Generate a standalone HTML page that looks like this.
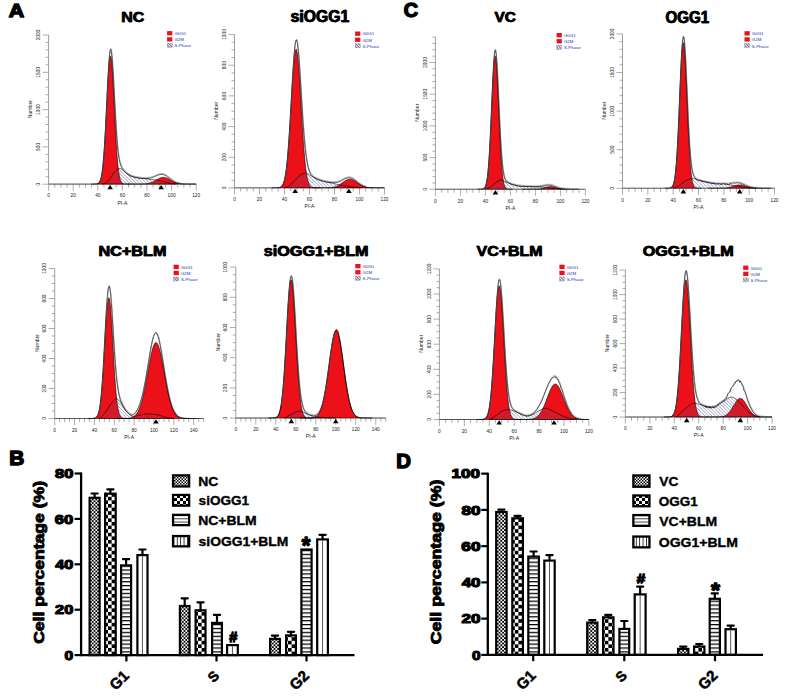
<!DOCTYPE html>
<html><head><meta charset="utf-8"><title>Figure</title><style>
html,body{margin:0;padding:0;background:#fff;}
svg{display:block;}
text{font-family:"Liberation Sans",sans-serif;}
.tl{font-size:4.8px;fill:#222;}
.nl{font-size:5.1px;fill:#222;}
.lg{font-size:4.4px;fill:#2233bb;}
.blk{fill:#000;color:#000;}
</style></head><body>
<svg width="797" height="700" viewBox="0 0 797 700">
<defs>
<pattern id="hatch" patternUnits="userSpaceOnUse" width="2.4" height="2.4" patternTransform="rotate(-45)"><line x1="0" y1="0" x2="0" y2="2.4" stroke="#4a4f8a" stroke-width="0.75"/></pattern>
<pattern id="hatch2" patternUnits="userSpaceOnUse" width="2" height="2" patternTransform="rotate(-45)"><rect width="2" height="2" fill="#fff"/><line x1="0.5" y1="0" x2="0.5" y2="2" stroke="#4a4f8a" stroke-width="0.9"/></pattern>
<pattern id="p1" patternUnits="userSpaceOnUse" width="3.6" height="3.6"><rect width="3.6" height="3.6" fill="#fff"/><rect width="1.8" height="1.8" fill="#000"/><rect x="1.8" y="1.8" width="1.8" height="1.8" fill="#000"/></pattern>
<pattern id="p2" patternUnits="userSpaceOnUse" width="7.2" height="7.2"><rect width="7.2" height="7.2" fill="#fff"/><rect width="3.6" height="3.6" fill="#000"/><rect x="3.6" y="3.6" width="3.6" height="3.6" fill="#000"/></pattern>
<pattern id="p3" patternUnits="userSpaceOnUse" width="4" height="3.9"><rect width="4" height="3.9" fill="#fff"/><rect y="0" width="4" height="1.25" fill="#000"/></pattern>
<pattern id="p4" patternUnits="userSpaceOnUse" width="100" height="4"><rect width="100" height="4" fill="#fff"/></pattern>
<pattern id="l1" patternUnits="userSpaceOnUse" width="3" height="3"><rect width="3" height="3" fill="#fff"/><rect width="1.5" height="1.5" fill="#000"/><rect x="1.5" y="1.5" width="1.5" height="1.5" fill="#000"/></pattern>
<pattern id="l2" patternUnits="userSpaceOnUse" width="6" height="6"><rect width="6" height="6" fill="#fff"/><rect width="3" height="3" fill="#000"/><rect x="3" y="3" width="3" height="3" fill="#000"/></pattern>
<pattern id="l3" patternUnits="userSpaceOnUse" width="4" height="3.2"><rect width="4" height="3.2" fill="#fff"/><rect y="0" width="4" height="0.9" fill="#222"/></pattern>
<pattern id="l4" patternUnits="userSpaceOnUse" width="3.4" height="4"><rect width="3.4" height="4" fill="#fff"/><rect x="0" width="0.9" height="4" fill="#222"/></pattern>
</defs>
<rect width="797" height="700" fill="#fff"/>
<clipPath id="c0"><rect x="48.6" y="23" width="147.6" height="161.5"/></clipPath>
<path d="M48.6,35V184.2H196.2" fill="none" stroke="#777" stroke-width="0.7"/>
<path d="M42.6,184.2H48.6M45.6,176.74H48.6M45.6,169.28H48.6M45.6,161.82H48.6M45.6,154.36H48.6M42.6,146.9H48.6M45.6,139.44H48.6M45.6,131.98H48.6M45.6,124.52H48.6M45.6,117.06H48.6M42.6,109.6H48.6M45.6,102.14H48.6M45.6,94.68H48.6M45.6,87.22H48.6M45.6,79.76H48.6M42.6,72.3H48.6M45.6,64.84H48.6M45.6,57.38H48.6M45.6,49.92H48.6M45.6,42.46H48.6M42.6,35H48.6M48.6,184.2V190.7M54.75,184.2V187.7M60.9,184.2V187.7M67.05,184.2V187.7M73.2,184.2V190.7M79.35,184.2V187.7M85.5,184.2V187.7M91.65,184.2V187.7M97.8,184.2V190.7M103.95,184.2V187.7M110.1,184.2V187.7M116.25,184.2V187.7M122.4,184.2V190.7M128.55,184.2V187.7M134.7,184.2V187.7M140.85,184.2V187.7M147,184.2V190.7M153.15,184.2V187.7M159.3,184.2V187.7M165.45,184.2V187.7M171.6,184.2V190.7M177.75,184.2V187.7M183.9,184.2V187.7M190.05,184.2V187.7M196.2,184.2V190.7" stroke="#777" stroke-width="0.6"/>
<g clip-path="url(#c0)">
<path d="M91.4,184.2 L91.71,184.2 L92.02,184.2 L92.33,184.2 L92.63,184.2 L92.94,184.2 L93.25,184.2 L93.56,184.19 L93.86,184.19 L94.17,184.19 L94.48,184.18 L94.79,184.17 L95.09,184.16 L95.4,184.15 L95.71,184.13 L96.02,184.1 L96.32,184.07 L96.63,184.02 L96.94,183.96 L97.25,183.89 L97.55,183.79 L97.86,183.66 L98.17,183.49 L98.48,183.29 L98.78,183.03 L99.09,182.7 L99.4,182.3 L99.71,181.81 L100.01,181.21 L100.32,180.48 L100.63,179.61 L100.94,178.56 L101.24,177.33 L101.55,175.87 L101.86,174.18 L102.17,172.21 L102.47,169.96 L102.78,167.39 L103.09,164.48 L103.4,161.23 L103.7,157.61 L104.01,153.62 L104.32,149.26 L104.63,144.53 L104.93,139.46 L105.24,134.07 L105.55,128.39 L105.86,122.47 L106.16,116.36 L106.47,110.14 L106.78,103.87 L107.09,97.63 L107.39,91.51 L107.7,85.6 L108.01,80 L108.32,74.79 L108.62,70.06 L108.93,65.91 L109.24,62.39 L109.55,59.59 L109.85,57.55 L110.16,56.3 L110.47,55.89 L110.78,56.3 L111.08,57.55 L111.39,59.59 L111.7,62.39 L112.01,65.91 L112.31,70.06 L112.62,74.79 L112.93,80 L113.24,85.6 L113.54,91.51 L113.85,97.63 L114.16,103.87 L114.47,110.14 L114.77,116.36 L115.08,122.47 L115.39,128.39 L115.7,134.07 L116,139.46 L116.31,144.53 L116.62,149.26 L116.93,153.62 L117.23,157.61 L117.54,161.23 L117.85,164.48 L118.16,167.39 L118.46,169.96 L118.77,172.21 L119.08,174.18 L119.39,175.87 L119.69,177.33 L120,178.56 L120.31,179.61 L120.62,180.48 L120.92,181.21 L121.23,181.81 L121.54,182.3 L121.85,182.7 L122.15,183.03 L122.46,183.29 L122.77,183.49 L123.08,183.66 L123.38,183.79 L123.69,183.89 L124,183.96 L124.31,184.02 L124.61,184.07 L124.92,184.1 L125.23,184.13 L125.54,184.15 L125.84,184.16 L126.15,184.17 L126.46,184.18 L126.77,184.19 L127.07,184.19 L127.38,184.19 L127.69,184.2 L128,184.2 L128.3,184.2 L128.61,184.2 L128.92,184.2 L129.23,184.2 L129.53,184.2 L129.53,184.2 L91.4,184.2 Z" fill="#ec1018" stroke="#000" stroke-width="0.6"/>
<path d="M127.69,184.2 L128,184.2 L128.3,184.2 L128.61,184.2 L128.92,184.2 L129.23,184.2 L129.53,184.2 L129.84,184.2 L130.15,184.2 L130.46,184.2 L130.76,184.2 L131.07,184.2 L131.38,184.2 L131.69,184.2 L131.99,184.2 L132.3,184.2 L132.61,184.2 L132.92,184.2 L133.22,184.2 L133.53,184.2 L133.84,184.2 L134.15,184.2 L134.45,184.2 L134.76,184.2 L135.07,184.2 L135.38,184.2 L135.68,184.2 L135.99,184.2 L136.3,184.19 L136.61,184.19 L136.91,184.19 L137.22,184.19 L137.53,184.19 L137.84,184.19 L138.14,184.19 L138.45,184.18 L138.76,184.18 L139.07,184.18 L139.37,184.18 L139.68,184.17 L139.99,184.17 L140.3,184.16 L140.6,184.16 L140.91,184.15 L141.22,184.14 L141.53,184.14 L141.83,184.13 L142.14,184.12 L142.45,184.11 L142.76,184.09 L143.06,184.08 L143.37,184.06 L143.68,184.05 L143.99,184.03 L144.29,184.01 L144.6,183.98 L144.91,183.96 L145.22,183.93 L145.52,183.9 L145.83,183.86 L146.14,183.83 L146.45,183.79 L146.75,183.74 L147.06,183.7 L147.37,183.64 L147.68,183.59 L147.98,183.53 L148.29,183.46 L148.6,183.39 L148.91,183.32 L149.21,183.24 L149.52,183.15 L149.83,183.06 L150.14,182.97 L150.44,182.87 L150.75,182.76 L151.06,182.65 L151.37,182.53 L151.67,182.41 L151.98,182.28 L152.29,182.14 L152.6,182 L152.9,181.85 L153.21,181.7 L153.52,181.55 L153.83,181.39 L154.13,181.23 L154.44,181.06 L154.75,180.89 L155.06,180.71 L155.36,180.54 L155.67,180.36 L155.98,180.18 L156.29,180 L156.59,179.82 L156.9,179.64 L157.21,179.47 L157.52,179.29 L157.82,179.12 L158.13,178.95 L158.44,178.79 L158.75,178.63 L159.05,178.48 L159.36,178.33 L159.67,178.2 L159.98,178.07 L160.28,177.95 L160.59,177.83 L160.9,177.73 L161.21,177.64 L161.51,177.56 L161.82,177.49 L162.13,177.44 L162.44,177.39 L162.74,177.36 L163.05,177.34 L163.36,177.34 L163.67,177.34 L163.97,177.36 L164.28,177.39 L164.59,177.44 L164.9,177.49 L165.2,177.56 L165.51,177.64 L165.82,177.73 L166.13,177.83 L166.43,177.95 L166.74,178.07 L167.05,178.2 L167.36,178.33 L167.66,178.48 L167.97,178.63 L168.28,178.79 L168.59,178.95 L168.89,179.12 L169.2,179.29 L169.51,179.47 L169.82,179.64 L170.12,179.82 L170.43,180 L170.74,180.18 L171.05,180.36 L171.35,180.54 L171.66,180.71 L171.97,180.89 L172.28,181.06 L172.58,181.23 L172.89,181.39 L173.2,181.55 L173.51,181.7 L173.81,181.85 L174.12,182 L174.43,182.14 L174.74,182.28 L175.04,182.41 L175.35,182.53 L175.66,182.65 L175.97,182.76 L176.27,182.87 L176.58,182.97 L176.89,183.06 L177.2,183.15 L177.5,183.24 L177.81,183.32 L178.12,183.39 L178.43,183.46 L178.73,183.53 L179.04,183.59 L179.35,183.64 L179.66,183.7 L179.96,183.74 L180.27,183.79 L180.58,183.83 L180.89,183.86 L181.19,183.9 L181.5,183.93 L181.81,183.96 L182.12,183.98 L182.42,184.01 L182.73,184.03 L183.04,184.05 L183.35,184.06 L183.65,184.08 L183.96,184.09 L184.27,184.11 L184.58,184.12 L184.88,184.13 L185.19,184.14 L185.5,184.14 L185.81,184.15 L186.11,184.16 L186.42,184.16 L186.73,184.17 L187.04,184.17 L187.34,184.18 L187.65,184.18 L187.96,184.18 L188.27,184.18 L188.57,184.19 L188.88,184.19 L189.19,184.19 L189.5,184.19 L189.8,184.19 L190.11,184.19 L190.42,184.19 L190.73,184.2 L191.03,184.2 L191.34,184.2 L191.65,184.2 L191.96,184.2 L192.26,184.2 L192.57,184.2 L192.88,184.2 L193.19,184.2 L193.49,184.2 L193.8,184.2 L194.11,184.2 L194.42,184.2 L194.72,184.2 L195.03,184.2 L195.34,184.2 L195.65,184.2 L195.95,184.2 L196.26,184.2 L196.57,184.2 L196.88,184.2 L197.18,184.2 L197.49,184.2 L197.8,184.2 L198.11,184.2 L198.41,184.2 L198.72,184.2 L199.03,184.2 L199.03,184.2 L127.69,184.2 Z" fill="#ec1018" stroke="#000" stroke-width="0.6"/>
<path d="M101.49,184.2 L102.11,184.08 L102.72,183.94 L103.34,183.77 L103.95,183.58 L104.56,183.34 L105.18,183.06 L105.8,182.73 L106.41,182.33 L107.03,181.84 L107.64,181.24 L108.25,180.55 L108.87,179.8 L109.48,179.02 L110.1,178.23 L110.72,177.41 L111.33,176.52 L111.94,175.6 L112.56,174.68 L113.18,173.81 L113.79,173.01 L114.41,172.28 L115.02,171.58 L115.63,170.92 L116.25,170.31 L116.87,169.76 L117.48,169.28 L118.09,168.9 L118.71,168.66 L119.32,168.54 L119.94,168.53 L120.56,168.65 L121.17,168.89 L121.78,169.24 L122.4,169.65 L123.01,170.15 L123.63,170.72 L124.25,171.33 L124.86,171.94 L125.47,172.51 L126.09,173.01 L126.71,173.46 L127.32,173.89 L127.94,174.3 L128.55,174.69 L129.16,175.06 L129.78,175.4 L130.4,175.72 L131.01,175.99 L131.62,176.24 L132.24,176.47 L132.85,176.67 L133.47,176.86 L134.09,177.03 L134.7,177.18 L135.31,177.32 L135.93,177.46 L136.54,177.59 L137.16,177.71 L137.78,177.83 L138.39,177.93 L139,178.03 L139.62,178.11 L140.24,178.19 L140.85,178.27 L141.47,178.34 L142.08,178.4 L142.69,178.47 L143.31,178.54 L143.93,178.61 L144.54,178.68 L145.16,178.75 L145.77,178.82 L146.38,178.89 L147,178.96 L147.62,179.02 L148.23,179.09 L148.84,179.16 L149.46,179.22 L150.07,179.29 L150.69,179.36 L151.31,179.43 L151.92,179.5 L152.53,179.57 L153.15,179.65 L153.76,179.72 L154.38,179.8 L155,179.87 L155.61,179.95 L156.22,180.04 L156.84,180.13 L157.46,180.22 L158.07,180.32 L158.69,180.43 L159.3,180.54 L159.91,180.66 L160.53,180.79 L161.15,180.93 L161.76,181.07 L162.38,181.21 L162.99,181.37 L163.6,181.53 L164.22,181.7 L164.84,181.88 L165.45,182.07 L166.06,182.25 L166.68,182.44 L167.29,182.62 L167.91,182.79 L168.53,182.94 L169.14,183.08 L169.75,183.21 L170.37,183.33 L170.99,183.45 L171.6,183.56 L172.22,183.66 L172.83,183.76 L173.44,183.86 L174.06,183.94 L174.68,184.02 L175.29,184.09 L175.91,184.15 L176.52,184.2 L176.52,184.2 L101.49,184.2 Z" fill="url(#hatch)" stroke="#000" stroke-width="0.6"/>
<path d="M48.6,184.2 L49.22,184.2 L49.83,184.2 L50.45,184.2 L51.06,184.2 L51.68,184.2 L52.29,184.2 L52.91,184.2 L53.52,184.2 L54.14,184.2 L54.75,184.2 L55.37,184.2 L55.98,184.2 L56.59,184.2 L57.21,184.2 L57.83,184.2 L58.44,184.2 L59.05,184.2 L59.67,184.2 L60.29,184.2 L60.9,184.2 L61.52,184.2 L62.13,184.2 L62.75,184.2 L63.36,184.2 L63.98,184.2 L64.59,184.2 L65.2,184.2 L65.82,184.2 L66.44,184.2 L67.05,184.2 L67.67,184.2 L68.28,184.2 L68.89,184.2 L69.51,184.2 L70.12,184.2 L70.74,184.2 L71.36,184.2 L71.97,184.2 L72.59,184.2 L73.2,184.2 L73.81,184.2 L74.43,184.2 L75.05,184.2 L75.66,184.2 L76.28,184.2 L76.89,184.2 L77.5,184.2 L78.12,184.2 L78.73,184.2 L79.35,184.2 L79.97,184.2 L80.58,184.2 L81.19,184.2 L81.81,184.2 L82.43,184.2 L83.04,184.2 L83.66,184.2 L84.27,184.2 L84.88,184.2 L85.5,184.2 L86.12,184.2 L86.73,184.2 L87.34,184.2 L87.96,184.2 L88.58,184.2 L89.19,184.2 L89.81,184.2 L90.42,184.2 L91.03,184.2 L91.65,184.2 L92.27,184.2 L92.88,184.2 L93.5,184.19 L94.11,184.19 L94.72,184.17 L95.34,184.15 L95.95,184.11 L96.57,184.03 L97.19,183.9 L97.8,183.69 L98.41,183.33 L99.03,182.77 L99.65,181.92 L100.26,180.64 L100.88,178.79 L101.49,176.18 L102.11,172.5 L102.72,167.67 L103.34,161.48 L103.95,153.82 L104.56,144.65 L105.18,134.03 L105.8,122.2 L106.41,109.52 L107.03,96.51 L107.64,83.8 L108.25,72.14 L108.87,62.29 L109.48,54.91 L110.1,50.52 L110.72,49.36 L111.33,51.44 L111.94,56.55 L112.56,64.28 L113.18,74.06 L113.79,85.2 L114.41,96.96 L115.02,108.64 L115.63,119.67 L116.25,129.66 L116.87,138.34 L117.48,145.61 L118.09,151.54 L118.71,156.25 L119.32,159.89 L119.94,162.67 L120.56,164.77 L121.17,166.39 L121.78,167.67 L122.4,168.69 L123.01,169.58 L123.63,170.39 L124.25,171.14 L124.86,171.83 L125.47,172.45 L126.09,172.98 L126.71,173.44 L127.32,173.88 L127.94,174.3 L128.55,174.69 L129.16,175.06 L129.78,175.4 L130.4,175.72 L131.01,175.99 L131.62,176.24 L132.24,176.47 L132.85,176.67 L133.47,176.86 L134.09,177.02 L134.7,177.18 L135.31,177.32 L135.93,177.45 L136.54,177.58 L137.16,177.7 L137.78,177.81 L138.39,177.92 L139,178.01 L139.62,178.08 L140.24,178.16 L140.85,178.22 L141.47,178.27 L142.08,178.32 L142.69,178.37 L143.31,178.41 L143.93,178.44 L144.54,178.47 L145.16,178.49 L145.77,178.49 L146.38,178.49 L147,178.46 L147.62,178.42 L148.23,178.37 L148.84,178.29 L149.46,178.19 L150.07,178.08 L150.69,177.94 L151.31,177.78 L151.92,177.6 L152.53,177.4 L153.15,177.18 L153.76,176.94 L154.38,176.69 L155,176.42 L155.61,176.15 L156.22,175.88 L156.84,175.61 L157.46,175.35 L158.07,175.11 L158.69,174.89 L159.3,174.71 L159.91,174.56 L160.53,174.45 L161.15,174.39 L161.76,174.38 L162.38,174.42 L162.99,174.51 L163.6,174.67 L164.22,174.89 L164.84,175.16 L165.45,175.49 L166.06,175.87 L166.68,176.28 L167.29,176.72 L167.91,177.19 L168.53,177.66 L169.14,178.14 L169.75,178.62 L170.37,179.1 L170.99,179.57 L171.6,180.04 L172.22,180.49 L172.83,180.92 L173.44,181.33 L174.06,181.71 L174.68,182.07 L175.29,182.39 L175.91,182.69 L176.52,182.95 L177.13,183.14 L177.75,183.3 L178.36,183.45 L178.98,183.58 L179.59,183.69 L180.21,183.78 L180.82,183.86 L181.44,183.92 L182.05,183.98 L182.67,184.02 L183.28,184.06 L183.9,184.09 L184.51,184.12 L185.13,184.13 L185.75,184.15 L186.36,184.16 L186.97,184.17 L187.59,184.18 L188.2,184.18 L188.82,184.19 L189.44,184.19 L190.05,184.19 L190.66,184.2 L191.28,184.2 L191.89,184.2 L192.51,184.2 L193.12,184.2 L193.74,184.2 L194.35,184.2 L194.97,184.2 L195.58,184.2 L196.2,184.2" fill="none" stroke="#000" stroke-width="0.7"/>
<path d="M97.8,183.69 L98.41,183.33 L99.03,182.77 L99.65,181.92 L100.26,180.64 L100.88,178.79 L101.49,176.18 L102.11,172.5 L102.72,167.67 L103.34,161.48 L103.95,153.82 L104.56,144.65 L105.18,134.03 L105.8,122.2 L106.41,109.52 L107.03,96.51 L107.64,83.8 L108.25,72.14 L108.87,62.29 L109.48,54.91 L110.1,50.52 L110.72,49.36 L111.33,51.44 L111.94,56.55 L112.56,64.28 L113.18,74.06 L113.79,85.2 L114.41,96.96 L115.02,108.64 L115.63,119.67 L116.25,129.66 L116.87,138.34 L117.48,145.61 L118.09,151.54 L118.71,156.25 L119.32,159.89 L119.94,162.67 L120.56,164.77 L121.17,166.39 L121.78,167.67 L122.4,168.69 L123.01,169.58 L123.63,170.39 L124.25,171.14 L124.86,171.83 L125.47,172.45 L126.09,172.98 L126.71,173.44 L127.32,173.88 L127.94,174.3 L128.55,174.69 L129.16,175.06 L129.78,175.4 L130.4,175.72 L131.01,175.99 L131.62,176.24 L132.24,176.47 L132.85,176.67 L133.47,176.86 L134.09,177.02 L134.7,177.18 L135.31,177.32 L135.93,177.45 L136.54,177.58 L137.16,177.7 L137.78,177.81 L138.39,177.92 L139,178.01 L139.62,178.08 L140.24,178.16 L140.85,178.22 L141.47,178.27 L142.08,178.32 L142.69,178.37 L143.31,178.41 L143.93,178.44 L144.54,178.47 L145.16,178.49 L145.77,178.49 L146.38,178.49 L147,178.46 L147.62,178.42 L148.23,178.37 L148.84,178.29 L149.46,178.19 L150.07,178.08 L150.69,177.94 L151.31,177.78 L151.92,177.6 L152.53,177.4 L153.15,177.18 L153.76,176.94 L154.38,176.69 L155,176.42 L155.61,176.15 L156.22,175.88 L156.84,175.61 L157.46,175.35 L158.07,175.11 L158.69,174.89 L159.3,174.71 L159.91,174.56 L160.53,174.45 L161.15,174.39 L161.76,174.38 L162.38,174.42 L162.99,174.51 L163.6,174.67 L164.22,174.89 L164.84,175.16 L165.45,175.49 L166.06,175.87 L166.68,176.28 L167.29,176.72 L167.91,177.19 L168.53,177.66 L169.14,178.14 L169.75,178.62 L170.37,179.1 L170.99,179.57 L171.6,180.04 L172.22,180.49 L172.83,180.92 L173.44,181.33 L174.06,181.71 L174.68,182.07 L175.29,182.39 L175.91,182.69 L176.52,182.95 L177.13,183.14 L177.75,183.3 L178.36,183.45 L178.98,183.58 L179.59,183.69 L180.21,183.78" fill="none" stroke="#666" stroke-width="0.55" transform="translate(0.3,-0.9)"/>
</g>
<text x="48.6" y="197.4" class="tl" text-anchor="middle">0</text>
<text x="73.2" y="197.4" class="tl" text-anchor="middle">20</text>
<text x="97.8" y="197.4" class="tl" text-anchor="middle">40</text>
<text x="122.4" y="197.4" class="tl" text-anchor="middle">60</text>
<text x="147" y="197.4" class="tl" text-anchor="middle">80</text>
<text x="171.6" y="197.4" class="tl" text-anchor="middle">100</text>
<text x="196.2" y="197.4" class="tl" text-anchor="middle">120</text>
<text class="tl" text-anchor="middle" transform="translate(40.1,184.2) rotate(-90)">0</text>
<text class="tl" text-anchor="middle" transform="translate(40.1,146.9) rotate(-90)">500</text>
<text class="tl" text-anchor="middle" transform="translate(40.1,109.6) rotate(-90)">1000</text>
<text class="tl" text-anchor="middle" transform="translate(40.1,72.3) rotate(-90)">1500</text>
<text class="tl" text-anchor="middle" transform="translate(40.1,35) rotate(-90)">2000</text>
<text class="nl" text-anchor="middle" transform="translate(32.4,109.1) rotate(-90)">Number</text>
<text class="nl" x="122.4" y="204.5" text-anchor="middle">PI-A</text>
<path d="M110.1,184.9 l2.8,4.4 h-5.6z" fill="#000"/>
<path d="M161.15,184.9 l2.8,4.4 h-5.6z" fill="#000"/>
<rect x="167.1" y="31.1" width="5.2" height="4.3" fill="#ec1018"/>
<rect x="167.1" y="37.2" width="5.2" height="4.3" fill="#ec1018"/>
<rect x="167.2" y="43.4" width="5" height="4" fill="url(#hatch2)" stroke="#888" stroke-width="0.4"/>
<text class="lg" x="174.4" y="35">G0G1</text>
<text class="lg" x="174.4" y="41.2">G2M</text>
<text class="lg" x="174.4" y="47.4">S-Phase</text>
<text class="blk" x="120.98" y="22.45" textLength="23.01" lengthAdjust="spacingAndGlyphs" style="font-size:15.21px;font-weight:bold" stroke="currentColor" stroke-width="0.4" stroke-linejoin="round">NC</text><g transform="translate(0.55,0)"><text class="blk" x="120.98" y="22.45" textLength="23.01" lengthAdjust="spacingAndGlyphs" style="font-size:15.21px;font-weight:bold" stroke="currentColor" stroke-width="0.4" stroke-linejoin="round">NC</text></g>
<clipPath id="c1"><rect x="234.5" y="22.5" width="150" height="165.8"/></clipPath>
<path d="M234.5,34.5V188H384.5" fill="none" stroke="#777" stroke-width="0.7"/>
<path d="M228.5,188H234.5M231.5,180.32H234.5M231.5,172.65H234.5M231.5,164.97H234.5M228.5,157.3H234.5M231.5,149.62H234.5M231.5,141.95H234.5M231.5,134.28H234.5M228.5,126.6H234.5M231.5,118.92H234.5M231.5,111.25H234.5M231.5,103.58H234.5M228.5,95.9H234.5M231.5,88.23H234.5M231.5,80.55H234.5M231.5,72.88H234.5M228.5,65.2H234.5M231.5,57.53H234.5M231.5,49.85H234.5M231.5,42.18H234.5M228.5,34.5H234.5M234.5,188V194.5M240.75,188V191.5M247,188V191.5M253.25,188V191.5M259.5,188V194.5M265.75,188V191.5M272,188V191.5M278.25,188V191.5M284.5,188V194.5M290.75,188V191.5M297,188V191.5M303.25,188V191.5M309.5,188V194.5M315.75,188V191.5M322,188V191.5M328.25,188V191.5M334.5,188V194.5M340.75,188V191.5M347,188V191.5M353.25,188V191.5M359.5,188V194.5M365.75,188V191.5M372,188V191.5M378.25,188V191.5M384.5,188V194.5" stroke="#777" stroke-width="0.6"/>
<g clip-path="url(#c1)">
<path d="M271.75,188 L272.06,188 L272.38,188 L272.69,188 L273,188 L273.31,188 L273.62,188 L273.94,188 L274.25,187.99 L274.56,187.99 L274.88,187.99 L275.19,187.99 L275.5,187.98 L275.81,187.98 L276.12,187.97 L276.44,187.96 L276.75,187.95 L277.06,187.93 L277.38,187.91 L277.69,187.89 L278,187.86 L278.31,187.82 L278.62,187.78 L278.94,187.72 L279.25,187.65 L279.56,187.57 L279.88,187.46 L280.19,187.34 L280.5,187.18 L280.81,187 L281.12,186.78 L281.44,186.52 L281.75,186.2 L282.06,185.83 L282.38,185.4 L282.69,184.89 L283,184.3 L283.31,183.61 L283.62,182.81 L283.94,181.9 L284.25,180.85 L284.56,179.66 L284.88,178.31 L285.19,176.79 L285.5,175.08 L285.81,173.17 L286.12,171.05 L286.44,168.71 L286.75,166.14 L287.06,163.32 L287.38,160.25 L287.69,156.93 L288,153.36 L288.31,149.53 L288.62,145.46 L288.94,141.15 L289.25,136.61 L289.56,131.86 L289.88,126.93 L290.19,121.83 L290.5,116.61 L290.81,111.28 L291.12,105.9 L291.44,100.5 L291.75,95.13 L292.06,89.83 L292.38,84.66 L292.69,79.66 L293,74.88 L293.31,70.38 L293.62,66.2 L293.94,62.39 L294.25,58.99 L294.56,56.04 L294.88,53.57 L295.19,51.63 L295.5,50.22 L295.81,49.37 L296.12,49.08 L296.44,49.37 L296.75,50.22 L297.06,51.63 L297.38,53.57 L297.69,56.04 L298,58.99 L298.31,62.39 L298.62,66.2 L298.94,70.38 L299.25,74.88 L299.56,79.66 L299.88,84.66 L300.19,89.83 L300.5,95.13 L300.81,100.5 L301.12,105.9 L301.44,111.28 L301.75,116.61 L302.06,121.83 L302.38,126.93 L302.69,131.86 L303,136.61 L303.31,141.15 L303.62,145.46 L303.94,149.53 L304.25,153.36 L304.56,156.93 L304.88,160.25 L305.19,163.32 L305.5,166.14 L305.81,168.71 L306.12,171.05 L306.44,173.17 L306.75,175.08 L307.06,176.79 L307.38,178.31 L307.69,179.66 L308,180.85 L308.31,181.9 L308.62,182.81 L308.94,183.61 L309.25,184.3 L309.56,184.89 L309.88,185.4 L310.19,185.83 L310.5,186.2 L310.81,186.52 L311.12,186.78 L311.44,187 L311.75,187.18 L312.06,187.34 L312.38,187.46 L312.69,187.57 L313,187.65 L313.31,187.72 L313.62,187.78 L313.94,187.82 L314.25,187.86 L314.56,187.89 L314.88,187.91 L315.19,187.93 L315.5,187.95 L315.81,187.96 L316.12,187.97 L316.44,187.98 L316.75,187.98 L317.06,187.99 L317.38,187.99 L317.69,187.99 L318,187.99 L318.31,188 L318.62,188 L318.94,188 L319.25,188 L319.56,188 L319.88,188 L320.19,188 L320.5,188 L320.5,188 L271.75,188 Z" fill="#ec1018" stroke="#000" stroke-width="0.6"/>
<path d="M312.38,188 L312.69,188 L313,188 L313.31,188 L313.62,188 L313.94,188 L314.25,188 L314.56,188 L314.88,188 L315.19,188 L315.5,188 L315.81,188 L316.12,188 L316.44,188 L316.75,188 L317.06,188 L317.38,188 L317.69,188 L318,188 L318.31,188 L318.62,188 L318.94,188 L319.25,188 L319.56,188 L319.88,188 L320.19,188 L320.5,188 L320.81,188 L321.12,187.99 L321.44,187.99 L321.75,187.99 L322.06,187.99 L322.38,187.99 L322.69,187.99 L323,187.99 L323.31,187.98 L323.62,187.98 L323.94,187.98 L324.25,187.97 L324.56,187.97 L324.88,187.97 L325.19,187.96 L325.5,187.96 L325.81,187.95 L326.12,187.94 L326.44,187.93 L326.75,187.92 L327.06,187.91 L327.38,187.9 L327.69,187.89 L328,187.88 L328.31,187.86 L328.62,187.84 L328.94,187.82 L329.25,187.8 L329.56,187.78 L329.88,187.75 L330.19,187.72 L330.5,187.69 L330.81,187.65 L331.12,187.62 L331.44,187.57 L331.75,187.53 L332.06,187.48 L332.38,187.42 L332.69,187.37 L333,187.3 L333.31,187.24 L333.62,187.16 L333.94,187.08 L334.25,187 L334.56,186.91 L334.88,186.82 L335.19,186.71 L335.5,186.61 L335.81,186.49 L336.12,186.37 L336.44,186.24 L336.75,186.11 L337.06,185.97 L337.38,185.82 L337.69,185.66 L338,185.5 L338.31,185.33 L338.62,185.16 L338.94,184.98 L339.25,184.79 L339.56,184.6 L339.88,184.4 L340.19,184.2 L340.5,183.99 L340.81,183.78 L341.12,183.57 L341.44,183.35 L341.75,183.13 L342.06,182.91 L342.38,182.69 L342.69,182.47 L343,182.25 L343.31,182.03 L343.62,181.82 L343.94,181.6 L344.25,181.4 L344.56,181.19 L344.88,180.99 L345.19,180.8 L345.5,180.62 L345.81,180.44 L346.12,180.28 L346.44,180.12 L346.75,179.98 L347.06,179.84 L347.38,179.72 L347.69,179.61 L348,179.52 L348.31,179.44 L348.62,179.37 L348.94,179.32 L349.25,179.28 L349.56,179.26 L349.88,179.25 L350.19,179.26 L350.5,179.28 L350.81,179.32 L351.12,179.37 L351.44,179.44 L351.75,179.52 L352.06,179.61 L352.38,179.72 L352.69,179.84 L353,179.98 L353.31,180.12 L353.62,180.28 L353.94,180.44 L354.25,180.62 L354.56,180.8 L354.88,180.99 L355.19,181.19 L355.5,181.4 L355.81,181.6 L356.12,181.82 L356.44,182.03 L356.75,182.25 L357.06,182.47 L357.38,182.69 L357.69,182.91 L358,183.13 L358.31,183.35 L358.62,183.57 L358.94,183.78 L359.25,183.99 L359.56,184.2 L359.88,184.4 L360.19,184.6 L360.5,184.79 L360.81,184.98 L361.12,185.16 L361.44,185.33 L361.75,185.5 L362.06,185.66 L362.38,185.82 L362.69,185.97 L363,186.11 L363.31,186.24 L363.62,186.37 L363.94,186.49 L364.25,186.61 L364.56,186.71 L364.88,186.82 L365.19,186.91 L365.5,187 L365.81,187.08 L366.12,187.16 L366.44,187.24 L366.75,187.3 L367.06,187.37 L367.38,187.42 L367.69,187.48 L368,187.53 L368.31,187.57 L368.62,187.62 L368.94,187.65 L369.25,187.69 L369.56,187.72 L369.88,187.75 L370.19,187.78 L370.5,187.8 L370.81,187.82 L371.12,187.84 L371.44,187.86 L371.75,187.88 L372.06,187.89 L372.38,187.9 L372.69,187.91 L373,187.92 L373.31,187.93 L373.62,187.94 L373.94,187.95 L374.25,187.96 L374.56,187.96 L374.88,187.97 L375.19,187.97 L375.5,187.97 L375.81,187.98 L376.12,187.98 L376.44,187.98 L376.75,187.99 L377.06,187.99 L377.38,187.99 L377.69,187.99 L378,187.99 L378.31,187.99 L378.62,187.99 L378.94,188 L379.25,188 L379.56,188 L379.88,188 L380.19,188 L380.5,188 L380.81,188 L381.12,188 L381.44,188 L381.75,188 L382.06,188 L382.38,188 L382.69,188 L383,188 L383.31,188 L383.62,188 L383.94,188 L384.25,188 L384.56,188 L384.88,188 L385.19,188 L385.5,188 L385.81,188 L386.12,188 L386.44,188 L386.75,188 L387.06,188 L387.38,188 L387.38,188 L312.38,188 Z" fill="#ec1018" stroke="#000" stroke-width="0.6"/>
<path d="M284.5,188 L285.12,187.79 L285.75,187.53 L286.38,187.24 L287,186.92 L287.62,186.56 L288.25,186.18 L288.88,185.76 L289.5,185.33 L290.12,184.87 L290.75,184.39 L291.38,183.9 L292,183.4 L292.62,182.85 L293.25,182.25 L293.88,181.6 L294.5,180.91 L295.12,180.21 L295.75,179.49 L296.38,178.78 L297,178.09 L297.62,177.42 L298.25,176.8 L298.88,176.22 L299.5,175.72 L300.12,175.26 L300.75,174.84 L301.38,174.44 L302,174.09 L302.62,173.78 L303.25,173.53 L303.88,173.32 L304.5,173.18 L305.12,173.11 L305.75,173.11 L306.38,173.21 L307,173.41 L307.62,173.69 L308.25,174.05 L308.88,174.44 L309.5,174.87 L310.12,175.31 L310.75,175.74 L311.38,176.14 L312,176.49 L312.62,176.81 L313.25,177.14 L313.88,177.46 L314.5,177.79 L315.12,178.11 L315.75,178.42 L316.38,178.73 L317,179.02 L317.62,179.3 L318.25,179.56 L318.88,179.8 L319.5,180.04 L320.12,180.26 L320.75,180.47 L321.38,180.67 L322,180.86 L322.62,181.05 L323.25,181.22 L323.88,181.39 L324.5,181.55 L325.12,181.71 L325.75,181.85 L326.38,181.98 L327,182.11 L327.62,182.23 L328.25,182.35 L328.88,182.47 L329.5,182.58 L330.12,182.7 L330.75,182.82 L331.38,182.95 L332,183.09 L332.62,183.23 L333.25,183.38 L333.88,183.54 L334.5,183.7 L335.12,183.86 L335.75,184.03 L336.38,184.19 L337,184.35 L337.62,184.51 L338.25,184.65 L338.88,184.8 L339.5,184.93 L340.12,185.05 L340.75,185.17 L341.38,185.28 L342,185.39 L342.62,185.49 L343.25,185.59 L343.88,185.69 L344.5,185.78 L345.12,185.88 L345.75,185.97 L346.38,186.06 L347,186.16 L347.62,186.25 L348.25,186.35 L348.88,186.44 L349.5,186.54 L350.12,186.63 L350.75,186.72 L351.38,186.81 L352,186.9 L352.62,186.99 L353.25,187.07 L353.88,187.15 L354.5,187.23 L355.12,187.31 L355.75,187.39 L356.38,187.46 L357,187.54 L357.62,187.61 L358.25,187.68 L358.88,187.75 L359.5,187.81 L360.12,187.87 L360.75,187.92 L361.38,187.96 L362,188 L362,188 L284.5,188 Z" fill="url(#hatch)" stroke="#000" stroke-width="0.6"/>
<path d="M234.5,188 L235.12,188 L235.75,188 L236.38,188 L237,188 L237.62,188 L238.25,188 L238.88,188 L239.5,188 L240.12,188 L240.75,188 L241.38,188 L242,188 L242.62,188 L243.25,188 L243.88,188 L244.5,188 L245.12,188 L245.75,188 L246.38,188 L247,188 L247.62,188 L248.25,188 L248.88,188 L249.5,188 L250.12,188 L250.75,188 L251.38,188 L252,188 L252.62,188 L253.25,188 L253.88,188 L254.5,188 L255.12,188 L255.75,188 L256.38,188 L257,188 L257.62,188 L258.25,188 L258.88,188 L259.5,188 L260.12,188 L260.75,188 L261.38,188 L262,188 L262.62,188 L263.25,188 L263.88,188 L264.5,188 L265.12,188 L265.75,188 L266.38,188 L267,188 L267.62,188 L268.25,188 L268.88,188 L269.5,188 L270.12,188 L270.75,188 L271.38,188 L272,188 L272.62,188 L273.25,188 L273.88,188 L274.5,187.99 L275.12,187.99 L275.75,187.98 L276.38,187.96 L277,187.94 L277.62,187.9 L278.25,187.83 L278.88,187.73 L279.5,187.59 L280.12,187.36 L280.75,187.04 L281.38,186.57 L282,185.91 L282.62,185 L283.25,183.75 L283.88,182.09 L284.5,179.91 L285.12,176.89 L285.75,173.11 L286.38,168.44 L287,162.82 L287.62,156.18 L288.25,148.5 L288.88,139.79 L289.5,130.15 L290.12,119.73 L290.75,108.75 L291.38,97.48 L292,86.28 L292.62,75.49 L293.25,65.5 L293.88,56.71 L294.5,49.5 L295.12,44.18 L295.75,40.98 L296.38,40.05 L297,41.39 L297.62,44.93 L298.25,50.47 L298.88,57.74 L299.5,66.4 L300.12,76.05 L300.75,86.26 L301.38,96.66 L302,106.89 L302.62,116.67 L303.25,125.78 L303.88,134.06 L304.5,141.42 L305.12,147.84 L305.75,153.33 L306.38,157.97 L307,161.87 L307.62,165.1 L308.25,167.74 L308.88,169.9 L309.5,171.65 L310.12,173.06 L310.75,174.19 L311.38,175.09 L312,175.8 L312.62,176.36 L313.25,176.85 L313.88,177.28 L314.5,177.67 L315.12,178.04 L315.75,178.38 L316.38,178.7 L317,179 L317.62,179.29 L318.25,179.55 L318.88,179.8 L319.5,180.03 L320.12,180.26 L320.75,180.47 L321.38,180.66 L322,180.85 L322.62,181.03 L323.25,181.21 L323.88,181.37 L324.5,181.52 L325.12,181.67 L325.75,181.8 L326.38,181.92 L327,182.03 L327.62,182.13 L328.25,182.21 L328.88,182.29 L329.5,182.36 L330.12,182.43 L330.75,182.48 L331.38,182.53 L332,182.58 L332.62,182.61 L333.25,182.63 L333.88,182.64 L334.5,182.63 L335.12,182.6 L335.75,182.54 L336.38,182.46 L337,182.35 L337.62,182.2 L338.25,182.02 L338.88,181.81 L339.5,181.57 L340.12,181.3 L340.75,181 L341.38,180.68 L342,180.35 L342.62,180.01 L343.25,179.67 L343.88,179.33 L344.5,179.01 L345.12,178.72 L345.75,178.45 L346.38,178.22 L347,178.03 L347.62,177.89 L348.25,177.8 L348.88,177.77 L349.5,177.8 L350.12,177.89 L350.75,178.03 L351.38,178.24 L352,178.5 L352.62,178.81 L353.25,179.17 L353.88,179.56 L354.5,180 L355.12,180.46 L355.75,180.95 L356.38,181.45 L357,181.97 L357.62,182.48 L358.25,182.99 L358.88,183.49 L359.5,183.97 L360.12,184.43 L360.75,184.86 L361.38,185.26 L362,185.63 L362.62,185.94 L363.25,186.22 L363.88,186.47 L364.5,186.69 L365.12,186.89 L365.75,187.07 L366.38,187.22 L367,187.35 L367.62,187.47 L368.25,187.56 L368.88,187.65 L369.5,187.71 L370.12,187.77 L370.75,187.82 L371.38,187.86 L372,187.89 L372.62,187.91 L373.25,187.93 L373.88,187.95 L374.5,187.96 L375.12,187.97 L375.75,187.98 L376.38,187.98 L377,187.99 L377.62,187.99 L378.25,187.99 L378.88,188 L379.5,188 L380.12,188 L380.75,188 L381.38,188 L382,188 L382.62,188 L383.25,188 L383.88,188 L384.5,188" fill="none" stroke="#000" stroke-width="0.7"/>
<path d="M280.75,187.04 L281.38,186.57 L282,185.91 L282.62,185 L283.25,183.75 L283.88,182.09 L284.5,179.91 L285.12,176.89 L285.75,173.11 L286.38,168.44 L287,162.82 L287.62,156.18 L288.25,148.5 L288.88,139.79 L289.5,130.15 L290.12,119.73 L290.75,108.75 L291.38,97.48 L292,86.28 L292.62,75.49 L293.25,65.5 L293.88,56.71 L294.5,49.5 L295.12,44.18 L295.75,40.98 L296.38,40.05 L297,41.39 L297.62,44.93 L298.25,50.47 L298.88,57.74 L299.5,66.4 L300.12,76.05 L300.75,86.26 L301.38,96.66 L302,106.89 L302.62,116.67 L303.25,125.78 L303.88,134.06 L304.5,141.42 L305.12,147.84 L305.75,153.33 L306.38,157.97 L307,161.87 L307.62,165.1 L308.25,167.74 L308.88,169.9 L309.5,171.65 L310.12,173.06 L310.75,174.19 L311.38,175.09 L312,175.8 L312.62,176.36 L313.25,176.85 L313.88,177.28 L314.5,177.67 L315.12,178.04 L315.75,178.38 L316.38,178.7 L317,179 L317.62,179.29 L318.25,179.55 L318.88,179.8 L319.5,180.03 L320.12,180.26 L320.75,180.47 L321.38,180.66 L322,180.85 L322.62,181.03 L323.25,181.21 L323.88,181.37 L324.5,181.52 L325.12,181.67 L325.75,181.8 L326.38,181.92 L327,182.03 L327.62,182.13 L328.25,182.21 L328.88,182.29 L329.5,182.36 L330.12,182.43 L330.75,182.48 L331.38,182.53 L332,182.58 L332.62,182.61 L333.25,182.63 L333.88,182.64 L334.5,182.63 L335.12,182.6 L335.75,182.54 L336.38,182.46 L337,182.35 L337.62,182.2 L338.25,182.02 L338.88,181.81 L339.5,181.57 L340.12,181.3 L340.75,181 L341.38,180.68 L342,180.35 L342.62,180.01 L343.25,179.67 L343.88,179.33 L344.5,179.01 L345.12,178.72 L345.75,178.45 L346.38,178.22 L347,178.03 L347.62,177.89 L348.25,177.8 L348.88,177.77 L349.5,177.8 L350.12,177.89 L350.75,178.03 L351.38,178.24 L352,178.5 L352.62,178.81 L353.25,179.17 L353.88,179.56 L354.5,180 L355.12,180.46 L355.75,180.95 L356.38,181.45 L357,181.97 L357.62,182.48 L358.25,182.99 L358.88,183.49 L359.5,183.97 L360.12,184.43 L360.75,184.86 L361.38,185.26 L362,185.63 L362.62,185.94 L363.25,186.22 L363.88,186.47 L364.5,186.69 L365.12,186.89 L365.75,187.07" fill="none" stroke="#666" stroke-width="0.55" transform="translate(0.3,-0.9)"/>
</g>
<text x="234.5" y="201.2" class="tl" text-anchor="middle">0</text>
<text x="259.5" y="201.2" class="tl" text-anchor="middle">20</text>
<text x="284.5" y="201.2" class="tl" text-anchor="middle">40</text>
<text x="309.5" y="201.2" class="tl" text-anchor="middle">60</text>
<text x="334.5" y="201.2" class="tl" text-anchor="middle">80</text>
<text x="359.5" y="201.2" class="tl" text-anchor="middle">100</text>
<text x="384.5" y="201.2" class="tl" text-anchor="middle">120</text>
<text class="tl" text-anchor="middle" transform="translate(226,188) rotate(-90)">0</text>
<text class="tl" text-anchor="middle" transform="translate(226,157.3) rotate(-90)">200</text>
<text class="tl" text-anchor="middle" transform="translate(226,126.6) rotate(-90)">400</text>
<text class="tl" text-anchor="middle" transform="translate(226,95.9) rotate(-90)">600</text>
<text class="tl" text-anchor="middle" transform="translate(226,65.2) rotate(-90)">800</text>
<text class="tl" text-anchor="middle" transform="translate(226,34.5) rotate(-90)">1000</text>
<text class="nl" text-anchor="middle" transform="translate(218.3,110.75) rotate(-90)">Number</text>
<text class="nl" x="309.5" y="208.3" text-anchor="middle">PI-A</text>
<path d="M295.12,188.7 l2.8,4.4 h-5.6z" fill="#000"/>
<path d="M348.88,188.7 l2.8,4.4 h-5.6z" fill="#000"/>
<rect x="355.1" y="31.5" width="5.2" height="4.3" fill="#ec1018"/>
<rect x="355.1" y="37.6" width="5.2" height="4.3" fill="#ec1018"/>
<rect x="355.2" y="43.8" width="5" height="4" fill="url(#hatch2)" stroke="#888" stroke-width="0.4"/>
<text class="lg" x="362.4" y="35.4">G0G1</text>
<text class="lg" x="362.4" y="41.6">G2M</text>
<text class="lg" x="362.4" y="47.8">S-Phase</text>
<text class="blk" x="290.37" y="22.44" textLength="58.55" lengthAdjust="spacingAndGlyphs" style="font-size:15.75px;font-weight:bold" stroke="currentColor" stroke-width="0.4" stroke-linejoin="round">siOGG1</text><g transform="translate(0.55,0)"><text class="blk" x="290.37" y="22.44" textLength="58.55" lengthAdjust="spacingAndGlyphs" style="font-size:15.75px;font-weight:bold" stroke="currentColor" stroke-width="0.4" stroke-linejoin="round">siOGG1</text></g>
<clipPath id="c2"><rect x="435.4" y="25.14" width="150" height="164.46"/></clipPath>
<path d="M435.4,37.14V189.3H585.4" fill="none" stroke="#777" stroke-width="0.7"/>
<path d="M429.4,189.3H435.4M432.4,182.96H435.4M432.4,176.62H435.4M432.4,170.28H435.4M432.4,163.94H435.4M429.4,157.6H435.4M432.4,151.26H435.4M432.4,144.92H435.4M432.4,138.58H435.4M432.4,132.24H435.4M429.4,125.9H435.4M432.4,119.56H435.4M432.4,113.22H435.4M432.4,106.88H435.4M432.4,100.54H435.4M429.4,94.2H435.4M432.4,87.86H435.4M432.4,81.52H435.4M432.4,75.18H435.4M432.4,68.84H435.4M429.4,62.5H435.4M432.4,56.16H435.4M432.4,49.82H435.4M432.4,43.48H435.4M432.4,37.14H435.4M435.4,189.3V195.8M441.65,189.3V192.8M447.9,189.3V192.8M454.15,189.3V192.8M460.4,189.3V195.8M466.65,189.3V192.8M472.9,189.3V192.8M479.15,189.3V192.8M485.4,189.3V195.8M491.65,189.3V192.8M497.9,189.3V192.8M504.15,189.3V192.8M510.4,189.3V195.8M516.65,189.3V192.8M522.9,189.3V192.8M529.15,189.3V192.8M535.4,189.3V195.8M541.65,189.3V192.8M547.9,189.3V192.8M554.15,189.3V192.8M560.4,189.3V195.8M566.65,189.3V192.8M572.9,189.3V192.8M579.15,189.3V192.8M585.4,189.3V195.8" stroke="#777" stroke-width="0.6"/>
<g clip-path="url(#c2)">
<path d="M477.65,189.3 L477.96,189.3 L478.27,189.3 L478.59,189.3 L478.9,189.3 L479.21,189.3 L479.52,189.29 L479.84,189.29 L480.15,189.29 L480.46,189.28 L480.77,189.27 L481.09,189.26 L481.4,189.24 L481.71,189.22 L482.02,189.18 L482.34,189.14 L482.65,189.07 L482.96,188.99 L483.27,188.88 L483.59,188.73 L483.9,188.54 L484.21,188.29 L484.52,187.97 L484.84,187.56 L485.15,187.05 L485.46,186.41 L485.77,185.61 L486.09,184.64 L486.4,183.45 L486.71,182.01 L487.02,180.3 L487.34,178.27 L487.65,175.89 L487.96,173.13 L488.27,169.95 L488.59,166.33 L488.9,162.26 L489.21,157.71 L489.52,152.69 L489.84,147.2 L490.15,141.29 L490.46,134.97 L490.77,128.32 L491.09,121.39 L491.4,114.27 L491.71,107.07 L492.02,99.89 L492.34,92.85 L492.65,86.09 L492.96,79.73 L493.27,73.9 L493.59,68.73 L493.9,64.33 L494.21,60.79 L494.52,58.2 L494.84,56.63 L495.15,56.1 L495.46,56.63 L495.77,58.2 L496.09,60.79 L496.4,64.33 L496.71,68.73 L497.02,73.9 L497.34,79.73 L497.65,86.09 L497.96,92.85 L498.27,99.89 L498.59,107.07 L498.9,114.27 L499.21,121.39 L499.52,128.32 L499.84,134.97 L500.15,141.29 L500.46,147.2 L500.77,152.69 L501.09,157.71 L501.4,162.26 L501.71,166.33 L502.02,169.95 L502.34,173.13 L502.65,175.89 L502.96,178.27 L503.27,180.3 L503.59,182.01 L503.9,183.45 L504.21,184.64 L504.52,185.61 L504.84,186.41 L505.15,187.05 L505.46,187.56 L505.77,187.97 L506.09,188.29 L506.4,188.54 L506.71,188.73 L507.02,188.88 L507.34,188.99 L507.65,189.07 L507.96,189.14 L508.27,189.18 L508.59,189.22 L508.9,189.24 L509.21,189.26 L509.52,189.27 L509.84,189.28 L510.15,189.29 L510.46,189.29 L510.77,189.29 L511.09,189.3 L511.4,189.3 L511.71,189.3 L512.02,189.3 L512.34,189.3 L512.65,189.3 L512.65,189.3 L477.65,189.3 Z" fill="#ec1018" stroke="#000" stroke-width="0.6"/>
<path d="M522.27,189.3 L522.59,189.3 L522.9,189.3 L523.21,189.3 L523.52,189.3 L523.84,189.3 L524.15,189.3 L524.46,189.3 L524.77,189.3 L525.09,189.3 L525.4,189.3 L525.71,189.3 L526.02,189.3 L526.34,189.3 L526.65,189.3 L526.96,189.3 L527.27,189.3 L527.59,189.3 L527.9,189.3 L528.21,189.3 L528.52,189.3 L528.84,189.3 L529.15,189.3 L529.46,189.3 L529.77,189.3 L530.09,189.3 L530.4,189.3 L530.71,189.29 L531.02,189.29 L531.34,189.29 L531.65,189.29 L531.96,189.29 L532.27,189.28 L532.59,189.28 L532.9,189.28 L533.21,189.27 L533.52,189.27 L533.84,189.26 L534.15,189.26 L534.46,189.25 L534.77,189.24 L535.09,189.23 L535.4,189.22 L535.71,189.21 L536.02,189.2 L536.34,189.18 L536.65,189.16 L536.96,189.14 L537.27,189.12 L537.59,189.1 L537.9,189.07 L538.21,189.04 L538.52,189.01 L538.84,188.97 L539.15,188.93 L539.46,188.89 L539.77,188.84 L540.09,188.79 L540.4,188.74 L540.71,188.68 L541.02,188.62 L541.34,188.56 L541.65,188.49 L541.96,188.41 L542.27,188.34 L542.59,188.26 L542.9,188.18 L543.21,188.09 L543.52,188.01 L543.84,187.92 L544.15,187.83 L544.46,187.74 L544.77,187.65 L545.09,187.55 L545.4,187.46 L545.71,187.37 L546.02,187.29 L546.34,187.2 L546.65,187.12 L546.96,187.04 L547.27,186.96 L547.59,186.89 L547.9,186.83 L548.21,186.77 L548.52,186.72 L548.84,186.68 L549.15,186.64 L549.46,186.61 L549.77,186.59 L550.09,186.58 L550.4,186.57 L550.71,186.58 L551.02,186.59 L551.34,186.61 L551.65,186.64 L551.96,186.68 L552.27,186.72 L552.59,186.77 L552.9,186.83 L553.21,186.89 L553.52,186.96 L553.84,187.04 L554.15,187.12 L554.46,187.2 L554.77,187.29 L555.09,187.37 L555.4,187.46 L555.71,187.55 L556.02,187.65 L556.34,187.74 L556.65,187.83 L556.96,187.92 L557.27,188.01 L557.59,188.09 L557.9,188.18 L558.21,188.26 L558.52,188.34 L558.84,188.41 L559.15,188.49 L559.46,188.56 L559.77,188.62 L560.09,188.68 L560.4,188.74 L560.71,188.79 L561.02,188.84 L561.34,188.89 L561.65,188.93 L561.96,188.97 L562.27,189.01 L562.59,189.04 L562.9,189.07 L563.21,189.1 L563.52,189.12 L563.84,189.14 L564.15,189.16 L564.46,189.18 L564.77,189.2 L565.09,189.21 L565.4,189.22 L565.71,189.23 L566.02,189.24 L566.34,189.25 L566.65,189.26 L566.96,189.26 L567.27,189.27 L567.59,189.27 L567.9,189.28 L568.21,189.28 L568.52,189.28 L568.84,189.29 L569.15,189.29 L569.46,189.29 L569.77,189.29 L570.09,189.29 L570.4,189.3 L570.71,189.3 L571.02,189.3 L571.34,189.3 L571.65,189.3 L571.96,189.3 L572.27,189.3 L572.59,189.3 L572.9,189.3 L573.21,189.3 L573.52,189.3 L573.84,189.3 L574.15,189.3 L574.46,189.3 L574.77,189.3 L575.09,189.3 L575.4,189.3 L575.71,189.3 L576.02,189.3 L576.34,189.3 L576.65,189.3 L576.96,189.3 L577.27,189.3 L577.59,189.3 L577.9,189.3 L578.21,189.3 L578.52,189.3 L578.52,189.3 L522.27,189.3 Z" fill="#ec1018" stroke="#000" stroke-width="0.6"/>
<path d="M485.4,189.3 L486.02,189.12 L486.65,188.9 L487.27,188.64 L487.9,188.34 L488.52,188.02 L489.15,187.68 L489.77,187.31 L490.4,186.93 L491.02,186.53 L491.65,186.13 L492.27,185.69 L492.9,185.19 L493.52,184.66 L494.15,184.1 L494.77,183.54 L495.4,182.99 L496.02,182.47 L496.65,182.01 L497.27,181.56 L497.9,181.12 L498.52,180.72 L499.15,180.38 L499.77,180.14 L500.4,180.04 L501.02,180.07 L501.65,180.19 L502.27,180.38 L502.9,180.61 L503.52,180.88 L504.15,181.16 L504.77,181.44 L505.4,181.69 L506.02,181.93 L506.65,182.19 L507.27,182.45 L507.9,182.72 L508.52,182.99 L509.15,183.26 L509.77,183.52 L510.4,183.77 L511.02,184.01 L511.65,184.23 L512.27,184.43 L512.9,184.62 L513.52,184.8 L514.15,184.97 L514.77,185.13 L515.4,185.28 L516.02,185.42 L516.65,185.56 L517.27,185.69 L517.9,185.81 L518.52,185.93 L519.15,186.02 L519.77,186.11 L520.4,186.18 L521.02,186.24 L521.65,186.3 L522.27,186.34 L522.9,186.38 L523.52,186.42 L524.15,186.45 L524.77,186.48 L525.4,186.5 L526.02,186.52 L526.65,186.54 L527.27,186.56 L527.9,186.57 L528.52,186.59 L529.15,186.6 L529.77,186.62 L530.4,186.63 L531.02,186.65 L531.65,186.66 L532.27,186.68 L532.9,186.7 L533.52,186.72 L534.15,186.74 L534.77,186.76 L535.4,186.77 L536.02,186.79 L536.65,186.81 L537.27,186.83 L537.9,186.85 L538.52,186.87 L539.15,186.89 L539.77,186.92 L540.4,186.95 L541.02,186.98 L541.65,187.02 L542.27,187.06 L542.9,187.11 L543.52,187.16 L544.15,187.22 L544.77,187.29 L545.4,187.36 L546.02,187.43 L546.65,187.5 L547.27,187.58 L547.9,187.65 L548.52,187.73 L549.15,187.82 L549.77,187.91 L550.4,188.01 L551.02,188.1 L551.65,188.2 L552.27,188.29 L552.9,188.38 L553.52,188.46 L554.15,188.54 L554.77,188.61 L555.4,188.67 L556.02,188.72 L556.65,188.78 L557.27,188.83 L557.9,188.87 L558.52,188.92 L559.15,188.96 L559.77,189 L560.4,189.05 L561.02,189.09 L561.65,189.13 L562.27,189.17 L562.9,189.2 L563.52,189.23 L564.15,189.26 L564.77,189.28 L565.4,189.3 L565.4,189.3 L485.4,189.3 Z" fill="url(#hatch)" stroke="#000" stroke-width="0.6"/>
<path d="M435.4,189.3 L436.02,189.3 L436.65,189.3 L437.27,189.3 L437.9,189.3 L438.52,189.3 L439.15,189.3 L439.77,189.3 L440.4,189.3 L441.02,189.3 L441.65,189.3 L442.27,189.3 L442.9,189.3 L443.52,189.3 L444.15,189.3 L444.77,189.3 L445.4,189.3 L446.02,189.3 L446.65,189.3 L447.27,189.3 L447.9,189.3 L448.52,189.3 L449.15,189.3 L449.77,189.3 L450.4,189.3 L451.02,189.3 L451.65,189.3 L452.27,189.3 L452.9,189.3 L453.52,189.3 L454.15,189.3 L454.77,189.3 L455.4,189.3 L456.02,189.3 L456.65,189.3 L457.27,189.3 L457.9,189.3 L458.52,189.3 L459.15,189.3 L459.77,189.3 L460.4,189.3 L461.02,189.3 L461.65,189.3 L462.27,189.3 L462.9,189.3 L463.52,189.3 L464.15,189.3 L464.77,189.3 L465.4,189.3 L466.02,189.3 L466.65,189.3 L467.27,189.3 L467.9,189.3 L468.52,189.3 L469.15,189.3 L469.77,189.3 L470.4,189.3 L471.02,189.3 L471.65,189.3 L472.27,189.3 L472.9,189.3 L473.52,189.3 L474.15,189.3 L474.77,189.3 L475.4,189.3 L476.02,189.3 L476.65,189.3 L477.27,189.3 L477.9,189.3 L478.52,189.3 L479.15,189.3 L479.77,189.29 L480.4,189.28 L481.02,189.26 L481.65,189.22 L482.27,189.15 L482.9,189.01 L483.52,188.76 L484.15,188.35 L484.77,187.65 L485.4,186.55 L486.02,184.67 L486.65,181.92 L487.27,178.04 L487.9,172.76 L488.52,165.82 L489.15,157.03 L489.77,146.35 L490.4,133.89 L491.02,120.02 L491.65,105.34 L492.27,90.63 L492.9,76.86 L493.52,65.06 L494.15,56.22 L494.77,51.1 L495.4,50.13 L496.02,53.37 L496.65,60.49 L497.27,70.78 L497.9,83.3 L498.52,97.04 L499.15,111.05 L499.77,124.51 L500.4,136.8 L501.02,147.51 L501.65,156.44 L502.27,163.6 L502.9,169.14 L503.52,173.28 L504.15,176.28 L504.77,178.4 L505.4,179.86 L506.02,180.87 L506.65,181.58 L507.27,182.12 L507.9,182.55 L508.52,182.9 L509.15,183.22 L509.77,183.5 L510.4,183.76 L511.02,184.01 L511.65,184.23 L512.27,184.43 L512.9,184.62 L513.52,184.8 L514.15,184.97 L514.77,185.13 L515.4,185.28 L516.02,185.42 L516.65,185.56 L517.27,185.69 L517.9,185.81 L518.52,185.93 L519.15,186.02 L519.77,186.11 L520.4,186.18 L521.02,186.24 L521.65,186.3 L522.27,186.34 L522.9,186.38 L523.52,186.42 L524.15,186.45 L524.77,186.48 L525.4,186.5 L526.02,186.52 L526.65,186.54 L527.27,186.56 L527.9,186.57 L528.52,186.59 L529.15,186.6 L529.77,186.61 L530.4,186.63 L531.02,186.64 L531.65,186.65 L532.27,186.67 L532.9,186.68 L533.52,186.69 L534.15,186.7 L534.77,186.7 L535.4,186.7 L536.02,186.69 L536.65,186.67 L537.27,186.65 L537.9,186.62 L538.52,186.57 L539.15,186.52 L539.77,186.46 L540.4,186.39 L541.02,186.3 L541.65,186.2 L542.27,186.1 L542.9,185.99 L543.52,185.87 L544.15,185.75 L544.77,185.64 L545.4,185.52 L546.02,185.41 L546.65,185.32 L547.27,185.24 L547.9,185.18 L548.52,185.15 L549.15,185.16 L549.77,185.2 L550.4,185.28 L551.02,185.39 L551.65,185.54 L552.27,185.71 L552.9,185.91 L553.52,186.13 L554.15,186.36 L554.77,186.59 L555.4,186.83 L556.02,187.07 L556.65,187.31 L557.27,187.54 L557.9,187.75 L558.52,187.96 L559.15,188.15 L559.77,188.32 L560.4,188.49 L561.02,188.63 L561.65,188.76 L562.27,188.87 L562.9,188.97 L563.52,189.05 L564.15,189.12 L564.77,189.18 L565.4,189.22 L566.02,189.24 L566.65,189.26 L567.27,189.27 L567.9,189.28 L568.52,189.28 L569.15,189.29 L569.77,189.29 L570.4,189.3 L571.02,189.3 L571.65,189.3 L572.27,189.3 L572.9,189.3 L573.52,189.3 L574.15,189.3 L574.77,189.3 L575.4,189.3 L576.02,189.3 L576.65,189.3 L577.27,189.3 L577.9,189.3 L578.52,189.3 L579.15,189.3 L579.77,189.3 L580.4,189.3 L581.02,189.3 L581.65,189.3 L582.27,189.3 L582.9,189.3 L583.52,189.3 L584.15,189.3 L584.77,189.3 L585.4,189.3" fill="none" stroke="#000" stroke-width="0.7"/>
<path d="M481.65,189.22 L482.27,189.15 L482.9,189.01 L483.52,188.76 L484.15,188.35 L484.77,187.65 L485.4,186.55 L486.02,184.67 L486.65,181.92 L487.27,178.04 L487.9,172.76 L488.52,165.82 L489.15,157.03 L489.77,146.35 L490.4,133.89 L491.02,120.02 L491.65,105.34 L492.27,90.63 L492.9,76.86 L493.52,65.06 L494.15,56.22 L494.77,51.1 L495.4,50.13 L496.02,53.37 L496.65,60.49 L497.27,70.78 L497.9,83.3 L498.52,97.04 L499.15,111.05 L499.77,124.51 L500.4,136.8 L501.02,147.51 L501.65,156.44 L502.27,163.6 L502.9,169.14 L503.52,173.28 L504.15,176.28 L504.77,178.4 L505.4,179.86 L506.02,180.87 L506.65,181.58 L507.27,182.12 L507.9,182.55 L508.52,182.9 L509.15,183.22 L509.77,183.5 L510.4,183.76 L511.02,184.01 L511.65,184.23 L512.27,184.43 L512.9,184.62 L513.52,184.8 L514.15,184.97 L514.77,185.13 L515.4,185.28 L516.02,185.42 L516.65,185.56 L517.27,185.69 L517.9,185.81 L518.52,185.93 L519.15,186.02 L519.77,186.11 L520.4,186.18 L521.02,186.24 L521.65,186.3 L522.27,186.34 L522.9,186.38 L523.52,186.42 L524.15,186.45 L524.77,186.48 L525.4,186.5 L526.02,186.52 L526.65,186.54 L527.27,186.56 L527.9,186.57 L528.52,186.59 L529.15,186.6 L529.77,186.61 L530.4,186.63 L531.02,186.64 L531.65,186.65 L532.27,186.67 L532.9,186.68 L533.52,186.69 L534.15,186.7 L534.77,186.7 L535.4,186.7 L536.02,186.69 L536.65,186.67 L537.27,186.65 L537.9,186.62 L538.52,186.57 L539.15,186.52 L539.77,186.46 L540.4,186.39 L541.02,186.3 L541.65,186.2 L542.27,186.1 L542.9,185.99 L543.52,185.87 L544.15,185.75 L544.77,185.64 L545.4,185.52 L546.02,185.41 L546.65,185.32 L547.27,185.24 L547.9,185.18 L548.52,185.15 L549.15,185.16 L549.77,185.2 L550.4,185.28 L551.02,185.39 L551.65,185.54 L552.27,185.71 L552.9,185.91 L553.52,186.13 L554.15,186.36 L554.77,186.59 L555.4,186.83 L556.02,187.07 L556.65,187.31 L557.27,187.54 L557.9,187.75 L558.52,187.96 L559.15,188.15 L559.77,188.32 L560.4,188.49 L561.02,188.63 L561.65,188.76 L562.27,188.87 L562.9,188.97 L563.52,189.05 L564.15,189.12 L564.77,189.18 L565.4,189.22 L566.02,189.24 L566.65,189.26 L567.27,189.27 L567.9,189.28 L568.52,189.28 L569.15,189.29" fill="none" stroke="#666" stroke-width="0.55" transform="translate(0.3,-0.9)"/>
</g>
<text x="435.4" y="202.5" class="tl" text-anchor="middle">0</text>
<text x="460.4" y="202.5" class="tl" text-anchor="middle">20</text>
<text x="485.4" y="202.5" class="tl" text-anchor="middle">40</text>
<text x="510.4" y="202.5" class="tl" text-anchor="middle">60</text>
<text x="535.4" y="202.5" class="tl" text-anchor="middle">80</text>
<text x="560.4" y="202.5" class="tl" text-anchor="middle">100</text>
<text x="585.4" y="202.5" class="tl" text-anchor="middle">120</text>
<text class="tl" text-anchor="middle" transform="translate(426.9,189.3) rotate(-90)">0</text>
<text class="tl" text-anchor="middle" transform="translate(426.9,157.6) rotate(-90)">500</text>
<text class="tl" text-anchor="middle" transform="translate(426.9,125.9) rotate(-90)">1000</text>
<text class="tl" text-anchor="middle" transform="translate(426.9,94.2) rotate(-90)">1500</text>
<text class="tl" text-anchor="middle" transform="translate(426.9,62.5) rotate(-90)">2000</text>
<text class="nl" text-anchor="middle" transform="translate(419.2,112.72) rotate(-90)">Number</text>
<text class="nl" x="510.4" y="209.6" text-anchor="middle">PI-A</text>
<path d="M495.4,190 l2.8,4.4 h-5.6z" fill="#000"/>
<rect x="556.6" y="33" width="5.2" height="4.3" fill="#ec1018"/>
<rect x="556.6" y="39.1" width="5.2" height="4.3" fill="#ec1018"/>
<rect x="556.7" y="45.3" width="5" height="4" fill="url(#hatch2)" stroke="#888" stroke-width="0.4"/>
<text class="lg" x="563.9" y="36.9">G0G1</text>
<text class="lg" x="563.9" y="43.1">G2M</text>
<text class="lg" x="563.9" y="49.3">S-Phase</text>
<text class="blk" x="494.15" y="22.45" textLength="21.35" lengthAdjust="spacingAndGlyphs" style="font-size:15.21px;font-weight:bold" stroke="currentColor" stroke-width="0.4" stroke-linejoin="round">VC</text><g transform="translate(0.55,0)"><text class="blk" x="494.15" y="22.45" textLength="21.35" lengthAdjust="spacingAndGlyphs" style="font-size:15.21px;font-weight:bold" stroke="currentColor" stroke-width="0.4" stroke-linejoin="round">VC</text></g>
<clipPath id="c3"><rect x="622.5" y="21.9" width="152.04" height="166.7"/></clipPath>
<path d="M622.5,33.9V188.3H774.54" fill="none" stroke="#777" stroke-width="0.7"/>
<path d="M616.5,188.3H622.5M619.5,180.58H622.5M619.5,172.86H622.5M619.5,165.14H622.5M619.5,157.42H622.5M616.5,149.7H622.5M619.5,141.98H622.5M619.5,134.26H622.5M619.5,126.54H622.5M619.5,118.82H622.5M616.5,111.1H622.5M619.5,103.38H622.5M619.5,95.66H622.5M619.5,87.94H622.5M619.5,80.22H622.5M616.5,72.5H622.5M619.5,64.78H622.5M619.5,57.06H622.5M619.5,49.34H622.5M619.5,41.62H622.5M616.5,33.9H622.5M622.5,188.3V194.8M628.84,188.3V191.8M635.17,188.3V191.8M641.5,188.3V191.8M647.84,188.3V194.8M654.17,188.3V191.8M660.51,188.3V191.8M666.85,188.3V191.8M673.18,188.3V194.8M679.51,188.3V191.8M685.85,188.3V191.8M692.18,188.3V191.8M698.52,188.3V194.8M704.86,188.3V191.8M711.19,188.3V191.8M717.52,188.3V191.8M723.86,188.3V194.8M730.19,188.3V191.8M736.53,188.3V191.8M742.87,188.3V191.8M749.2,188.3V194.8M755.53,188.3V191.8M761.87,188.3V191.8M768.2,188.3V191.8M774.54,188.3V194.8" stroke="#777" stroke-width="0.6"/>
<g clip-path="url(#c3)">
<path d="M664.94,188.3 L665.26,188.3 L665.58,188.3 L665.89,188.3 L666.21,188.3 L666.53,188.3 L666.85,188.29 L667.16,188.29 L667.48,188.29 L667.8,188.28 L668.11,188.27 L668.43,188.26 L668.75,188.24 L669.06,188.22 L669.38,188.19 L669.7,188.15 L670.01,188.09 L670.33,188.02 L670.65,187.92 L670.96,187.79 L671.28,187.62 L671.6,187.4 L671.91,187.12 L672.23,186.76 L672.55,186.32 L672.86,185.75 L673.18,185.06 L673.5,184.2 L673.81,183.16 L674.13,181.9 L674.45,180.39 L674.76,178.6 L675.08,176.49 L675.4,174.03 L675.71,171.17 L676.03,167.91 L676.35,164.2 L676.66,160.02 L676.98,155.37 L677.3,150.23 L677.61,144.62 L677.93,138.55 L678.25,132.06 L678.56,125.2 L678.88,118.02 L679.2,110.6 L679.51,103.03 L679.83,95.43 L680.15,87.89 L680.47,80.54 L680.78,73.52 L681.1,66.94 L681.42,60.93 L681.73,55.62 L682.05,51.1 L682.37,47.49 L682.68,44.85 L683,43.24 L683.32,42.7 L683.63,43.24 L683.95,44.85 L684.27,47.49 L684.58,51.1 L684.9,55.62 L685.22,60.93 L685.53,66.94 L685.85,73.52 L686.17,80.54 L686.48,87.89 L686.8,95.43 L687.12,103.03 L687.43,110.6 L687.75,118.02 L688.07,125.2 L688.38,132.06 L688.7,138.55 L689.02,144.62 L689.33,150.23 L689.65,155.37 L689.97,160.02 L690.28,164.2 L690.6,167.91 L690.92,171.17 L691.23,174.03 L691.55,176.49 L691.87,178.6 L692.18,180.39 L692.5,181.9 L692.82,183.16 L693.14,184.2 L693.45,185.06 L693.77,185.75 L694.09,186.32 L694.4,186.76 L694.72,187.12 L695.04,187.4 L695.35,187.62 L695.67,187.79 L695.99,187.92 L696.3,188.02 L696.62,188.09 L696.94,188.15 L697.25,188.19 L697.57,188.22 L697.89,188.24 L698.2,188.26 L698.52,188.27 L698.84,188.28 L699.15,188.29 L699.47,188.29 L699.79,188.29 L700.1,188.3 L700.42,188.3 L700.74,188.3 L701.05,188.3 L701.37,188.3 L701.69,188.3 L701.69,188.3 L664.94,188.3 Z" fill="#ec1018" stroke="#000" stroke-width="0.6"/>
<path d="M707.77,188.3 L708.09,188.3 L708.4,188.3 L708.72,188.3 L709.04,188.3 L709.35,188.3 L709.67,188.3 L709.99,188.3 L710.3,188.3 L710.62,188.3 L710.94,188.3 L711.25,188.3 L711.57,188.3 L711.89,188.3 L712.2,188.3 L712.52,188.3 L712.84,188.3 L713.15,188.3 L713.47,188.3 L713.79,188.3 L714.1,188.3 L714.42,188.3 L714.74,188.3 L715.05,188.3 L715.37,188.3 L715.69,188.3 L716,188.3 L716.32,188.3 L716.64,188.29 L716.95,188.29 L717.27,188.29 L717.59,188.29 L717.91,188.29 L718.22,188.29 L718.54,188.29 L718.86,188.28 L719.17,188.28 L719.49,188.28 L719.81,188.27 L720.12,188.27 L720.44,188.26 L720.76,188.26 L721.07,188.25 L721.39,188.24 L721.71,188.23 L722.02,188.22 L722.34,188.21 L722.66,188.2 L722.97,188.18 L723.29,188.17 L723.61,188.15 L723.92,188.13 L724.24,188.11 L724.56,188.09 L724.87,188.06 L725.19,188.03 L725.51,188 L725.82,187.96 L726.14,187.93 L726.46,187.88 L726.77,187.84 L727.09,187.79 L727.41,187.74 L727.72,187.69 L728.04,187.63 L728.36,187.57 L728.67,187.5 L728.99,187.43 L729.31,187.36 L729.62,187.28 L729.94,187.2 L730.26,187.11 L730.58,187.03 L730.89,186.93 L731.21,186.84 L731.53,186.74 L731.84,186.65 L732.16,186.55 L732.48,186.45 L732.79,186.34 L733.11,186.24 L733.43,186.14 L733.74,186.03 L734.06,185.93 L734.38,185.83 L734.69,185.74 L735.01,185.64 L735.33,185.55 L735.64,185.46 L735.96,185.38 L736.28,185.3 L736.59,185.23 L736.91,185.16 L737.23,185.11 L737.54,185.05 L737.86,185.01 L738.18,184.97 L738.49,184.94 L738.81,184.92 L739.13,184.91 L739.44,184.9 L739.76,184.91 L740.08,184.92 L740.39,184.94 L740.71,184.97 L741.03,185.01 L741.34,185.05 L741.66,185.11 L741.98,185.16 L742.29,185.23 L742.61,185.3 L742.93,185.38 L743.25,185.46 L743.56,185.55 L743.88,185.64 L744.2,185.74 L744.51,185.83 L744.83,185.93 L745.15,186.03 L745.46,186.14 L745.78,186.24 L746.1,186.34 L746.41,186.45 L746.73,186.55 L747.05,186.65 L747.36,186.74 L747.68,186.84 L748,186.93 L748.31,187.03 L748.63,187.11 L748.95,187.2 L749.26,187.28 L749.58,187.36 L749.9,187.43 L750.21,187.5 L750.53,187.57 L750.85,187.63 L751.16,187.69 L751.48,187.74 L751.8,187.79 L752.11,187.84 L752.43,187.88 L752.75,187.93 L753.06,187.96 L753.38,188 L753.7,188.03 L754.01,188.06 L754.33,188.09 L754.65,188.11 L754.96,188.13 L755.28,188.15 L755.6,188.17 L755.92,188.18 L756.23,188.2 L756.55,188.21 L756.87,188.22 L757.18,188.23 L757.5,188.24 L757.82,188.25 L758.13,188.26 L758.45,188.26 L758.77,188.27 L759.08,188.27 L759.4,188.28 L759.72,188.28 L760.03,188.28 L760.35,188.29 L760.67,188.29 L760.98,188.29 L761.3,188.29 L761.62,188.29 L761.93,188.29 L762.25,188.29 L762.57,188.3 L762.88,188.3 L763.2,188.3 L763.52,188.3 L763.83,188.3 L764.15,188.3 L764.47,188.3 L764.78,188.3 L765.1,188.3 L765.42,188.3 L765.73,188.3 L766.05,188.3 L766.37,188.3 L766.68,188.3 L767,188.3 L767.32,188.3 L767.63,188.3 L767.95,188.3 L768.27,188.3 L768.59,188.3 L768.9,188.3 L769.22,188.3 L769.54,188.3 L769.85,188.3 L770.17,188.3 L770.49,188.3 L770.8,188.3 L771.12,188.3 L771.12,188.3 L707.77,188.3 Z" fill="#ec1018" stroke="#000" stroke-width="0.6"/>
<path d="M673.18,188.3 L673.81,188.12 L674.45,187.9 L675.08,187.65 L675.71,187.36 L676.35,187.05 L676.98,186.71 L677.61,186.35 L678.25,185.98 L678.88,185.6 L679.51,185.21 L680.15,184.8 L680.78,184.34 L681.42,183.86 L682.05,183.35 L682.68,182.84 L683.32,182.33 L683.95,181.84 L684.58,181.37 L685.22,180.95 L685.85,180.58 L686.48,180.25 L687.12,179.93 L687.75,179.63 L688.38,179.35 L689.02,179.1 L689.65,178.88 L690.28,178.7 L690.92,178.56 L691.55,178.46 L692.18,178.42 L692.82,178.44 L693.45,178.52 L694.09,178.67 L694.72,178.85 L695.35,179.07 L695.99,179.31 L696.62,179.55 L697.25,179.79 L697.89,180.01 L698.52,180.19 L699.15,180.36 L699.79,180.53 L700.42,180.7 L701.05,180.88 L701.69,181.04 L702.32,181.21 L702.95,181.38 L703.59,181.54 L704.22,181.69 L704.86,181.84 L705.49,181.99 L706.12,182.12 L706.76,182.26 L707.39,182.39 L708.02,182.52 L708.66,182.64 L709.29,182.77 L709.92,182.89 L710.56,183 L711.19,183.12 L711.82,183.22 L712.46,183.32 L713.09,183.42 L713.72,183.51 L714.36,183.59 L714.99,183.67 L715.62,183.73 L716.26,183.79 L716.89,183.83 L717.52,183.86 L718.16,183.89 L718.79,183.91 L719.43,183.93 L720.06,183.95 L720.69,183.97 L721.33,183.99 L721.96,184.01 L722.59,184.04 L723.23,184.08 L723.86,184.13 L724.49,184.19 L725.13,184.25 L725.76,184.31 L726.39,184.38 L727.03,184.46 L727.66,184.54 L728.29,184.62 L728.93,184.7 L729.56,184.79 L730.19,184.88 L730.83,184.97 L731.46,185.06 L732.1,185.16 L732.73,185.26 L733.36,185.38 L734,185.5 L734.63,185.62 L735.26,185.74 L735.9,185.87 L736.53,185.98 L737.16,186.1 L737.8,186.22 L738.43,186.34 L739.06,186.47 L739.7,186.59 L740.33,186.71 L740.96,186.82 L741.6,186.94 L742.23,187.04 L742.87,187.14 L743.5,187.24 L744.13,187.33 L744.77,187.42 L745.4,187.5 L746.03,187.58 L746.67,187.66 L747.3,187.73 L747.93,187.8 L748.57,187.86 L749.2,187.91 L749.83,187.96 L750.47,188.01 L751.1,188.05 L751.73,188.09 L752.37,188.13 L753,188.16 L753.63,188.19 L754.27,188.22 L754.9,188.24 L755.53,188.26 L756.17,188.28 L756.8,188.3 L756.8,188.3 L673.18,188.3 Z" fill="url(#hatch)" stroke="#000" stroke-width="0.6"/>
<path d="M622.5,188.3 L623.13,188.3 L623.77,188.3 L624.4,188.3 L625.03,188.3 L625.67,188.3 L626.3,188.3 L626.93,188.3 L627.57,188.3 L628.2,188.3 L628.84,188.3 L629.47,188.3 L630.1,188.3 L630.74,188.3 L631.37,188.3 L632,188.3 L632.64,188.3 L633.27,188.3 L633.9,188.3 L634.54,188.3 L635.17,188.3 L635.8,188.3 L636.44,188.3 L637.07,188.3 L637.7,188.3 L638.34,188.3 L638.97,188.3 L639.6,188.3 L640.24,188.3 L640.87,188.3 L641.5,188.3 L642.14,188.3 L642.77,188.3 L643.41,188.3 L644.04,188.3 L644.67,188.3 L645.31,188.3 L645.94,188.3 L646.57,188.3 L647.21,188.3 L647.84,188.3 L648.47,188.3 L649.11,188.3 L649.74,188.3 L650.37,188.3 L651.01,188.3 L651.64,188.3 L652.27,188.3 L652.91,188.3 L653.54,188.3 L654.17,188.3 L654.81,188.3 L655.44,188.3 L656.08,188.3 L656.71,188.3 L657.34,188.3 L657.98,188.3 L658.61,188.3 L659.24,188.3 L659.88,188.3 L660.51,188.3 L661.14,188.3 L661.78,188.3 L662.41,188.3 L663.04,188.3 L663.68,188.3 L664.31,188.3 L664.94,188.3 L665.58,188.3 L666.21,188.3 L666.85,188.29 L667.48,188.29 L668.11,188.27 L668.75,188.24 L669.38,188.19 L670.01,188.09 L670.65,187.92 L671.28,187.62 L671.91,187.12 L672.55,186.32 L673.18,185.06 L673.81,182.99 L674.45,180 L675.08,175.84 L675.71,170.24 L676.35,162.94 L676.98,153.77 L677.61,142.67 L678.25,129.74 L678.88,115.31 L679.51,99.95 L680.15,84.39 L680.78,69.56 L681.42,56.49 L682.05,46.16 L682.68,39.39 L683.32,36.73 L683.95,38.39 L684.58,44.18 L685.22,53.58 L685.85,65.8 L686.48,79.83 L687.12,94.66 L687.75,109.34 L688.38,123.11 L689.02,135.42 L689.65,145.95 L690.28,154.6 L690.92,161.43 L691.55,166.65 L692.18,170.51 L692.82,173.3 L693.45,175.28 L694.09,176.68 L694.72,177.67 L695.35,178.39 L695.99,178.93 L696.62,179.34 L697.25,179.68 L697.89,179.95 L698.52,180.17 L699.15,180.09 L699.79,180.11 L700.42,181.09 L701.05,180.26 L701.69,181.42 L702.32,181 L702.95,181.88 L703.59,181.22 L704.22,182.12 L704.86,181.59 L705.49,181.71 L706.12,181.8 L706.76,182.33 L707.39,181.94 L708.02,181.91 L708.66,183.12 L709.29,182.75 L709.92,182.32 L710.56,182.71 L711.19,183.18 L711.82,183.46 L712.46,182.76 L713.09,183.93 L713.72,183.19 L714.36,183.17 L714.99,184.09 L715.62,183.94 L716.26,184.02 L716.89,183.77 L717.52,184.02 L718.16,183.39 L718.79,183.37 L719.43,184.14 L720.06,183.43 L720.69,184.46 L721.33,184.43 L721.96,183.73 L722.59,183.58 L723.23,183.56 L723.86,183.36 L724.49,183.53 L725.13,184.27 L725.76,183.68 L726.39,183.45 L727.03,184.46 L727.66,183.94 L728.29,184.32 L728.93,184.28 L729.56,183.81 L730.19,183.49 L730.83,183.03 L731.46,183.98 L732.1,183.42 L732.73,182.71 L733.36,182.91 L734,183.11 L734.63,183.39 L735.26,182.85 L735.9,183.26 L736.53,182.75 L737.16,182.73 L737.8,183.07 L738.43,182.63 L739.06,183.19 L739.7,183.23 L740.33,182.93 L740.96,183.83 L741.6,184.12 L742.23,183.87 L742.87,184.29 L743.5,184.01 L744.13,185.06 L744.77,185.19 L745.4,185.86 L746.03,185.67 L746.67,186.12 L747.3,186.22 L747.93,186.09 L748.57,187.23 L749.2,186.88 L749.83,187.08 L750.47,187.26 L751.1,187.43 L751.73,187.58 L752.37,187.71 L753,187.82 L753.63,187.92 L754.27,188 L754.9,188.07 L755.53,188.13 L756.17,188.18 L756.8,188.22 L757.44,188.24 L758.07,188.25 L758.7,188.27 L759.34,188.28 L759.97,188.28 L760.6,188.29 L761.24,188.29 L761.87,188.29 L762.5,188.3 L763.14,188.3 L763.77,188.3 L764.4,188.3 L765.04,188.3 L765.67,188.3 L766.3,188.3 L766.94,188.3 L767.57,188.3 L768.2,188.3 L768.84,188.3 L769.47,188.3 L770.11,188.3 L770.74,188.3 L771.37,188.3 L772.01,188.3 L772.64,188.3 L773.27,188.3 L773.91,188.3 L774.54,188.3" fill="none" stroke="#000" stroke-width="0.7"/>
<path d="M669.38,188.19 L670.01,188.09 L670.65,187.92 L671.28,187.62 L671.91,187.12 L672.55,186.32 L673.18,185.06 L673.81,182.99 L674.45,180 L675.08,175.84 L675.71,170.24 L676.35,162.94 L676.98,153.77 L677.61,142.67 L678.25,129.74 L678.88,115.31 L679.51,99.95 L680.15,84.39 L680.78,69.56 L681.42,56.49 L682.05,46.16 L682.68,39.39 L683.32,36.73 L683.95,38.39 L684.58,44.18 L685.22,53.58 L685.85,65.8 L686.48,79.83 L687.12,94.66 L687.75,109.34 L688.38,123.11 L689.02,135.42 L689.65,145.95 L690.28,154.6 L690.92,161.43 L691.55,166.65 L692.18,170.51 L692.82,173.3 L693.45,175.28 L694.09,176.68 L694.72,177.67 L695.35,178.39 L695.99,178.93 L696.62,179.34 L697.25,179.68 L697.89,179.95 L698.52,180.17 L699.15,180.35 L699.79,180.53 L700.42,180.7 L701.05,180.87 L701.69,181.04 L702.32,181.21 L702.95,181.38 L703.59,181.54 L704.22,181.69 L704.86,181.84 L705.49,181.99 L706.12,182.12 L706.76,182.26 L707.39,182.39 L708.02,182.52 L708.66,182.64 L709.29,182.77 L709.92,182.89 L710.56,183 L711.19,183.12 L711.82,183.22 L712.46,183.32 L713.09,183.42 L713.72,183.51 L714.36,183.59 L714.99,183.67 L715.62,183.73 L716.26,183.78 L716.89,183.82 L717.52,183.85 L718.16,183.88 L718.79,183.9 L719.43,183.91 L720.06,183.92 L720.69,183.93 L721.33,183.93 L721.96,183.94 L722.59,183.95 L723.23,183.95 L723.86,183.97 L724.49,183.98 L725.13,183.98 L725.76,183.98 L726.39,183.98 L727.03,183.96 L727.66,183.93 L728.29,183.89 L728.93,183.84 L729.56,183.78 L730.19,183.71 L730.83,183.62 L731.46,183.52 L732.1,183.42 L732.73,183.33 L733.36,183.24 L734,183.15 L734.63,183.08 L735.26,183.01 L735.9,182.96 L736.53,182.93 L737.16,182.92 L737.8,182.94 L738.43,182.99 L739.06,183.08 L739.7,183.19 L740.33,183.34 L740.96,183.52 L741.6,183.73 L742.23,183.96 L742.87,184.21 L743.5,184.47 L744.13,184.75 L744.77,185.03 L745.4,185.32 L746.03,185.6 L746.67,185.89 L747.3,186.16 L747.93,186.41 L748.57,186.65 L749.2,186.88 L749.83,187.08 L750.47,187.26 L751.1,187.43 L751.73,187.58 L752.37,187.71 L753,187.82 L753.63,187.92 L754.27,188 L754.9,188.07 L755.53,188.13 L756.17,188.18 L756.8,188.22 L757.44,188.24 L758.07,188.25 L758.7,188.27 L759.34,188.28 L759.97,188.28 L760.6,188.29" fill="none" stroke="#666" stroke-width="0.55" transform="translate(0.3,-0.9)"/>
</g>
<text x="622.5" y="201.5" class="tl" text-anchor="middle">0</text>
<text x="647.84" y="201.5" class="tl" text-anchor="middle">20</text>
<text x="673.18" y="201.5" class="tl" text-anchor="middle">40</text>
<text x="698.52" y="201.5" class="tl" text-anchor="middle">60</text>
<text x="723.86" y="201.5" class="tl" text-anchor="middle">80</text>
<text x="749.2" y="201.5" class="tl" text-anchor="middle">100</text>
<text x="774.54" y="201.5" class="tl" text-anchor="middle">120</text>
<text class="tl" text-anchor="middle" transform="translate(614,188.3) rotate(-90)">0</text>
<text class="tl" text-anchor="middle" transform="translate(614,149.7) rotate(-90)">500</text>
<text class="tl" text-anchor="middle" transform="translate(614,111.1) rotate(-90)">1000</text>
<text class="tl" text-anchor="middle" transform="translate(614,72.5) rotate(-90)">1500</text>
<text class="tl" text-anchor="middle" transform="translate(614,33.9) rotate(-90)">2000</text>
<text class="nl" text-anchor="middle" transform="translate(606.3,110.6) rotate(-90)">Number</text>
<text class="nl" x="698.52" y="208.6" text-anchor="middle">PI-A</text>
<path d="M683.32,189 l2.8,4.4 h-5.6z" fill="#000"/>
<path d="M739.7,189 l2.8,4.4 h-5.6z" fill="#000"/>
<rect x="744.5" y="31.2" width="5.2" height="4.3" fill="#ec1018"/>
<rect x="744.5" y="37.3" width="5.2" height="4.3" fill="#ec1018"/>
<rect x="744.6" y="43.5" width="5" height="4" fill="url(#hatch2)" stroke="#888" stroke-width="0.4"/>
<text class="lg" x="751.8" y="35.1">G0G1</text>
<text class="lg" x="751.8" y="41.3">G2M</text>
<text class="lg" x="751.8" y="47.5">S-Phase</text>
<text class="blk" x="665.2" y="22.74" textLength="43.7" lengthAdjust="spacingAndGlyphs" style="font-size:16.2px;font-weight:bold" stroke="currentColor" stroke-width="0.4" stroke-linejoin="round">OGG1</text><g transform="translate(0.55,0)"><text class="blk" x="665.2" y="22.74" textLength="43.7" lengthAdjust="spacingAndGlyphs" style="font-size:16.2px;font-weight:bold" stroke="currentColor" stroke-width="0.4" stroke-linejoin="round">OGG1</text></g>
<clipPath id="c4"><rect x="54.7" y="256.5" width="148.95" height="162.3"/></clipPath>
<path d="M54.7,268.5V418.5H203.65" fill="none" stroke="#777" stroke-width="0.7"/>
<path d="M48.7,418.5H54.7M51.7,411H54.7M51.7,403.5H54.7M51.7,396H54.7M48.7,388.5H54.7M51.7,381H54.7M51.7,373.5H54.7M51.7,366H54.7M48.7,358.5H54.7M51.7,351H54.7M51.7,343.5H54.7M51.7,336H54.7M48.7,328.5H54.7M51.7,321H54.7M51.7,313.5H54.7M51.7,306H54.7M48.7,298.5H54.7M51.7,291H54.7M51.7,283.5H54.7M51.7,276H54.7M48.7,268.5H54.7M54.7,418.5V425M59.67,418.5V422M64.63,418.5V422M69.59,418.5V422M74.56,418.5V425M79.53,418.5V422M84.49,418.5V422M89.46,418.5V422M94.42,418.5V425M99.39,418.5V422M104.35,418.5V422M109.31,418.5V422M114.28,418.5V425M119.25,418.5V422M124.21,418.5V422M129.18,418.5V422M134.14,418.5V425M139.11,418.5V422M144.07,418.5V422M149.03,418.5V422M154,418.5V425M158.97,418.5V422M163.93,418.5V422M168.89,418.5V422M173.86,418.5V425M178.82,418.5V422M183.79,418.5V422M188.75,418.5V422M193.72,418.5V425M198.69,418.5V422M203.65,418.5V422" stroke="#777" stroke-width="0.6"/>
<g clip-path="url(#c4)">
<path d="M88.21,418.5 L88.46,418.5 L88.71,418.5 L88.96,418.5 L89.21,418.5 L89.46,418.5 L89.7,418.5 L89.95,418.5 L90.2,418.5 L90.45,418.49 L90.7,418.49 L90.94,418.49 L91.19,418.49 L91.44,418.48 L91.69,418.48 L91.94,418.47 L92.19,418.46 L92.43,418.46 L92.68,418.44 L92.93,418.43 L93.18,418.41 L93.43,418.39 L93.68,418.36 L93.92,418.32 L94.17,418.28 L94.42,418.23 L94.67,418.17 L94.92,418.09 L95.16,418 L95.41,417.89 L95.66,417.76 L95.91,417.61 L96.16,417.42 L96.41,417.21 L96.65,416.95 L96.9,416.65 L97.15,416.31 L97.4,415.9 L97.65,415.44 L97.9,414.9 L98.14,414.28 L98.39,413.58 L98.64,412.78 L98.89,411.88 L99.14,410.86 L99.39,409.71 L99.63,408.43 L99.88,407 L100.13,405.42 L100.38,403.68 L100.63,401.76 L100.87,399.67 L101.12,397.38 L101.37,394.91 L101.62,392.25 L101.87,389.39 L102.12,386.33 L102.36,383.09 L102.61,379.65 L102.86,376.04 L103.11,372.26 L103.36,368.33 L103.61,364.25 L103.85,360.06 L104.1,355.78 L104.35,351.42 L104.6,347.03 L104.85,342.62 L105.09,338.22 L105.34,333.89 L105.59,329.64 L105.84,325.52 L106.09,321.55 L106.34,317.79 L106.58,314.25 L106.83,310.99 L107.08,308.02 L107.33,305.39 L107.58,303.11 L107.83,301.21 L108.07,299.71 L108.32,298.62 L108.57,297.97 L108.82,297.75 L109.07,297.97 L109.31,298.62 L109.56,299.71 L109.81,301.21 L110.06,303.11 L110.31,305.39 L110.56,308.02 L110.8,310.99 L111.05,314.25 L111.3,317.79 L111.55,321.55 L111.8,325.52 L112.05,329.64 L112.29,333.89 L112.54,338.22 L112.79,342.62 L113.04,347.03 L113.29,351.42 L113.54,355.78 L113.78,360.06 L114.03,364.25 L114.28,368.33 L114.53,372.26 L114.78,376.04 L115.02,379.65 L115.27,383.09 L115.52,386.33 L115.77,389.39 L116.02,392.25 L116.27,394.91 L116.51,397.38 L116.76,399.67 L117.01,401.76 L117.26,403.68 L117.51,405.42 L117.76,407 L118,408.43 L118.25,409.71 L118.5,410.86 L118.75,411.88 L119,412.78 L119.25,413.58 L119.49,414.28 L119.74,414.9 L119.99,415.44 L120.24,415.9 L120.49,416.31 L120.73,416.65 L120.98,416.95 L121.23,417.21 L121.48,417.42 L121.73,417.61 L121.98,417.76 L122.22,417.89 L122.47,418 L122.72,418.09 L122.97,418.17 L123.22,418.23 L123.47,418.28 L123.71,418.32 L123.96,418.36 L124.21,418.39 L124.46,418.41 L124.71,418.43 L124.95,418.44 L125.2,418.46 L125.45,418.46 L125.7,418.47 L125.95,418.48 L126.2,418.48 L126.44,418.49 L126.69,418.49 L126.94,418.49 L127.19,418.49 L127.44,418.5 L127.69,418.5 L127.93,418.5 L128.18,418.5 L128.43,418.5 L128.68,418.5 L128.93,418.5 L129.18,418.5 L129.42,418.5 L129.42,418.5 L88.21,418.5 Z" fill="#ec1018" stroke="#000" stroke-width="0.6"/>
<path d="M114.78,418.5 L115.02,418.5 L115.27,418.5 L115.52,418.5 L115.77,418.5 L116.02,418.5 L116.27,418.5 L116.51,418.5 L116.76,418.5 L117.01,418.5 L117.26,418.5 L117.51,418.5 L117.76,418.5 L118,418.5 L118.25,418.5 L118.5,418.5 L118.75,418.5 L119,418.5 L119.25,418.5 L119.49,418.5 L119.74,418.5 L119.99,418.49 L120.24,418.49 L120.49,418.49 L120.73,418.49 L120.98,418.49 L121.23,418.49 L121.48,418.49 L121.73,418.49 L121.98,418.48 L122.22,418.48 L122.47,418.48 L122.72,418.48 L122.97,418.48 L123.22,418.47 L123.47,418.47 L123.71,418.46 L123.96,418.46 L124.21,418.46 L124.46,418.45 L124.71,418.44 L124.95,418.44 L125.2,418.43 L125.45,418.42 L125.7,418.41 L125.95,418.4 L126.2,418.39 L126.44,418.38 L126.69,418.36 L126.94,418.35 L127.19,418.33 L127.44,418.31 L127.69,418.29 L127.93,418.27 L128.18,418.24 L128.43,418.22 L128.68,418.19 L128.93,418.15 L129.18,418.12 L129.42,418.08 L129.67,418.04 L129.92,417.99 L130.17,417.94 L130.42,417.88 L130.66,417.82 L130.91,417.76 L131.16,417.69 L131.41,417.61 L131.66,417.53 L131.91,417.44 L132.15,417.34 L132.4,417.23 L132.65,417.12 L132.9,417 L133.15,416.87 L133.4,416.73 L133.64,416.57 L133.89,416.41 L134.14,416.24 L134.39,416.05 L134.64,415.85 L134.88,415.64 L135.13,415.41 L135.38,415.17 L135.63,414.91 L135.88,414.63 L136.13,414.34 L136.37,414.03 L136.62,413.7 L136.87,413.35 L137.12,412.97 L137.37,412.58 L137.62,412.17 L137.86,411.73 L138.11,411.27 L138.36,410.79 L138.61,410.28 L138.86,409.74 L139.11,409.18 L139.35,408.59 L139.6,407.98 L139.85,407.33 L140.1,406.66 L140.35,405.96 L140.59,405.23 L140.84,404.47 L141.09,403.67 L141.34,402.85 L141.59,402 L141.84,401.12 L142.08,400.2 L142.33,399.26 L142.58,398.28 L142.83,397.27 L143.08,396.24 L143.33,395.17 L143.57,394.08 L143.82,392.96 L144.07,391.81 L144.32,390.64 L144.57,389.43 L144.81,388.21 L145.06,386.96 L145.31,385.69 L145.56,384.4 L145.81,383.09 L146.06,381.77 L146.3,380.43 L146.55,379.08 L146.8,377.71 L147.05,376.34 L147.3,374.96 L147.55,373.57 L147.79,372.19 L148.04,370.8 L148.29,369.42 L148.54,368.04 L148.79,366.67 L149.03,365.31 L149.28,363.97 L149.53,362.64 L149.78,361.34 L150.03,360.05 L150.28,358.79 L150.52,357.56 L150.77,356.36 L151.02,355.19 L151.27,354.06 L151.52,352.97 L151.77,351.93 L152.01,350.92 L152.26,349.96 L152.51,349.06 L152.76,348.2 L153.01,347.4 L153.26,346.65 L153.5,345.97 L153.75,345.34 L154,344.77 L154.25,344.27 L154.5,343.83 L154.74,343.46 L154.99,343.15 L155.24,342.91 L155.49,342.74 L155.74,342.63 L155.99,342.6 L156.23,342.63 L156.48,342.74 L156.73,342.91 L156.98,343.15 L157.23,343.46 L157.48,343.83 L157.72,344.27 L157.97,344.77 L158.22,345.34 L158.47,345.97 L158.72,346.65 L158.97,347.4 L159.21,348.2 L159.46,349.06 L159.71,349.96 L159.96,350.92 L160.21,351.93 L160.45,352.97 L160.7,354.06 L160.95,355.19 L161.2,356.36 L161.45,357.56 L161.7,358.79 L161.94,360.05 L162.19,361.34 L162.44,362.64 L162.69,363.97 L162.94,365.31 L163.19,366.67 L163.43,368.04 L163.68,369.42 L163.93,370.8 L164.18,372.19 L164.43,373.57 L164.67,374.96 L164.92,376.34 L165.17,377.71 L165.42,379.08 L165.67,380.43 L165.92,381.77 L166.16,383.09 L166.41,384.4 L166.66,385.69 L166.91,386.96 L167.16,388.21 L167.41,389.43 L167.65,390.64 L167.9,391.81 L168.15,392.96 L168.4,394.08 L168.65,395.17 L168.89,396.24 L169.14,397.27 L169.39,398.28 L169.64,399.26 L169.89,400.2 L170.14,401.12 L170.38,402 L170.63,402.85 L170.88,403.67 L171.13,404.47 L171.38,405.23 L171.63,405.96 L171.87,406.66 L172.12,407.33 L172.37,407.98 L172.62,408.59 L172.87,409.18 L173.12,409.74 L173.36,410.28 L173.61,410.79 L173.86,411.27 L174.11,411.73 L174.36,412.17 L174.6,412.58 L174.85,412.97 L175.1,413.35 L175.35,413.7 L175.6,414.03 L175.85,414.34 L176.09,414.63 L176.34,414.91 L176.59,415.17 L176.84,415.41 L177.09,415.64 L177.34,415.85 L177.58,416.05 L177.83,416.24 L178.08,416.41 L178.33,416.57 L178.58,416.73 L178.82,416.87 L179.07,417 L179.32,417.12 L179.57,417.23 L179.82,417.34 L180.07,417.44 L180.31,417.53 L180.56,417.61 L180.81,417.69 L181.06,417.76 L181.31,417.82 L181.56,417.88 L181.8,417.94 L182.05,417.99 L182.3,418.04 L182.55,418.08 L182.8,418.12 L183.05,418.15 L183.29,418.19 L183.54,418.22 L183.79,418.24 L184.04,418.27 L184.29,418.29 L184.53,418.31 L184.78,418.33 L185.03,418.35 L185.28,418.36 L185.53,418.38 L185.78,418.39 L186.02,418.4 L186.27,418.41 L186.52,418.42 L186.77,418.43 L187.02,418.44 L187.27,418.44 L187.51,418.45 L187.76,418.46 L188.01,418.46 L188.26,418.46 L188.51,418.47 L188.75,418.47 L189,418.48 L189.25,418.48 L189.5,418.48 L189.75,418.48 L190,418.48 L190.24,418.49 L190.49,418.49 L190.74,418.49 L190.99,418.49 L191.24,418.49 L191.49,418.49 L191.73,418.49 L191.98,418.49 L192.23,418.5 L192.48,418.5 L192.73,418.5 L192.98,418.5 L193.22,418.5 L193.47,418.5 L193.72,418.5 L193.97,418.5 L194.22,418.5 L194.46,418.5 L194.71,418.5 L194.96,418.5 L195.21,418.5 L195.46,418.5 L195.71,418.5 L195.95,418.5 L196.2,418.5 L196.45,418.5 L196.7,418.5 L196.95,418.5 L197.2,418.5 L197.2,418.5 L114.78,418.5 Z" fill="#ec1018" stroke="#000" stroke-width="0.6"/>
<path d="M99.39,418.5 L99.88,418.2 L100.38,417.85 L100.87,417.44 L101.37,416.98 L101.87,416.49 L102.36,415.96 L102.86,415.39 L103.36,414.8 L103.85,414.19 L104.35,413.56 L104.85,412.93 L105.34,412.28 L105.84,411.64 L106.34,411 L106.83,410.34 L107.33,409.62 L107.83,408.86 L108.32,408.08 L108.82,407.27 L109.31,406.46 L109.81,405.65 L110.31,404.85 L110.8,404.07 L111.3,403.33 L111.8,402.64 L112.29,402 L112.79,401.4 L113.29,400.82 L113.78,400.29 L114.28,399.82 L114.78,399.42 L115.27,399.11 L115.77,398.92 L116.27,398.85 L116.76,398.92 L117.26,399.11 L117.76,399.42 L118.25,399.82 L118.75,400.29 L119.25,400.82 L119.74,401.4 L120.24,402 L120.73,402.64 L121.23,403.35 L121.73,404.1 L122.22,404.89 L122.72,405.7 L123.22,406.52 L123.71,407.34 L124.21,408.15 L124.71,408.93 L125.2,409.68 L125.7,410.37 L126.2,411 L126.69,411.59 L127.19,412.16 L127.69,412.72 L128.18,413.25 L128.68,413.76 L129.18,414.23 L129.67,414.68 L130.17,415.08 L130.66,415.45 L131.16,415.77 L131.66,416.03 L132.15,416.25 L132.65,416.4 L133.15,416.48 L133.64,416.49 L134.14,416.46 L134.64,416.38 L135.13,416.27 L135.63,416.14 L136.13,415.99 L136.62,415.85 L137.12,415.71 L137.62,415.59 L138.11,415.5 L138.61,415.42 L139.11,415.33 L139.6,415.24 L140.1,415.14 L140.59,415.04 L141.09,414.94 L141.59,414.83 L142.08,414.73 L142.58,414.63 L143.08,414.53 L143.57,414.43 L144.07,414.34 L144.57,414.26 L145.06,414.19 L145.56,414.12 L146.06,414.07 L146.55,414.03 L147.05,414 L147.55,413.98 L148.04,413.97 L148.54,413.97 L149.03,413.97 L149.53,413.98 L150.03,413.99 L150.52,414.01 L151.02,414.04 L151.52,414.07 L152.01,414.11 L152.51,414.15 L153.01,414.2 L153.5,414.25 L154,414.31 L154.5,414.37 L154.99,414.44 L155.49,414.51 L155.99,414.58 L156.48,414.67 L156.98,414.75 L157.48,414.84 L157.97,414.95 L158.47,415.07 L158.97,415.21 L159.46,415.35 L159.96,415.5 L160.45,415.65 L160.95,415.81 L161.45,415.97 L161.94,416.14 L162.44,416.3 L162.94,416.46 L163.43,416.62 L163.93,416.77 L164.43,416.92 L164.92,417.06 L165.42,417.18 L165.92,417.3 L166.41,417.41 L166.91,417.51 L167.41,417.61 L167.9,417.71 L168.4,417.8 L168.89,417.89 L169.39,417.97 L169.89,418.05 L170.38,418.12 L170.88,418.19 L171.38,418.25 L171.87,418.31 L172.37,418.37 L172.87,418.42 L173.36,418.46 L173.86,418.5 L173.86,418.5 L99.39,418.5 Z" fill="url(#hatch)" stroke="#000" stroke-width="0.6"/>
<path d="M54.7,418.5 L55.2,418.5 L55.69,418.5 L56.19,418.5 L56.69,418.5 L57.18,418.5 L57.68,418.5 L58.18,418.5 L58.67,418.5 L59.17,418.5 L59.67,418.5 L60.16,418.5 L60.66,418.5 L61.15,418.5 L61.65,418.5 L62.15,418.5 L62.64,418.5 L63.14,418.5 L63.64,418.5 L64.13,418.5 L64.63,418.5 L65.13,418.5 L65.62,418.5 L66.12,418.5 L66.62,418.5 L67.11,418.5 L67.61,418.5 L68.11,418.5 L68.6,418.5 L69.1,418.5 L69.59,418.5 L70.09,418.5 L70.59,418.5 L71.08,418.5 L71.58,418.5 L72.08,418.5 L72.57,418.5 L73.07,418.5 L73.57,418.5 L74.06,418.5 L74.56,418.5 L75.06,418.5 L75.55,418.5 L76.05,418.5 L76.55,418.5 L77.04,418.5 L77.54,418.5 L78.04,418.5 L78.53,418.5 L79.03,418.5 L79.53,418.5 L80.02,418.5 L80.52,418.5 L81.01,418.5 L81.51,418.5 L82.01,418.5 L82.5,418.5 L83,418.5 L83.5,418.5 L83.99,418.5 L84.49,418.5 L84.99,418.5 L85.48,418.5 L85.98,418.5 L86.48,418.5 L86.97,418.5 L87.47,418.5 L87.97,418.5 L88.46,418.5 L88.96,418.5 L89.46,418.5 L89.95,418.5 L90.45,418.49 L90.94,418.49 L91.44,418.48 L91.94,418.47 L92.43,418.46 L92.93,418.43 L93.43,418.39 L93.92,418.32 L94.42,418.23 L94.92,418.09 L95.41,417.89 L95.91,417.61 L96.41,417.21 L96.9,416.65 L97.4,415.9 L97.9,414.9 L98.39,413.58 L98.89,411.88 L99.39,409.71 L99.88,406.7 L100.38,403.02 L100.87,398.6 L101.37,393.4 L101.87,387.38 L102.36,380.54 L102.86,372.93 L103.36,364.63 L103.85,355.75 L104.35,346.49 L104.85,337.04 L105.34,327.67 L105.84,318.65 L106.34,310.29 L106.83,302.82 L107.33,296.51 L107.83,291.57 L108.32,288.2 L108.82,286.52 L109.31,286.58 L109.81,288.35 L110.31,291.73 L110.8,296.56 L111.3,302.62 L111.8,309.65 L112.29,317.39 L112.79,325.51 L113.29,333.75 L113.78,341.86 L114.28,349.64 L114.78,356.96 L115.27,363.7 L115.77,369.81 L116.27,375.26 L116.76,380.08 L117.26,384.29 L117.76,387.92 L118.25,391.03 L118.75,393.67 L119.25,395.9 L119.74,397.79 L120.24,399.4 L120.73,400.79 L121.23,402.04 L121.73,403.19 L122.22,404.26 L122.72,405.27 L123.22,406.22 L123.71,407.13 L124.21,407.99 L124.71,408.81 L125.2,409.56 L125.7,410.25 L126.2,410.87 L126.69,411.44 L127.19,411.99 L127.69,412.5 L128.18,412.99 L128.68,413.44 L129.18,413.85 L129.67,414.21 L130.17,414.52 L130.66,414.77 L131.16,414.95 L131.66,415.06 L132.15,415.09 L132.65,415.02 L133.15,414.84 L133.64,414.57 L134.14,414.19 L134.64,413.73 L135.13,413.18 L135.63,412.54 L136.13,411.83 L136.62,411.04 L137.12,410.19 L137.62,409.26 L138.11,408.27 L138.61,407.2 L139.11,406.01 L139.6,404.71 L140.1,403.29 L140.59,401.75 L141.09,400.08 L141.59,398.29 L142.08,396.37 L142.58,394.32 L143.08,392.15 L143.57,389.85 L144.07,387.43 L144.57,384.91 L145.06,382.27 L145.56,379.54 L146.06,376.72 L146.55,373.83 L147.05,370.88 L147.55,367.88 L148.04,364.85 L148.54,361.81 L149.03,358.78 L149.53,355.78 L150.03,352.85 L150.52,350 L151.02,347.28 L151.52,344.71 L152.01,342.32 L152.51,340.14 L153.01,338.21 L153.5,336.55 L154,335.19 L154.5,334.14 L154.99,333.42 L155.49,333.05 L155.99,333.02 L156.48,333.34 L156.98,334.01 L157.48,335.01 L157.97,336.34 L158.47,337.98 L158.97,339.89 L159.46,342.06 L159.96,344.46 L160.45,347.05 L160.95,349.8 L161.45,352.69 L161.94,355.68 L162.44,358.74 L162.94,361.85 L163.43,364.99 L163.93,368.12 L164.43,371.22 L164.92,374.28 L165.42,377.28 L165.92,380.19 L166.41,383.02 L166.91,385.76 L167.41,388.38 L167.9,390.9 L168.4,393.29 L168.89,395.56 L169.39,397.7 L169.89,399.71 L170.38,401.6 L170.88,403.35 L171.38,404.97 L171.87,406.47 L172.37,407.84 L172.87,409.09 L173.36,410.24 L173.86,411.27 L174.36,412.17 L174.85,412.97 L175.35,413.7 L175.85,414.34 L176.34,414.91 L176.84,415.41 L177.34,415.85 L177.83,416.24 L178.33,416.57 L178.82,416.87 L179.32,417.12 L179.82,417.34 L180.31,417.53 L180.81,417.69 L181.31,417.82 L181.8,417.94 L182.3,418.04 L182.8,418.12 L183.29,418.19 L183.79,418.24 L184.29,418.29 L184.78,418.33 L185.28,418.36 L185.78,418.39 L186.27,418.41 L186.77,418.43 L187.27,418.44 L187.76,418.46 L188.26,418.46 L188.75,418.47 L189.25,418.48 L189.75,418.48 L190.24,418.49 L190.74,418.49 L191.24,418.49 L191.73,418.49 L192.23,418.5 L192.73,418.5 L193.22,418.5 L193.72,418.5 L194.22,418.5 L194.71,418.5 L195.21,418.5 L195.71,418.5 L196.2,418.5 L196.7,418.5 L197.2,418.5 L197.69,418.5 L198.19,418.5 L198.69,418.5 L199.18,418.5 L199.68,418.5 L200.17,418.5 L200.67,418.5 L201.17,418.5 L201.66,418.5 L202.16,418.5 L202.66,418.5 L203.15,418.5 L203.65,418.5" fill="none" stroke="#000" stroke-width="0.7"/>
<path d="M96.41,417.21 L96.9,416.65 L97.4,415.9 L97.9,414.9 L98.39,413.58 L98.89,411.88 L99.39,409.71 L99.88,406.7 L100.38,403.02 L100.87,398.6 L101.37,393.4 L101.87,387.38 L102.36,380.54 L102.86,372.93 L103.36,364.63 L103.85,355.75 L104.35,346.49 L104.85,337.04 L105.34,327.67 L105.84,318.65 L106.34,310.29 L106.83,302.82 L107.33,296.51 L107.83,291.57 L108.32,288.2 L108.82,286.52 L109.31,286.58 L109.81,288.35 L110.31,291.73 L110.8,296.56 L111.3,302.62 L111.8,309.65 L112.29,317.39 L112.79,325.51 L113.29,333.75 L113.78,341.86 L114.28,349.64 L114.78,356.96 L115.27,363.7 L115.77,369.81 L116.27,375.26 L116.76,380.08 L117.26,384.29 L117.76,387.92 L118.25,391.03 L118.75,393.67 L119.25,395.9 L119.74,397.79 L120.24,399.4 L120.73,400.79 L121.23,402.04 L121.73,403.19 L122.22,404.26 L122.72,405.27 L123.22,406.22 L123.71,407.13 L124.21,407.99 L124.71,408.81 L125.2,409.56 L125.7,410.25 L126.2,410.87 L126.69,411.44 L127.19,411.99 L127.69,412.5 L128.18,412.99 L128.68,413.44 L129.18,413.85 L129.67,414.21 L130.17,414.52 L130.66,414.77 L131.16,414.95 L131.66,415.06 L132.15,415.09 L132.65,415.02 L133.15,414.84 L133.64,414.57 L134.14,414.19 L134.64,413.73 L135.13,413.18 L135.63,412.54 L136.13,411.83 L136.62,411.04 L137.12,410.19 L137.62,409.26 L138.11,408.27 L138.61,407.2 L139.11,406.01 L139.6,404.71 L140.1,403.29 L140.59,401.75 L141.09,400.08 L141.59,398.29 L142.08,396.37 L142.58,394.32 L143.08,392.15 L143.57,389.85 L144.07,387.43 L144.57,384.91 L145.06,382.27 L145.56,379.54 L146.06,376.72 L146.55,373.83 L147.05,370.88 L147.55,367.88 L148.04,364.85 L148.54,361.81 L149.03,358.78 L149.53,355.78 L150.03,352.85 L150.52,350 L151.02,347.28 L151.52,344.71 L152.01,342.32 L152.51,340.14 L153.01,338.21 L153.5,336.55 L154,335.19 L154.5,334.14 L154.99,333.42 L155.49,333.05 L155.99,333.02 L156.48,333.34 L156.98,334.01 L157.48,335.01 L157.97,336.34 L158.47,337.98 L158.97,339.89 L159.46,342.06 L159.96,344.46 L160.45,347.05 L160.95,349.8 L161.45,352.69 L161.94,355.68 L162.44,358.74 L162.94,361.85 L163.43,364.99 L163.93,368.12 L164.43,371.22 L164.92,374.28 L165.42,377.28 L165.92,380.19 L166.41,383.02 L166.91,385.76 L167.41,388.38 L167.9,390.9 L168.4,393.29 L168.89,395.56 L169.39,397.7 L169.89,399.71 L170.38,401.6 L170.88,403.35 L171.38,404.97 L171.87,406.47 L172.37,407.84 L172.87,409.09 L173.36,410.24 L173.86,411.27 L174.36,412.17 L174.85,412.97 L175.35,413.7 L175.85,414.34 L176.34,414.91 L176.84,415.41" fill="none" stroke="#666" stroke-width="0.55" transform="translate(0.3,-0.9)"/>
</g>
<text x="54.7" y="431.7" class="tl" text-anchor="middle">0</text>
<text x="74.56" y="431.7" class="tl" text-anchor="middle">20</text>
<text x="94.42" y="431.7" class="tl" text-anchor="middle">40</text>
<text x="114.28" y="431.7" class="tl" text-anchor="middle">60</text>
<text x="134.14" y="431.7" class="tl" text-anchor="middle">80</text>
<text x="154" y="431.7" class="tl" text-anchor="middle">100</text>
<text x="173.86" y="431.7" class="tl" text-anchor="middle">120</text>
<text x="193.72" y="431.7" class="tl" text-anchor="middle">140</text>
<text class="tl" text-anchor="middle" transform="translate(46.2,418.5) rotate(-90)">0</text>
<text class="tl" text-anchor="middle" transform="translate(46.2,388.5) rotate(-90)">200</text>
<text class="tl" text-anchor="middle" transform="translate(46.2,358.5) rotate(-90)">400</text>
<text class="tl" text-anchor="middle" transform="translate(46.2,328.5) rotate(-90)">600</text>
<text class="tl" text-anchor="middle" transform="translate(46.2,298.5) rotate(-90)">800</text>
<text class="tl" text-anchor="middle" transform="translate(46.2,268.5) rotate(-90)">1000</text>
<text class="nl" text-anchor="middle" transform="translate(38.5,343) rotate(-90)">Number</text>
<text class="nl" x="129.18" y="438.8" text-anchor="middle">PI-A</text>
<path d="M155.99,419.2 l2.8,4.4 h-5.6z" fill="#000"/>
<rect x="173.6" y="264.7" width="5.2" height="4.3" fill="#ec1018"/>
<rect x="173.6" y="270.8" width="5.2" height="4.3" fill="#ec1018"/>
<rect x="173.7" y="277" width="5" height="4" fill="url(#hatch2)" stroke="#888" stroke-width="0.4"/>
<text class="lg" x="180.9" y="268.6">G0G1</text>
<text class="lg" x="180.9" y="274.8">G2M</text>
<text class="lg" x="180.9" y="281">S-Phase</text>
<text class="blk" x="98.16" y="255.75" textLength="68.03" lengthAdjust="spacingAndGlyphs" style="font-size:14.51px;font-weight:bold" stroke="currentColor" stroke-width="0.4" stroke-linejoin="round">NC+BLM</text><g transform="translate(0.55,0)"><text class="blk" x="98.16" y="255.75" textLength="68.03" lengthAdjust="spacingAndGlyphs" style="font-size:14.51px;font-weight:bold" stroke="currentColor" stroke-width="0.4" stroke-linejoin="round">NC+BLM</text></g>
<clipPath id="c5"><rect x="235.8" y="255.1" width="150" height="163.3"/></clipPath>
<path d="M235.8,267.1V418.1H385.8" fill="none" stroke="#777" stroke-width="0.7"/>
<path d="M229.8,418.1H235.8M232.8,410.55H235.8M232.8,403H235.8M232.8,395.45H235.8M229.8,387.9H235.8M232.8,380.35H235.8M232.8,372.8H235.8M232.8,365.25H235.8M229.8,357.7H235.8M232.8,350.15H235.8M232.8,342.6H235.8M232.8,335.05H235.8M229.8,327.5H235.8M232.8,319.95H235.8M232.8,312.4H235.8M232.8,304.85H235.8M229.8,297.3H235.8M232.8,289.75H235.8M232.8,282.2H235.8M232.8,274.65H235.8M229.8,267.1H235.8M235.8,418.1V424.6M240.8,418.1V421.6M245.8,418.1V421.6M250.8,418.1V421.6M255.8,418.1V424.6M260.8,418.1V421.6M265.8,418.1V421.6M270.8,418.1V421.6M275.8,418.1V424.6M280.8,418.1V421.6M285.8,418.1V421.6M290.8,418.1V421.6M295.8,418.1V424.6M300.8,418.1V421.6M305.8,418.1V421.6M310.8,418.1V421.6M315.8,418.1V424.6M320.8,418.1V421.6M325.8,418.1V421.6M330.8,418.1V421.6M335.8,418.1V424.6M340.8,418.1V421.6M345.8,418.1V421.6M350.8,418.1V421.6M355.8,418.1V424.6M360.8,418.1V421.6M365.8,418.1V421.6M370.8,418.1V421.6M375.8,418.1V424.6M380.8,418.1V421.6M385.8,418.1V421.6" stroke="#777" stroke-width="0.6"/>
<g clip-path="url(#c5)">
<path d="M268.1,418.1 L268.35,418.1 L268.6,418.1 L268.85,418.1 L269.1,418.1 L269.35,418.1 L269.6,418.1 L269.85,418.1 L270.1,418.1 L270.35,418.09 L270.6,418.09 L270.85,418.09 L271.1,418.09 L271.35,418.09 L271.6,418.08 L271.85,418.08 L272.1,418.07 L272.35,418.07 L272.6,418.06 L272.85,418.05 L273.1,418.03 L273.35,418.02 L273.6,418 L273.85,417.98 L274.1,417.95 L274.35,417.92 L274.6,417.88 L274.85,417.83 L275.1,417.77 L275.35,417.71 L275.6,417.63 L275.85,417.53 L276.1,417.42 L276.35,417.29 L276.6,417.14 L276.85,416.96 L277.1,416.75 L277.35,416.51 L277.6,416.24 L277.85,415.92 L278.1,415.55 L278.35,415.13 L278.6,414.65 L278.85,414.11 L279.1,413.5 L279.35,412.8 L279.6,412.02 L279.85,411.15 L280.1,410.17 L280.35,409.09 L280.6,407.88 L280.85,406.55 L281.1,405.08 L281.35,403.47 L281.6,401.7 L281.85,399.78 L282.1,397.7 L282.35,395.44 L282.6,393.01 L282.85,390.4 L283.1,387.61 L283.35,384.64 L283.6,381.49 L283.85,378.15 L284.1,374.65 L284.35,370.97 L284.6,367.13 L284.85,363.15 L285.1,359.02 L285.35,354.77 L285.6,350.42 L285.85,345.99 L286.1,341.48 L286.35,336.94 L286.6,332.38 L286.85,327.84 L287.1,323.33 L287.35,318.89 L287.6,314.55 L287.85,310.33 L288.1,306.28 L288.35,302.42 L288.6,298.77 L288.85,295.38 L289.1,292.26 L289.35,289.44 L289.6,286.95 L289.85,284.8 L290.1,283.01 L290.35,281.61 L290.6,280.6 L290.85,279.99 L291.1,279.78 L291.35,279.99 L291.6,280.6 L291.85,281.61 L292.1,283.01 L292.35,284.8 L292.6,286.95 L292.85,289.44 L293.1,292.26 L293.35,295.38 L293.6,298.77 L293.85,302.42 L294.1,306.28 L294.35,310.33 L294.6,314.55 L294.85,318.89 L295.1,323.33 L295.35,327.84 L295.6,332.38 L295.85,336.94 L296.1,341.48 L296.35,345.99 L296.6,350.42 L296.85,354.77 L297.1,359.02 L297.35,363.15 L297.6,367.13 L297.85,370.97 L298.1,374.65 L298.35,378.15 L298.6,381.49 L298.85,384.64 L299.1,387.61 L299.35,390.4 L299.6,393.01 L299.85,395.44 L300.1,397.7 L300.35,399.78 L300.6,401.7 L300.85,403.47 L301.1,405.08 L301.35,406.55 L301.6,407.88 L301.85,409.09 L302.1,410.17 L302.35,411.15 L302.6,412.02 L302.85,412.8 L303.1,413.5 L303.35,414.11 L303.6,414.65 L303.85,415.13 L304.1,415.55 L304.35,415.92 L304.6,416.24 L304.85,416.51 L305.1,416.75 L305.35,416.96 L305.6,417.14 L305.85,417.29 L306.1,417.42 L306.35,417.53 L306.6,417.63 L306.85,417.71 L307.1,417.77 L307.35,417.83 L307.6,417.88 L307.85,417.92 L308.1,417.95 L308.35,417.98 L308.6,418 L308.85,418.02 L309.1,418.03 L309.35,418.05 L309.6,418.06 L309.85,418.07 L310.1,418.07 L310.35,418.08 L310.6,418.08 L310.85,418.09 L311.1,418.09 L311.35,418.09 L311.6,418.09 L311.85,418.09 L312.1,418.1 L312.35,418.1 L312.6,418.1 L312.85,418.1 L313.1,418.1 L313.35,418.1 L313.6,418.1 L313.85,418.1 L314.1,418.1 L314.1,418.1 L268.1,418.1 Z" fill="#ec1018" stroke="#000" stroke-width="0.6"/>
<path d="M300.3,418.1 L300.55,418.1 L300.8,418.1 L301.05,418.1 L301.3,418.1 L301.55,418.1 L301.8,418.1 L302.05,418.1 L302.3,418.1 L302.55,418.1 L302.8,418.1 L303.05,418.1 L303.3,418.1 L303.55,418.1 L303.8,418.1 L304.05,418.1 L304.3,418.1 L304.55,418.09 L304.8,418.09 L305.05,418.09 L305.3,418.09 L305.55,418.09 L305.8,418.09 L306.05,418.09 L306.3,418.09 L306.55,418.08 L306.8,418.08 L307.05,418.08 L307.3,418.07 L307.55,418.07 L307.8,418.07 L308.05,418.06 L308.3,418.05 L308.55,418.05 L308.8,418.04 L309.05,418.03 L309.3,418.02 L309.55,418.01 L309.8,418 L310.05,417.99 L310.3,417.97 L310.55,417.95 L310.8,417.93 L311.05,417.91 L311.3,417.89 L311.55,417.86 L311.8,417.83 L312.05,417.8 L312.3,417.76 L312.55,417.72 L312.8,417.67 L313.05,417.62 L313.3,417.56 L313.55,417.5 L313.8,417.43 L314.05,417.36 L314.3,417.27 L314.55,417.18 L314.8,417.08 L315.05,416.97 L315.3,416.85 L315.55,416.72 L315.8,416.57 L316.05,416.41 L316.3,416.24 L316.55,416.05 L316.8,415.85 L317.05,415.63 L317.3,415.39 L317.55,415.14 L317.8,414.86 L318.05,414.56 L318.3,414.23 L318.55,413.88 L318.8,413.51 L319.05,413.11 L319.3,412.68 L319.55,412.22 L319.8,411.73 L320.05,411.2 L320.3,410.65 L320.55,410.05 L320.8,409.42 L321.05,408.76 L321.3,408.05 L321.55,407.3 L321.8,406.51 L322.05,405.68 L322.3,404.81 L322.55,403.89 L322.8,402.92 L323.05,401.91 L323.3,400.85 L323.55,399.75 L323.8,398.59 L324.05,397.4 L324.3,396.15 L324.55,394.85 L324.8,393.51 L325.05,392.13 L325.3,390.7 L325.55,389.22 L325.8,387.7 L326.05,386.14 L326.3,384.54 L326.55,382.91 L326.8,381.24 L327.05,379.53 L327.3,377.8 L327.55,376.03 L327.8,374.25 L328.05,372.44 L328.3,370.61 L328.55,368.78 L328.8,366.93 L329.05,365.08 L329.3,363.22 L329.55,361.37 L329.8,359.53 L330.05,357.7 L330.3,355.89 L330.55,354.1 L330.8,352.34 L331.05,350.62 L331.3,348.93 L331.55,347.28 L331.8,345.69 L332.05,344.14 L332.3,342.66 L332.55,341.23 L332.8,339.88 L333.05,338.59 L333.3,337.39 L333.55,336.26 L333.8,335.22 L334.05,334.26 L334.3,333.4 L334.55,332.63 L334.8,331.96 L335.05,331.38 L335.3,330.91 L335.55,330.54 L335.8,330.28 L336.05,330.12 L336.3,330.07 L336.55,330.12 L336.8,330.28 L337.05,330.54 L337.3,330.91 L337.55,331.38 L337.8,331.96 L338.05,332.63 L338.3,333.4 L338.55,334.26 L338.8,335.22 L339.05,336.26 L339.3,337.39 L339.55,338.59 L339.8,339.88 L340.05,341.23 L340.3,342.66 L340.55,344.14 L340.8,345.69 L341.05,347.28 L341.3,348.93 L341.55,350.62 L341.8,352.34 L342.05,354.1 L342.3,355.89 L342.55,357.7 L342.8,359.53 L343.05,361.37 L343.3,363.22 L343.55,365.08 L343.8,366.93 L344.05,368.78 L344.3,370.61 L344.55,372.44 L344.8,374.25 L345.05,376.03 L345.3,377.8 L345.55,379.53 L345.8,381.24 L346.05,382.91 L346.3,384.54 L346.55,386.14 L346.8,387.7 L347.05,389.22 L347.3,390.7 L347.55,392.13 L347.8,393.51 L348.05,394.85 L348.3,396.15 L348.55,397.4 L348.8,398.59 L349.05,399.75 L349.3,400.85 L349.55,401.91 L349.8,402.92 L350.05,403.89 L350.3,404.81 L350.55,405.68 L350.8,406.51 L351.05,407.3 L351.3,408.05 L351.55,408.76 L351.8,409.42 L352.05,410.05 L352.3,410.65 L352.55,411.2 L352.8,411.73 L353.05,412.22 L353.3,412.68 L353.55,413.11 L353.8,413.51 L354.05,413.88 L354.3,414.23 L354.55,414.56 L354.8,414.86 L355.05,415.14 L355.3,415.39 L355.55,415.63 L355.8,415.85 L356.05,416.05 L356.3,416.24 L356.55,416.41 L356.8,416.57 L357.05,416.72 L357.3,416.85 L357.55,416.97 L357.8,417.08 L358.05,417.18 L358.3,417.27 L358.55,417.36 L358.8,417.43 L359.05,417.5 L359.3,417.56 L359.55,417.62 L359.8,417.67 L360.05,417.72 L360.3,417.76 L360.55,417.8 L360.8,417.83 L361.05,417.86 L361.3,417.89 L361.55,417.91 L361.8,417.93 L362.05,417.95 L362.3,417.97 L362.55,417.99 L362.8,418 L363.05,418.01 L363.3,418.02 L363.55,418.03 L363.8,418.04 L364.05,418.05 L364.3,418.05 L364.55,418.06 L364.8,418.07 L365.05,418.07 L365.3,418.07 L365.55,418.08 L365.8,418.08 L366.05,418.08 L366.3,418.09 L366.55,418.09 L366.8,418.09 L367.05,418.09 L367.3,418.09 L367.55,418.09 L367.8,418.09 L368.05,418.09 L368.3,418.1 L368.55,418.1 L368.8,418.1 L369.05,418.1 L369.3,418.1 L369.55,418.1 L369.8,418.1 L370.05,418.1 L370.3,418.1 L370.55,418.1 L370.8,418.1 L371.05,418.1 L371.3,418.1 L371.55,418.1 L371.8,418.1 L372.05,418.1 L372.3,418.1 L372.3,418.1 L300.3,418.1 Z" fill="#ec1018" stroke="#000" stroke-width="0.6"/>
<path d="M283.8,418.1 L284.3,417.95 L284.8,417.77 L285.3,417.56 L285.8,417.32 L286.3,417.06 L286.8,416.78 L287.3,416.49 L287.8,416.2 L288.3,415.91 L288.8,415.62 L289.3,415.34 L289.8,415.08 L290.3,414.82 L290.8,414.56 L291.3,414.29 L291.8,414.02 L292.3,413.75 L292.8,413.49 L293.3,413.22 L293.8,412.97 L294.3,412.72 L294.8,412.49 L295.3,412.27 L295.8,412.06 L296.3,411.87 L296.8,411.69 L297.3,411.53 L297.8,411.39 L298.3,411.28 L298.8,411.2 L299.3,411.16 L299.8,411.15 L300.3,411.2 L300.8,411.29 L301.3,411.42 L301.8,411.58 L302.3,411.76 L302.8,411.96 L303.3,412.16 L303.8,412.36 L304.3,412.57 L304.8,412.78 L305.3,413.01 L305.8,413.25 L306.3,413.49 L306.8,413.73 L307.3,413.98 L307.8,414.21 L308.3,414.45 L308.8,414.67 L309.3,414.88 L309.8,415.08 L310.3,415.27 L310.8,415.45 L311.3,415.64 L311.8,415.81 L312.3,415.99 L312.8,416.15 L313.3,416.3 L313.8,416.45 L314.3,416.58 L314.8,416.7 L315.3,416.8 L315.8,416.89 L316.3,416.97 L316.8,417.04 L317.3,417.1 L317.8,417.16 L318.3,417.21 L318.8,417.25 L319.3,417.29 L319.8,417.33 L320.3,417.36 L320.8,417.39 L321.3,417.42 L321.8,417.45 L322.3,417.47 L322.8,417.5 L323.3,417.52 L323.8,417.54 L324.3,417.57 L324.8,417.59 L325.3,417.62 L325.8,417.65 L326.3,417.68 L326.8,417.71 L327.3,417.74 L327.8,417.76 L328.3,417.79 L328.8,417.82 L329.3,417.85 L329.8,417.87 L330.3,417.9 L330.8,417.92 L331.3,417.94 L331.8,417.97 L332.3,417.99 L332.8,418.01 L333.3,418.03 L333.8,418.04 L334.3,418.06 L334.8,418.07 L335.3,418.09 L335.8,418.1 L335.8,418.1 L283.8,418.1 Z" fill="url(#hatch)" stroke="#000" stroke-width="0.6"/>
<path d="M235.8,418.1 L236.3,418.1 L236.8,418.1 L237.3,418.1 L237.8,418.1 L238.3,418.1 L238.8,418.1 L239.3,418.1 L239.8,418.1 L240.3,418.1 L240.8,418.1 L241.3,418.1 L241.8,418.1 L242.3,418.1 L242.8,418.1 L243.3,418.1 L243.8,418.1 L244.3,418.1 L244.8,418.1 L245.3,418.1 L245.8,418.1 L246.3,418.1 L246.8,418.1 L247.3,418.1 L247.8,418.1 L248.3,418.1 L248.8,418.1 L249.3,418.1 L249.8,418.1 L250.3,418.1 L250.8,418.1 L251.3,418.1 L251.8,418.1 L252.3,418.1 L252.8,418.1 L253.3,418.1 L253.8,418.1 L254.3,418.1 L254.8,418.1 L255.3,418.1 L255.8,418.1 L256.3,418.1 L256.8,418.1 L257.3,418.1 L257.8,418.1 L258.3,418.1 L258.8,418.1 L259.3,418.1 L259.8,418.1 L260.3,418.1 L260.8,418.1 L261.3,418.1 L261.8,418.1 L262.3,418.1 L262.8,418.1 L263.3,418.1 L263.8,418.1 L264.3,418.1 L264.8,418.1 L265.3,418.1 L265.8,418.1 L266.3,418.1 L266.8,418.1 L267.3,418.1 L267.8,418.1 L268.3,418.1 L268.8,418.1 L269.3,418.1 L269.8,418.1 L270.3,418.09 L270.8,418.09 L271.3,418.09 L271.8,418.08 L272.3,418.07 L272.8,418.05 L273.3,418.02 L273.8,417.98 L274.3,417.92 L274.8,417.84 L275.3,417.72 L275.8,417.55 L276.3,417.32 L276.8,417 L277.3,416.56 L277.8,415.98 L278.3,415.22 L278.8,414.22 L279.3,412.95 L279.8,411.33 L280.3,409.31 L280.8,406.82 L281.3,403.8 L281.8,400.18 L282.3,395.91 L282.8,390.94 L283.3,385.25 L283.8,378.84 L284.3,371.57 L284.8,363.63 L285.3,355.09 L285.8,346.1 L286.3,336.81 L286.8,327.42 L287.3,318.16 L287.8,309.26 L288.3,300.98 L288.8,293.55 L289.3,287.22 L289.8,282.18 L290.3,278.58 L290.8,276.54 L291.3,276.11 L291.8,277.3 L292.3,280.07 L292.8,284.3 L293.3,289.86 L293.8,296.54 L294.3,304.13 L294.8,312.4 L295.3,321.1 L295.8,329.99 L296.3,338.86 L296.8,347.5 L297.3,355.76 L297.8,363.51 L298.3,370.65 L298.8,377.13 L299.3,382.92 L299.8,388.03 L300.3,392.48 L300.8,396.32 L301.3,399.58 L301.8,402.33 L302.3,404.62 L302.8,406.51 L303.3,408.05 L303.8,409.3 L304.3,410.31 L304.8,411.14 L305.3,411.82 L305.8,412.4 L306.3,412.89 L306.8,413.3 L307.3,413.67 L307.8,413.99 L308.3,414.27 L308.8,414.53 L309.3,414.75 L309.8,414.94 L310.3,415.12 L310.8,415.27 L311.3,415.42 L311.8,415.54 L312.3,415.64 L312.8,415.72 L313.3,415.77 L313.8,415.78 L314.3,415.75 L314.8,415.68 L315.3,415.55 L315.8,415.36 L316.3,415.11 L316.8,414.79 L317.3,414.39 L317.8,413.91 L318.3,413.34 L318.8,412.66 L319.3,411.87 L319.8,410.96 L320.3,409.91 L320.8,408.72 L321.3,407.37 L321.8,405.86 L322.3,404.18 L322.8,402.32 L323.3,400.27 L323.8,398.04 L324.3,395.62 L324.8,393.01 L325.3,390.21 L325.8,387.25 L326.3,384.12 L326.8,380.84 L327.3,377.43 L327.8,373.91 L328.3,370.31 L328.8,366.65 L329.3,362.97 L329.8,359.3 L330.3,355.69 L330.8,352.16 L331.3,348.77 L331.8,345.55 L332.3,342.54 L332.8,339.78 L333.3,337.31 L333.8,335.16 L334.3,333.36 L334.8,331.93 L335.3,330.9 L335.8,330.28 L336.3,330.07 L336.8,330.28 L337.3,330.91 L337.8,331.96 L338.3,333.4 L338.8,335.22 L339.3,337.39 L339.8,339.88 L340.3,342.66 L340.8,345.69 L341.3,348.93 L341.8,352.34 L342.3,355.89 L342.8,359.53 L343.3,363.22 L343.8,366.93 L344.3,370.61 L344.8,374.25 L345.3,377.8 L345.8,381.24 L346.3,384.54 L346.8,387.7 L347.3,390.7 L347.8,393.51 L348.3,396.15 L348.8,398.59 L349.3,400.85 L349.8,402.92 L350.3,404.81 L350.8,406.51 L351.3,408.05 L351.8,409.42 L352.3,410.65 L352.8,411.73 L353.3,412.68 L353.8,413.51 L354.3,414.23 L354.8,414.86 L355.3,415.39 L355.8,415.85 L356.3,416.24 L356.8,416.57 L357.3,416.85 L357.8,417.08 L358.3,417.27 L358.8,417.43 L359.3,417.56 L359.8,417.67 L360.3,417.76 L360.8,417.83 L361.3,417.89 L361.8,417.93 L362.3,417.97 L362.8,418 L363.3,418.02 L363.8,418.04 L364.3,418.05 L364.8,418.07 L365.3,418.07 L365.8,418.08 L366.3,418.09 L366.8,418.09 L367.3,418.09 L367.8,418.09 L368.3,418.1 L368.8,418.1 L369.3,418.1 L369.8,418.1 L370.3,418.1 L370.8,418.1 L371.3,418.1 L371.8,418.1 L372.3,418.1 L372.8,418.1 L373.3,418.1 L373.8,418.1 L374.3,418.1 L374.8,418.1 L375.3,418.1 L375.8,418.1 L376.3,418.1 L376.8,418.1 L377.3,418.1 L377.8,418.1 L378.3,418.1 L378.8,418.1 L379.3,418.1 L379.8,418.1 L380.3,418.1 L380.8,418.1 L381.3,418.1 L381.8,418.1 L382.3,418.1 L382.8,418.1 L383.3,418.1 L383.8,418.1 L384.3,418.1 L384.8,418.1 L385.3,418.1 L385.8,418.1" fill="none" stroke="#000" stroke-width="0.7"/>
<path d="M280.8,406.82 L281.3,403.8 L281.8,400.18 L282.3,395.91 L282.8,390.94 L283.3,385.25 L283.8,378.84 L284.3,371.57 L284.8,363.63 L285.3,355.09 L285.8,346.1 L286.3,336.81 L286.8,327.42 L287.3,318.16 L287.8,309.26 L288.3,300.98 L288.8,293.55 L289.3,287.22 L289.8,282.18 L290.3,278.58 L290.8,276.54 L291.3,276.11 L291.8,277.3 L292.3,280.07 L292.8,284.3 L293.3,289.86 L293.8,296.54 L294.3,304.13 L294.8,312.4 L295.3,321.1 L295.8,329.99 L296.3,338.86 L296.8,347.5 L297.3,355.76 L297.8,363.51 L298.3,370.65 L298.8,377.13 L299.3,382.92 L299.8,388.03 L300.3,392.48 L300.8,396.32 L301.3,399.58 L301.8,402.33 L302.3,404.62 L302.8,406.51 L303.3,408.05 L303.8,409.3 L304.3,410.31 L304.8,411.14 L305.3,411.82 L305.8,412.4 L306.3,412.89 L306.8,413.3 L307.3,413.67 L307.8,413.99 L308.3,414.27 L308.8,414.53 L309.3,414.75 L309.8,414.94 L310.3,415.12 L310.8,415.27 L311.3,415.42 L311.8,415.54 L312.3,415.64 L312.8,415.72 L313.3,415.77 L313.8,415.78 L314.3,415.75 L314.8,415.68 L315.3,415.55 L315.8,415.36 L316.3,415.11 L316.8,414.79 L317.3,414.39 L317.8,413.91 L318.3,413.34 L318.8,412.66 L319.3,411.87 L319.8,410.96 L320.3,409.91 L320.8,408.72 L321.3,407.37 L321.8,405.86 L322.3,404.18 L322.8,402.32 L323.3,400.27 L323.8,398.04 L324.3,395.62 L324.8,393.01 L325.3,390.21 L325.8,387.25 L326.3,384.12 L326.8,380.84 L327.3,377.43 L327.8,373.91 L328.3,370.31 L328.8,366.65 L329.3,362.97 L329.8,359.3 L330.3,355.69 L330.8,352.16 L331.3,348.77 L331.8,345.55 L332.3,342.54 L332.8,339.78 L333.3,337.31 L333.8,335.16 L334.3,333.36 L334.8,331.93 L335.3,330.9 L335.8,330.28 L336.3,330.07 L336.8,330.28 L337.3,330.91 L337.8,331.96 L338.3,333.4 L338.8,335.22" fill="none" stroke="#666" stroke-width="0.55" transform="translate(0.3,-0.9)"/>
</g>
<text x="235.8" y="431.3" class="tl" text-anchor="middle">0</text>
<text x="255.8" y="431.3" class="tl" text-anchor="middle">20</text>
<text x="275.8" y="431.3" class="tl" text-anchor="middle">40</text>
<text x="295.8" y="431.3" class="tl" text-anchor="middle">60</text>
<text x="315.8" y="431.3" class="tl" text-anchor="middle">80</text>
<text x="335.8" y="431.3" class="tl" text-anchor="middle">100</text>
<text x="355.8" y="431.3" class="tl" text-anchor="middle">120</text>
<text x="375.8" y="431.3" class="tl" text-anchor="middle">140</text>
<text class="tl" text-anchor="middle" transform="translate(227.3,418.1) rotate(-90)">0</text>
<text class="tl" text-anchor="middle" transform="translate(227.3,387.9) rotate(-90)">200</text>
<text class="tl" text-anchor="middle" transform="translate(227.3,357.7) rotate(-90)">400</text>
<text class="tl" text-anchor="middle" transform="translate(227.3,327.5) rotate(-90)">600</text>
<text class="tl" text-anchor="middle" transform="translate(227.3,297.3) rotate(-90)">800</text>
<text class="tl" text-anchor="middle" transform="translate(227.3,267.1) rotate(-90)">1000</text>
<text class="nl" text-anchor="middle" transform="translate(219.6,342.1) rotate(-90)">Number</text>
<text class="nl" x="310.8" y="438.4" text-anchor="middle">PI-A</text>
<path d="M291.3,418.8 l2.8,4.4 h-5.6z" fill="#000"/>
<path d="M335.8,418.8 l2.8,4.4 h-5.6z" fill="#000"/>
<rect x="355.3" y="264" width="5.2" height="4.3" fill="#ec1018"/>
<rect x="355.3" y="270.1" width="5.2" height="4.3" fill="#ec1018"/>
<rect x="355.4" y="276.3" width="5" height="4" fill="url(#hatch2)" stroke="#888" stroke-width="0.4"/>
<text class="lg" x="362.6" y="267.9">G0G1</text>
<text class="lg" x="362.6" y="274.1">G2M</text>
<text class="lg" x="362.6" y="280.3">S-Phase</text>
<text class="blk" x="263.55" y="255.95" textLength="104.72" lengthAdjust="spacingAndGlyphs" style="font-size:14.66px;font-weight:bold" stroke="currentColor" stroke-width="0.4" stroke-linejoin="round">siOGG1+BLM</text><g transform="translate(0.55,0)"><text class="blk" x="263.55" y="255.95" textLength="104.72" lengthAdjust="spacingAndGlyphs" style="font-size:14.66px;font-weight:bold" stroke="currentColor" stroke-width="0.4" stroke-linejoin="round">siOGG1+BLM</text></g>
<clipPath id="c6"><rect x="439.4" y="256.9" width="149.52" height="162.9"/></clipPath>
<path d="M439.4,268.9V419.5H588.92" fill="none" stroke="#777" stroke-width="0.7"/>
<path d="M433.4,419.5H439.4M436.4,413.23H439.4M436.4,406.95H439.4M436.4,400.68H439.4M433.4,394.4H439.4M436.4,388.12H439.4M436.4,381.85H439.4M436.4,375.57H439.4M433.4,369.3H439.4M436.4,363.02H439.4M436.4,356.75H439.4M436.4,350.48H439.4M433.4,344.2H439.4M436.4,337.93H439.4M436.4,331.65H439.4M436.4,325.38H439.4M433.4,319.1H439.4M436.4,312.82H439.4M436.4,306.55H439.4M436.4,300.27H439.4M433.4,294H439.4M436.4,287.73H439.4M436.4,281.45H439.4M436.4,275.18H439.4M433.4,268.9H439.4M439.4,419.5V426M445.63,419.5V423M451.86,419.5V423M458.09,419.5V423M464.32,419.5V426M470.55,419.5V423M476.78,419.5V423M483.01,419.5V423M489.24,419.5V426M495.47,419.5V423M501.7,419.5V423M507.93,419.5V423M514.16,419.5V426M520.39,419.5V423M526.62,419.5V423M532.85,419.5V423M539.08,419.5V426M545.31,419.5V423M551.54,419.5V423M557.77,419.5V423M564,419.5V426M570.23,419.5V423M576.46,419.5V423M582.69,419.5V423M588.92,419.5V426" stroke="#777" stroke-width="0.6"/>
<g clip-path="url(#c6)">
<path d="M476.78,419.5 L477.09,419.5 L477.4,419.5 L477.71,419.5 L478.03,419.5 L478.34,419.5 L478.65,419.5 L478.96,419.49 L479.27,419.49 L479.58,419.49 L479.89,419.49 L480.21,419.48 L480.52,419.48 L480.83,419.47 L481.14,419.46 L481.45,419.45 L481.76,419.43 L482.08,419.41 L482.39,419.38 L482.7,419.35 L483.01,419.3 L483.32,419.25 L483.63,419.18 L483.94,419.09 L484.26,418.98 L484.57,418.85 L484.88,418.69 L485.19,418.49 L485.5,418.25 L485.81,417.95 L486.12,417.6 L486.44,417.18 L486.75,416.68 L487.06,416.09 L487.37,415.39 L487.68,414.58 L487.99,413.63 L488.31,412.53 L488.62,411.27 L488.93,409.83 L489.24,408.18 L489.55,406.33 L489.86,404.24 L490.17,401.91 L490.49,399.32 L490.8,396.45 L491.11,393.31 L491.42,389.89 L491.73,386.17 L492.04,382.17 L492.35,377.89 L492.67,373.35 L492.98,368.55 L493.29,363.53 L493.6,358.31 L493.91,352.92 L494.22,347.4 L494.54,341.81 L494.85,336.18 L495.16,330.58 L495.47,325.05 L495.78,319.67 L496.09,314.48 L496.4,309.56 L496.72,304.96 L497.03,300.74 L497.34,296.96 L497.65,293.66 L497.96,290.9 L498.27,288.71 L498.58,287.13 L498.9,286.16 L499.21,285.84 L499.52,286.16 L499.83,287.13 L500.14,288.71 L500.45,290.9 L500.77,293.66 L501.08,296.96 L501.39,300.74 L501.7,304.96 L502.01,309.56 L502.32,314.48 L502.63,319.67 L502.95,325.05 L503.26,330.58 L503.57,336.18 L503.88,341.81 L504.19,347.4 L504.5,352.92 L504.81,358.31 L505.13,363.53 L505.44,368.55 L505.75,373.35 L506.06,377.89 L506.37,382.17 L506.68,386.17 L507,389.89 L507.31,393.31 L507.62,396.45 L507.93,399.32 L508.24,401.91 L508.55,404.24 L508.86,406.33 L509.18,408.18 L509.49,409.83 L509.8,411.27 L510.11,412.53 L510.42,413.63 L510.73,414.58 L511.04,415.39 L511.36,416.09 L511.67,416.68 L511.98,417.18 L512.29,417.6 L512.6,417.95 L512.91,418.25 L513.23,418.49 L513.54,418.69 L513.85,418.85 L514.16,418.98 L514.47,419.09 L514.78,419.18 L515.09,419.25 L515.41,419.3 L515.72,419.35 L516.03,419.38 L516.34,419.41 L516.65,419.43 L516.96,419.45 L517.27,419.46 L517.59,419.47 L517.9,419.48 L518.21,419.48 L518.52,419.49 L518.83,419.49 L519.14,419.49 L519.46,419.49 L519.77,419.5 L520.08,419.5 L520.39,419.5 L520.7,419.5 L521.01,419.5 L521.32,419.5 L521.64,419.5 L521.64,419.5 L476.78,419.5 Z" fill="#ec1018" stroke="#000" stroke-width="0.6"/>
<path d="M514.78,419.5 L515.09,419.5 L515.41,419.5 L515.72,419.5 L516.03,419.5 L516.34,419.5 L516.65,419.5 L516.96,419.5 L517.27,419.5 L517.59,419.5 L517.9,419.5 L518.21,419.5 L518.52,419.5 L518.83,419.5 L519.14,419.5 L519.46,419.5 L519.77,419.5 L520.08,419.5 L520.39,419.5 L520.7,419.5 L521.01,419.5 L521.32,419.49 L521.64,419.49 L521.95,419.49 L522.26,419.49 L522.57,419.49 L522.88,419.49 L523.19,419.49 L523.5,419.48 L523.82,419.48 L524.13,419.48 L524.44,419.47 L524.75,419.47 L525.06,419.47 L525.37,419.46 L525.69,419.46 L526,419.45 L526.31,419.44 L526.62,419.43 L526.93,419.42 L527.24,419.41 L527.55,419.4 L527.87,419.38 L528.18,419.37 L528.49,419.35 L528.8,419.33 L529.11,419.31 L529.42,419.28 L529.74,419.25 L530.05,419.22 L530.36,419.19 L530.67,419.15 L530.98,419.11 L531.29,419.06 L531.6,419 L531.92,418.95 L532.23,418.88 L532.54,418.81 L532.85,418.73 L533.16,418.65 L533.47,418.55 L533.78,418.45 L534.1,418.34 L534.41,418.22 L534.72,418.08 L535.03,417.94 L535.34,417.78 L535.65,417.61 L535.96,417.43 L536.28,417.23 L536.59,417.02 L536.9,416.79 L537.21,416.55 L537.52,416.29 L537.83,416.01 L538.15,415.71 L538.46,415.39 L538.77,415.05 L539.08,414.69 L539.39,414.31 L539.7,413.91 L540.01,413.49 L540.33,413.04 L540.64,412.57 L540.95,412.07 L541.26,411.56 L541.57,411.02 L541.88,410.45 L542.19,409.87 L542.51,409.26 L542.82,408.62 L543.13,407.97 L543.44,407.29 L543.75,406.6 L544.06,405.88 L544.38,405.15 L544.69,404.4 L545,403.63 L545.31,402.85 L545.62,402.05 L545.93,401.25 L546.24,400.43 L546.56,399.61 L546.87,398.79 L547.18,397.96 L547.49,397.13 L547.8,396.3 L548.11,395.48 L548.42,394.67 L548.74,393.87 L549.05,393.08 L549.36,392.31 L549.67,391.55 L549.98,390.82 L550.29,390.11 L550.61,389.43 L550.92,388.78 L551.23,388.16 L551.54,387.57 L551.85,387.02 L552.16,386.52 L552.47,386.05 L552.79,385.63 L553.1,385.25 L553.41,384.92 L553.72,384.63 L554.03,384.4 L554.34,384.22 L554.65,384.09 L554.97,384.01 L555.28,383.98 L555.59,384.01 L555.9,384.09 L556.21,384.22 L556.52,384.4 L556.84,384.63 L557.15,384.92 L557.46,385.25 L557.77,385.63 L558.08,386.05 L558.39,386.52 L558.7,387.02 L559.02,387.57 L559.33,388.16 L559.64,388.78 L559.95,389.43 L560.26,390.11 L560.57,390.82 L560.88,391.55 L561.2,392.31 L561.51,393.08 L561.82,393.87 L562.13,394.67 L562.44,395.48 L562.75,396.3 L563.07,397.13 L563.38,397.96 L563.69,398.79 L564,399.61 L564.31,400.43 L564.62,401.25 L564.93,402.05 L565.25,402.85 L565.56,403.63 L565.87,404.4 L566.18,405.15 L566.49,405.88 L566.8,406.6 L567.12,407.29 L567.43,407.97 L567.74,408.62 L568.05,409.26 L568.36,409.87 L568.67,410.45 L568.98,411.02 L569.3,411.56 L569.61,412.07 L569.92,412.57 L570.23,413.04 L570.54,413.49 L570.85,413.91 L571.16,414.31 L571.48,414.69 L571.79,415.05 L572.1,415.39 L572.41,415.71 L572.72,416.01 L573.03,416.29 L573.35,416.55 L573.66,416.79 L573.97,417.02 L574.28,417.23 L574.59,417.43 L574.9,417.61 L575.21,417.78 L575.53,417.94 L575.84,418.08 L576.15,418.22 L576.46,418.34 L576.77,418.45 L577.08,418.55 L577.39,418.65 L577.71,418.73 L578.02,418.81 L578.33,418.88 L578.64,418.95 L578.95,419 L579.26,419.06 L579.58,419.11 L579.89,419.15 L580.2,419.19 L580.51,419.22 L580.82,419.25 L581.13,419.28 L581.44,419.31 L581.76,419.33 L582.07,419.35 L582.38,419.37 L582.69,419.38 L583,419.4 L583.31,419.41 L583.62,419.42 L583.94,419.43 L584.25,419.44 L584.56,419.45 L584.87,419.46 L585.18,419.46 L585.49,419.47 L585.8,419.47 L586.12,419.47 L586.43,419.48 L586.74,419.48 L587.05,419.48 L587.36,419.49 L587.67,419.49 L587.99,419.49 L588.3,419.49 L588.61,419.49 L588.92,419.49 L589.23,419.49 L589.54,419.5 L589.85,419.5 L590.17,419.5 L590.48,419.5 L590.79,419.5 L591.1,419.5 L591.41,419.5 L591.72,419.5 L592.03,419.5 L592.35,419.5 L592.66,419.5 L592.97,419.5 L593.28,419.5 L593.59,419.5 L593.9,419.5 L594.22,419.5 L594.53,419.5 L594.84,419.5 L595.15,419.5 L595.46,419.5 L595.77,419.5 L595.77,419.5 L514.78,419.5 Z" fill="#ec1018" stroke="#000" stroke-width="0.6"/>
<path d="M489.24,419.5 L489.86,419.29 L490.49,419.03 L491.11,418.73 L491.73,418.39 L492.35,418.02 L492.98,417.63 L493.6,417.22 L494.22,416.79 L494.85,416.36 L495.47,415.94 L496.09,415.52 L496.72,415.11 L497.34,414.69 L497.96,414.24 L498.58,413.76 L499.21,413.27 L499.83,412.79 L500.45,412.31 L501.08,411.85 L501.7,411.43 L502.32,411.04 L502.95,410.71 L503.57,410.44 L504.19,410.22 L504.81,410.04 L505.44,409.9 L506.06,409.8 L506.68,409.74 L507.31,409.71 L507.93,409.71 L508.55,409.74 L509.18,409.79 L509.8,409.87 L510.42,409.97 L511.04,410.1 L511.67,410.24 L512.29,410.4 L512.91,410.57 L513.54,410.76 L514.16,410.97 L514.78,411.19 L515.41,411.45 L516.03,411.74 L516.65,412.04 L517.27,412.35 L517.9,412.67 L518.52,412.99 L519.14,413.3 L519.77,413.59 L520.39,413.85 L521.01,414.11 L521.64,414.39 L522.26,414.66 L522.88,414.93 L523.5,415.19 L524.13,415.43 L524.75,415.64 L525.37,415.8 L526,415.92 L526.62,415.99 L527.24,415.99 L527.87,415.95 L528.49,415.87 L529.11,415.75 L529.74,415.6 L530.36,415.42 L530.98,415.21 L531.6,414.98 L532.23,414.74 L532.85,414.48 L533.47,414.19 L534.1,413.85 L534.72,413.47 L535.34,413.07 L535.96,412.65 L536.59,412.23 L537.21,411.81 L537.83,411.42 L538.46,411.05 L539.08,410.71 L539.7,410.4 L540.33,410.08 L540.95,409.76 L541.57,409.44 L542.19,409.15 L542.82,408.89 L543.44,408.67 L544.06,408.5 L544.69,408.38 L545.31,408.33 L545.93,408.36 L546.56,408.45 L547.18,408.6 L547.8,408.81 L548.42,409.05 L549.05,409.31 L549.67,409.6 L550.29,409.89 L550.92,410.19 L551.54,410.46 L552.16,410.74 L552.79,411.03 L553.41,411.34 L554.03,411.66 L554.65,411.98 L555.28,412.31 L555.9,412.64 L556.52,412.97 L557.15,413.3 L557.77,413.62 L558.39,413.93 L559.02,414.23 L559.64,414.52 L560.26,414.83 L560.88,415.13 L561.51,415.43 L562.13,415.73 L562.75,416.02 L563.38,416.3 L564,416.57 L564.62,416.83 L565.25,417.07 L565.87,417.29 L566.49,417.49 L567.12,417.68 L567.74,417.85 L568.36,418.02 L568.98,418.18 L569.61,418.34 L570.23,418.48 L570.85,418.62 L571.48,418.75 L572.1,418.87 L572.72,418.98 L573.35,419.09 L573.97,419.19 L574.59,419.28 L575.21,419.36 L575.84,419.43 L576.46,419.5 L576.46,419.5 L489.24,419.5 Z" fill="url(#hatch)" stroke="#000" stroke-width="0.6"/>
<path d="M439.4,419.5 L440.02,419.5 L440.65,419.5 L441.27,419.5 L441.89,419.5 L442.51,419.5 L443.14,419.5 L443.76,419.5 L444.38,419.5 L445.01,419.5 L445.63,419.5 L446.25,419.5 L446.88,419.5 L447.5,419.5 L448.12,419.5 L448.75,419.5 L449.37,419.5 L449.99,419.5 L450.61,419.5 L451.24,419.5 L451.86,419.5 L452.48,419.5 L453.11,419.5 L453.73,419.5 L454.35,419.5 L454.97,419.5 L455.6,419.5 L456.22,419.5 L456.84,419.5 L457.47,419.5 L458.09,419.5 L458.71,419.5 L459.34,419.5 L459.96,419.5 L460.58,419.5 L461.2,419.5 L461.83,419.5 L462.45,419.5 L463.07,419.5 L463.7,419.5 L464.32,419.5 L464.94,419.5 L465.57,419.5 L466.19,419.5 L466.81,419.5 L467.44,419.5 L468.06,419.5 L468.68,419.5 L469.3,419.5 L469.93,419.5 L470.55,419.5 L471.17,419.5 L471.8,419.5 L472.42,419.5 L473.04,419.5 L473.66,419.5 L474.29,419.5 L474.91,419.5 L475.53,419.5 L476.16,419.5 L476.78,419.5 L477.4,419.5 L478.03,419.5 L478.65,419.5 L479.27,419.49 L479.89,419.49 L480.52,419.48 L481.14,419.46 L481.76,419.43 L482.39,419.38 L483.01,419.3 L483.63,419.18 L484.26,418.98 L484.88,418.69 L485.5,418.25 L486.12,417.6 L486.75,416.68 L487.37,415.39 L487.99,413.63 L488.62,411.27 L489.24,408.18 L489.86,404.03 L490.49,398.85 L491.11,392.54 L491.73,385.06 L492.35,376.42 L492.98,366.68 L493.6,356.02 L494.22,344.7 L494.85,333.05 L495.47,321.49 L496.09,310.5 L496.72,300.56 L497.34,292.14 L497.96,285.64 L498.58,281.39 L499.21,279.62 L499.83,280.41 L500.45,283.71 L501.08,289.31 L501.7,296.88 L502.32,306.02 L502.95,316.27 L503.57,327.12 L504.19,338.12 L504.81,348.84 L505.44,358.95 L506.06,368.2 L506.68,376.41 L507.31,383.52 L507.93,389.53 L508.55,394.48 L509.18,398.48 L509.8,401.64 L510.42,404.1 L511.04,405.99 L511.67,407.42 L512.29,408.5 L512.91,409.32 L513.54,409.95 L514.16,410.45 L514.78,410.87 L515.41,411.25 L516.03,411.62 L516.65,411.97 L517.27,412.31 L517.9,412.65 L518.52,412.98 L519.14,413.29 L519.77,413.58 L520.39,413.85 L521.01,414.11 L521.64,414.38 L522.26,414.65 L522.88,414.92 L523.5,415.18 L524.13,415.41 L524.75,415.61 L525.37,415.77 L526,415.87 L526.62,415.92 L527.24,415.9 L527.87,415.84 L528.49,415.72 L529.11,415.56 L529.74,415.36 L530.36,415.11 L530.98,414.82 L531.6,414.49 L532.23,414.12 L532.85,413.71 L533.47,413.24 L534.1,412.69 L534.72,412.06 L535.34,411.35 L535.96,410.58 L536.59,409.75 L537.21,408.86 L537.83,407.92 L538.46,406.94 L539.08,405.91 L539.7,404.81 L540.33,403.62 L540.95,402.33 L541.57,400.96 L542.19,399.52 L542.82,398.02 L543.44,396.46 L544.06,394.88 L544.69,393.28 L545.31,391.68 L545.93,390.1 L546.56,388.56 L547.18,387.06 L547.8,385.61 L548.42,384.22 L549.05,382.89 L549.67,382 L550.29,380.52 L550.92,380.09 L551.54,378.78 L552.16,378.4 L552.79,377.9 L553.41,377.08 L554.03,377.13 L554.65,376.85 L555.28,376.43 L555.9,377.93 L556.52,377.68 L557.15,379.26 L557.77,379.3 L558.39,380.59 L559.02,382.74 L559.64,383.28 L560.26,385.11 L560.88,387.82 L561.51,389.15 L562.13,390.6 L562.75,392.18 L563.38,395.25 L564,396.68 L564.62,398.58 L565.25,400.42 L565.87,402.19 L566.49,403.87 L567.12,405.47 L567.74,406.98 L568.36,408.39 L568.98,409.7 L569.61,410.91 L570.23,412.02 L570.85,413.03 L571.48,413.94 L572.1,414.76 L572.72,415.49 L573.35,416.14 L573.97,416.71 L574.59,417.21 L575.21,417.64 L575.84,418.02 L576.46,418.34 L577.08,418.55 L577.71,418.73 L578.33,418.88 L578.95,419 L579.58,419.11 L580.2,419.19 L580.82,419.25 L581.44,419.31 L582.07,419.35 L582.69,419.38 L583.31,419.41 L583.94,419.43 L584.56,419.45 L585.18,419.46 L585.8,419.47 L586.43,419.48 L587.05,419.48 L587.67,419.49 L588.3,419.49 L588.92,419.49" fill="none" stroke="#000" stroke-width="0.7"/>
<path d="M485.5,418.25 L486.12,417.6 L486.75,416.68 L487.37,415.39 L487.99,413.63 L488.62,411.27 L489.24,408.18 L489.86,404.03 L490.49,398.85 L491.11,392.54 L491.73,385.06 L492.35,376.42 L492.98,366.68 L493.6,356.02 L494.22,344.7 L494.85,333.05 L495.47,321.49 L496.09,310.5 L496.72,300.56 L497.34,292.14 L497.96,285.64 L498.58,281.39 L499.21,279.62 L499.83,280.41 L500.45,283.71 L501.08,289.31 L501.7,296.88 L502.32,306.02 L502.95,316.27 L503.57,327.12 L504.19,338.12 L504.81,348.84 L505.44,358.95 L506.06,368.2 L506.68,376.41 L507.31,383.52 L507.93,389.53 L508.55,394.48 L509.18,398.48 L509.8,401.64 L510.42,404.1 L511.04,405.99 L511.67,407.42 L512.29,408.5 L512.91,409.32 L513.54,409.95 L514.16,410.45 L514.78,410.87 L515.41,411.25 L516.03,411.62 L516.65,411.97 L517.27,412.31 L517.9,412.65 L518.52,412.98 L519.14,413.29 L519.77,413.58 L520.39,413.85 L521.01,414.11 L521.64,414.38 L522.26,414.65 L522.88,414.92 L523.5,415.18 L524.13,415.41 L524.75,415.61 L525.37,415.77 L526,415.87 L526.62,415.92 L527.24,415.9 L527.87,415.84 L528.49,415.72 L529.11,415.56 L529.74,415.36 L530.36,415.11 L530.98,414.82 L531.6,414.49 L532.23,414.12 L532.85,413.71 L533.47,413.24 L534.1,412.69 L534.72,412.06 L535.34,411.35 L535.96,410.58 L536.59,409.75 L537.21,408.86 L537.83,407.92 L538.46,406.94 L539.08,405.91 L539.7,404.81 L540.33,403.62 L540.95,402.33 L541.57,400.96 L542.19,399.52 L542.82,398.02 L543.44,396.46 L544.06,394.88 L544.69,393.28 L545.31,391.68 L545.93,390.1 L546.56,388.56 L547.18,387.06 L547.8,385.61 L548.42,384.22 L549.05,382.89 L549.67,381.65 L550.29,380.51 L550.92,379.46 L551.54,378.54 L552.16,377.76 L552.79,377.16 L553.41,376.76 L554.03,376.56 L554.65,376.57 L555.28,376.79 L555.9,377.23 L556.52,377.87 L557.15,378.71 L557.77,379.74 L558.39,380.95 L559.02,382.3 L559.64,383.8 L560.26,385.44 L560.88,387.18 L561.51,389.01 L562.13,390.9 L562.75,392.82 L563.38,394.76 L564,396.68 L564.62,398.58 L565.25,400.42 L565.87,402.19 L566.49,403.87 L567.12,405.47 L567.74,406.98 L568.36,408.39 L568.98,409.7 L569.61,410.91 L570.23,412.02 L570.85,413.03 L571.48,413.94 L572.1,414.76 L572.72,415.49 L573.35,416.14 L573.97,416.71 L574.59,417.21 L575.21,417.64 L575.84,418.02 L576.46,418.34 L577.08,418.55 L577.71,418.73 L578.33,418.88 L578.95,419 L579.58,419.11 L580.2,419.19" fill="none" stroke="#666" stroke-width="0.55" transform="translate(0.3,-0.9)"/>
</g>
<text x="439.4" y="432.7" class="tl" text-anchor="middle">0</text>
<text x="464.32" y="432.7" class="tl" text-anchor="middle">20</text>
<text x="489.24" y="432.7" class="tl" text-anchor="middle">40</text>
<text x="514.16" y="432.7" class="tl" text-anchor="middle">60</text>
<text x="539.08" y="432.7" class="tl" text-anchor="middle">80</text>
<text x="564" y="432.7" class="tl" text-anchor="middle">100</text>
<text x="588.92" y="432.7" class="tl" text-anchor="middle">120</text>
<text class="tl" text-anchor="middle" transform="translate(430.9,419.5) rotate(-90)">0</text>
<text class="tl" text-anchor="middle" transform="translate(430.9,394.4) rotate(-90)">200</text>
<text class="tl" text-anchor="middle" transform="translate(430.9,369.3) rotate(-90)">400</text>
<text class="tl" text-anchor="middle" transform="translate(430.9,344.2) rotate(-90)">600</text>
<text class="tl" text-anchor="middle" transform="translate(430.9,319.1) rotate(-90)">800</text>
<text class="tl" text-anchor="middle" transform="translate(430.9,294) rotate(-90)">1000</text>
<text class="tl" text-anchor="middle" transform="translate(430.9,268.9) rotate(-90)">1200</text>
<text class="nl" text-anchor="middle" transform="translate(423.2,343.7) rotate(-90)">Number</text>
<text class="nl" x="514.16" y="439.8" text-anchor="middle">PI-A</text>
<path d="M499.21,420.2 l2.8,4.4 h-5.6z" fill="#000"/>
<path d="M554.03,420.2 l2.8,4.4 h-5.6z" fill="#000"/>
<rect x="559.4" y="264.7" width="5.2" height="4.3" fill="#ec1018"/>
<rect x="559.4" y="270.8" width="5.2" height="4.3" fill="#ec1018"/>
<rect x="559.5" y="277" width="5" height="4" fill="url(#hatch2)" stroke="#888" stroke-width="0.4"/>
<text class="lg" x="566.7" y="268.6">G0G1</text>
<text class="lg" x="566.7" y="274.8">G2M</text>
<text class="lg" x="566.7" y="281">S-Phase</text>
<text class="blk" x="476.24" y="256.45" textLength="66.05" lengthAdjust="spacingAndGlyphs" style="font-size:15.35px;font-weight:bold" stroke="currentColor" stroke-width="0.4" stroke-linejoin="round">VC+BLM</text><g transform="translate(0.55,0)"><text class="blk" x="476.24" y="256.45" textLength="66.05" lengthAdjust="spacingAndGlyphs" style="font-size:15.35px;font-weight:bold" stroke="currentColor" stroke-width="0.4" stroke-linejoin="round">VC+BLM</text></g>
<clipPath id="c7"><rect x="625.4" y="258.1" width="146.64" height="159.3"/></clipPath>
<path d="M625.4,270.1V417.1H772.04" fill="none" stroke="#777" stroke-width="0.7"/>
<path d="M619.4,417.1H625.4M622.4,410.98H625.4M622.4,404.85H625.4M622.4,398.73H625.4M619.4,392.6H625.4M622.4,386.48H625.4M622.4,380.35H625.4M622.4,374.23H625.4M619.4,368.1H625.4M622.4,361.98H625.4M622.4,355.85H625.4M622.4,349.73H625.4M619.4,343.6H625.4M622.4,337.48H625.4M622.4,331.35H625.4M622.4,325.23H625.4M619.4,319.1H625.4M622.4,312.98H625.4M622.4,306.85H625.4M622.4,300.73H625.4M619.4,294.6H625.4M622.4,288.48H625.4M622.4,282.35H625.4M622.4,276.23H625.4M619.4,270.1H625.4M625.4,417.1V423.6M631.51,417.1V420.6M637.62,417.1V420.6M643.73,417.1V420.6M649.84,417.1V423.6M655.95,417.1V420.6M662.06,417.1V420.6M668.17,417.1V420.6M674.28,417.1V423.6M680.39,417.1V420.6M686.5,417.1V420.6M692.61,417.1V420.6M698.72,417.1V423.6M704.83,417.1V420.6M710.94,417.1V420.6M717.05,417.1V420.6M723.16,417.1V423.6M729.27,417.1V420.6M735.38,417.1V420.6M741.49,417.1V420.6M747.6,417.1V423.6M753.71,417.1V420.6M759.82,417.1V420.6M765.93,417.1V420.6M772.04,417.1V423.6" stroke="#777" stroke-width="0.6"/>
<g clip-path="url(#c7)">
<path d="M663.89,417.1 L664.2,417.1 L664.5,417.1 L664.81,417.1 L665.12,417.1 L665.42,417.1 L665.73,417.1 L666.03,417.09 L666.34,417.09 L666.64,417.09 L666.95,417.09 L667.25,417.08 L667.56,417.08 L667.86,417.07 L668.17,417.06 L668.48,417.05 L668.78,417.03 L669.09,417.01 L669.39,416.98 L669.7,416.94 L670,416.9 L670.31,416.84 L670.61,416.77 L670.92,416.68 L671.23,416.57 L671.53,416.43 L671.84,416.26 L672.14,416.06 L672.45,415.81 L672.75,415.51 L673.06,415.15 L673.36,414.72 L673.67,414.2 L673.97,413.59 L674.28,412.88 L674.59,412.04 L674.89,411.07 L675.2,409.94 L675.5,408.64 L675.81,407.16 L676.11,405.47 L676.42,403.57 L676.72,401.42 L677.03,399.03 L677.34,396.36 L677.64,393.42 L677.95,390.19 L678.25,386.67 L678.56,382.86 L678.86,378.75 L679.17,374.35 L679.47,369.68 L679.78,364.76 L680.08,359.6 L680.39,354.23 L680.7,348.69 L681,343.03 L681.31,337.28 L681.61,331.5 L681.92,325.74 L682.22,320.06 L682.53,314.53 L682.83,309.2 L683.14,304.14 L683.44,299.42 L683.75,295.08 L684.06,291.2 L684.36,287.81 L684.67,284.97 L684.97,282.73 L685.28,281.1 L685.58,280.11 L685.89,279.78 L686.19,280.11 L686.5,281.1 L686.81,282.73 L687.11,284.97 L687.42,287.81 L687.72,291.2 L688.03,295.08 L688.33,299.42 L688.64,304.14 L688.94,309.2 L689.25,314.53 L689.55,320.06 L689.86,325.74 L690.17,331.5 L690.47,337.28 L690.78,343.03 L691.08,348.69 L691.39,354.23 L691.69,359.6 L692,364.76 L692.3,369.68 L692.61,374.35 L692.92,378.75 L693.22,382.86 L693.53,386.67 L693.83,390.19 L694.14,393.42 L694.44,396.36 L694.75,399.03 L695.05,401.42 L695.36,403.57 L695.66,405.47 L695.97,407.16 L696.28,408.64 L696.58,409.94 L696.89,411.07 L697.19,412.04 L697.5,412.88 L697.8,413.59 L698.11,414.2 L698.41,414.72 L698.72,415.15 L699.03,415.51 L699.33,415.81 L699.64,416.06 L699.94,416.26 L700.25,416.43 L700.55,416.57 L700.86,416.68 L701.16,416.77 L701.47,416.84 L701.77,416.9 L702.08,416.94 L702.39,416.98 L702.69,417.01 L703,417.03 L703.3,417.05 L703.61,417.06 L703.91,417.07 L704.22,417.08 L704.52,417.08 L704.83,417.09 L705.14,417.09 L705.44,417.09 L705.75,417.09 L706.05,417.1 L706.36,417.1 L706.66,417.1 L706.97,417.1 L707.27,417.1 L707.58,417.1 L707.88,417.1 L707.88,417.1 L663.89,417.1 Z" fill="#ec1018" stroke="#000" stroke-width="0.6"/>
<path d="M706.66,417.1 L706.97,417.1 L707.27,417.1 L707.58,417.1 L707.88,417.1 L708.19,417.1 L708.5,417.1 L708.8,417.1 L709.11,417.1 L709.41,417.1 L709.72,417.1 L710.02,417.1 L710.33,417.1 L710.63,417.1 L710.94,417.1 L711.25,417.1 L711.55,417.1 L711.86,417.1 L712.16,417.1 L712.47,417.1 L712.77,417.1 L713.08,417.09 L713.38,417.09 L713.69,417.09 L714,417.09 L714.3,417.09 L714.61,417.09 L714.91,417.08 L715.22,417.08 L715.52,417.08 L715.83,417.07 L716.13,417.07 L716.44,417.07 L716.74,417.06 L717.05,417.05 L717.36,417.04 L717.66,417.03 L717.97,417.02 L718.27,417.01 L718.58,417 L718.88,416.98 L719.19,416.96 L719.49,416.94 L719.8,416.92 L720.11,416.89 L720.41,416.86 L720.72,416.83 L721.02,416.79 L721.33,416.75 L721.63,416.7 L721.94,416.65 L722.24,416.59 L722.55,416.52 L722.85,416.45 L723.16,416.37 L723.47,416.28 L723.77,416.18 L724.08,416.07 L724.38,415.95 L724.69,415.82 L724.99,415.68 L725.3,415.53 L725.6,415.37 L725.91,415.19 L726.21,414.99 L726.52,414.79 L726.83,414.56 L727.13,414.32 L727.44,414.07 L727.74,413.8 L728.05,413.51 L728.35,413.21 L728.66,412.88 L728.96,412.54 L729.27,412.19 L729.58,411.81 L729.88,411.42 L730.19,411.02 L730.49,410.59 L730.8,410.15 L731.1,409.7 L731.41,409.24 L731.71,408.76 L732.02,408.27 L732.32,407.78 L732.63,407.27 L732.94,406.76 L733.24,406.25 L733.55,405.73 L733.85,405.22 L734.16,404.7 L734.46,404.19 L734.77,403.69 L735.07,403.2 L735.38,402.71 L735.69,402.24 L735.99,401.79 L736.3,401.36 L736.6,400.95 L736.91,400.56 L737.21,400.2 L737.52,399.86 L737.82,399.56 L738.13,399.28 L738.43,399.04 L738.74,398.84 L739.05,398.66 L739.35,398.53 L739.66,398.43 L739.96,398.38 L740.27,398.36 L740.57,398.38 L740.88,398.43 L741.18,398.53 L741.49,398.66 L741.8,398.84 L742.1,399.04 L742.41,399.28 L742.71,399.56 L743.02,399.86 L743.32,400.2 L743.63,400.56 L743.93,400.95 L744.24,401.36 L744.54,401.79 L744.85,402.24 L745.16,402.71 L745.46,403.2 L745.77,403.69 L746.07,404.19 L746.38,404.7 L746.68,405.22 L746.99,405.73 L747.29,406.25 L747.6,406.76 L747.91,407.27 L748.21,407.78 L748.52,408.27 L748.82,408.76 L749.13,409.24 L749.43,409.7 L749.74,410.15 L750.04,410.59 L750.35,411.02 L750.65,411.42 L750.96,411.81 L751.27,412.19 L751.57,412.54 L751.88,412.88 L752.18,413.21 L752.49,413.51 L752.79,413.8 L753.1,414.07 L753.4,414.32 L753.71,414.56 L754.02,414.79 L754.32,414.99 L754.63,415.19 L754.93,415.37 L755.24,415.53 L755.54,415.68 L755.85,415.82 L756.15,415.95 L756.46,416.07 L756.76,416.18 L757.07,416.28 L757.38,416.37 L757.68,416.45 L757.99,416.52 L758.29,416.59 L758.6,416.65 L758.9,416.7 L759.21,416.75 L759.51,416.79 L759.82,416.83 L760.13,416.86 L760.43,416.89 L760.74,416.92 L761.04,416.94 L761.35,416.96 L761.65,416.98 L761.96,417 L762.26,417.01 L762.57,417.02 L762.88,417.03 L763.18,417.04 L763.49,417.05 L763.79,417.06 L764.1,417.07 L764.4,417.07 L764.71,417.07 L765.01,417.08 L765.32,417.08 L765.62,417.08 L765.93,417.09 L766.24,417.09 L766.54,417.09 L766.85,417.09 L767.15,417.09 L767.46,417.09 L767.76,417.1 L768.07,417.1 L768.37,417.1 L768.68,417.1 L768.99,417.1 L769.29,417.1 L769.6,417.1 L769.9,417.1 L770.21,417.1 L770.51,417.1 L770.82,417.1 L771.12,417.1 L771.43,417.1 L771.73,417.1 L772.04,417.1 L772.35,417.1 L772.65,417.1 L772.96,417.1 L773.26,417.1 L773.57,417.1 L773.87,417.1 L773.87,417.1 L706.66,417.1 Z" fill="#ec1018" stroke="#000" stroke-width="0.6"/>
<path d="M675.5,417.1 L676.11,416.8 L676.72,416.43 L677.34,416 L677.95,415.51 L678.56,414.98 L679.17,414.42 L679.78,413.84 L680.39,413.24 L681,412.65 L681.61,412.07 L682.22,411.5 L682.83,410.98 L683.44,410.46 L684.06,409.92 L684.67,409.37 L685.28,408.82 L685.89,408.27 L686.5,407.73 L687.11,407.19 L687.72,406.67 L688.33,406.17 L688.94,405.7 L689.55,405.26 L690.17,404.85 L690.78,404.49 L691.39,404.17 L692,403.89 L692.61,403.67 L693.22,403.49 L693.83,403.36 L694.44,403.28 L695.05,403.26 L695.66,403.29 L696.28,403.36 L696.89,403.49 L697.5,403.64 L698.11,403.82 L698.72,404.02 L699.33,404.24 L699.94,404.45 L700.55,404.66 L701.16,404.85 L701.77,405.05 L702.39,405.27 L703,405.51 L703.61,405.77 L704.22,406.02 L704.83,406.27 L705.44,406.51 L706.05,406.74 L706.66,406.93 L707.27,407.1 L707.88,407.22 L708.5,407.3 L709.11,407.34 L709.72,407.34 L710.33,407.32 L710.94,407.28 L711.55,407.21 L712.16,407.11 L712.77,406.99 L713.38,406.85 L714,406.68 L714.61,406.5 L715.22,406.3 L715.83,406.08 L716.44,405.83 L717.05,405.54 L717.66,405.23 L718.27,404.89 L718.88,404.52 L719.49,404.15 L720.11,403.76 L720.72,403.36 L721.33,402.96 L721.94,402.56 L722.55,402.17 L723.16,401.79 L723.77,401.39 L724.38,400.97 L724.99,400.52 L725.6,400.05 L726.21,399.59 L726.83,399.13 L727.44,398.69 L728.05,398.28 L728.66,397.91 L729.27,397.59 L729.88,397.32 L730.49,397.13 L731.1,397.04 L731.71,397.06 L732.32,397.18 L732.94,397.38 L733.55,397.65 L734.16,397.97 L734.77,398.34 L735.38,398.73 L735.99,399.14 L736.6,399.61 L737.21,400.11 L737.82,400.65 L738.43,401.21 L739.05,401.79 L739.66,402.4 L740.27,403.01 L740.88,403.62 L741.49,404.24 L742.1,404.87 L742.71,405.55 L743.32,406.25 L743.93,406.96 L744.54,407.68 L745.16,408.4 L745.77,409.1 L746.38,409.76 L746.99,410.39 L747.6,410.98 L748.21,411.51 L748.82,412.03 L749.43,412.52 L750.04,412.98 L750.65,413.43 L751.27,413.84 L751.88,414.23 L752.49,414.6 L753.1,414.94 L753.71,415.26 L754.32,415.55 L754.93,415.82 L755.54,416.05 L756.15,416.26 L756.76,416.45 L757.38,416.61 L757.99,416.76 L758.6,416.89 L759.21,417 L759.82,417.1 L759.82,417.1 L675.5,417.1 Z" fill="url(#hatch)" stroke="#000" stroke-width="0.6"/>
<path d="M625.4,417.1 L626.01,417.1 L626.62,417.1 L627.23,417.1 L627.84,417.1 L628.45,417.1 L629.07,417.1 L629.68,417.1 L630.29,417.1 L630.9,417.1 L631.51,417.1 L632.12,417.1 L632.73,417.1 L633.34,417.1 L633.95,417.1 L634.56,417.1 L635.18,417.1 L635.79,417.1 L636.4,417.1 L637.01,417.1 L637.62,417.1 L638.23,417.1 L638.84,417.1 L639.45,417.1 L640.06,417.1 L640.67,417.1 L641.29,417.1 L641.9,417.1 L642.51,417.1 L643.12,417.1 L643.73,417.1 L644.34,417.1 L644.95,417.1 L645.56,417.1 L646.17,417.1 L646.78,417.1 L647.4,417.1 L648.01,417.1 L648.62,417.1 L649.23,417.1 L649.84,417.1 L650.45,417.1 L651.06,417.1 L651.67,417.1 L652.28,417.1 L652.89,417.1 L653.51,417.1 L654.12,417.1 L654.73,417.1 L655.34,417.1 L655.95,417.1 L656.56,417.1 L657.17,417.1 L657.78,417.1 L658.39,417.1 L659,417.1 L659.62,417.1 L660.23,417.1 L660.84,417.1 L661.45,417.1 L662.06,417.1 L662.67,417.1 L663.28,417.1 L663.89,417.1 L664.5,417.1 L665.12,417.1 L665.73,417.1 L666.34,417.09 L666.95,417.09 L667.56,417.08 L668.17,417.06 L668.78,417.03 L669.39,416.98 L670,416.9 L670.61,416.77 L671.23,416.57 L671.84,416.26 L672.45,415.81 L673.06,415.15 L673.67,414.2 L674.28,412.88 L674.89,411.07 L675.5,408.64 L676.11,405.18 L676.72,400.76 L677.34,395.26 L677.95,388.61 L678.56,380.74 L679.17,371.67 L679.78,361.49 L680.39,350.37 L681,338.58 L681.61,326.46 L682.22,314.47 L682.83,303.07 L683.44,292.77 L684.06,284.01 L684.67,277.25 L685.28,272.82 L685.89,270.95 L686.5,271.72 L687.11,275.06 L687.72,280.77 L688.33,288.49 L688.94,297.8 L689.55,308.22 L690.17,319.25 L690.78,330.41 L691.39,341.3 L692,351.55 L692.61,360.92 L693.22,369.25 L693.83,376.46 L694.44,382.55 L695.05,387.58 L695.66,391.66 L696.28,394.91 L696.89,397.45 L697.5,399.42 L698.11,400.93 L698.72,402.07 L699.33,402.95 L699.94,403.61 L700.55,404.13 L701.16,404.52 L701.77,404.85 L702.39,405.15 L703,405.44 L703.61,405.73 L704.22,406 L704.83,406.26 L705.44,405.34 L706.05,407.83 L706.66,406.38 L707.27,407.14 L707.88,406.14 L708.5,407.53 L709.11,406.31 L709.72,408.18 L710.33,406.11 L710.94,407.49 L711.55,407.98 L712.16,407.48 L712.77,406.66 L713.38,407.98 L714,406.95 L714.61,407.68 L715.22,407.33 L715.83,406.86 L716.44,406.45 L717.05,406.05 L717.66,404.48 L718.27,405 L718.88,403.53 L719.49,403.01 L720.11,402.58 L720.72,401.98 L721.33,402.41 L721.94,401.67 L722.55,400.63 L723.16,400.92 L723.77,401.31 L724.38,399.71 L724.99,398.95 L725.6,399 L726.21,398.33 L726.83,397.17 L727.44,394.92 L728.05,393.59 L728.66,392.89 L729.27,392.32 L729.88,392.15 L730.49,391.04 L731.1,388.31 L731.71,387.53 L732.32,386.66 L732.94,386.36 L733.55,385.54 L734.16,384.51 L734.77,383.82 L735.38,381.93 L735.99,382.03 L736.6,380.95 L737.21,380.95 L737.82,380.54 L738.43,380.12 L739.05,380.3 L739.66,382.3 L740.27,380.98 L740.88,382.08 L741.49,383.17 L742.1,385.26 L742.71,385.41 L743.32,387.28 L743.93,390.33 L744.54,390.97 L745.16,392.36 L745.77,394.41 L746.38,395.86 L746.99,398.53 L747.6,400.31 L748.21,401.94 L748.82,403.5 L749.43,404.98 L750.04,406.37 L750.65,407.67 L751.27,408.87 L751.88,409.98 L752.49,410.98 L753.1,411.9 L753.71,412.71 L754.32,413.44 L754.93,414.08 L755.54,414.63 L756.15,415.11 L756.76,415.53 L757.38,415.88 L757.99,416.18 L758.6,416.43 L759.21,416.65 L759.82,416.83 L760.43,416.89 L761.04,416.94 L761.65,416.98 L762.26,417.01 L762.88,417.03 L763.49,417.05 L764.1,417.07 L764.71,417.07 L765.32,417.08 L765.93,417.09 L766.54,417.09 L767.15,417.09 L767.76,417.1 L768.37,417.1 L768.99,417.1 L769.6,417.1 L770.21,417.1 L770.82,417.1 L771.43,417.1 L772.04,417.1" fill="none" stroke="#000" stroke-width="0.7"/>
<path d="M671.84,416.26 L672.45,415.81 L673.06,415.15 L673.67,414.2 L674.28,412.88 L674.89,411.07 L675.5,408.64 L676.11,405.18 L676.72,400.76 L677.34,395.26 L677.95,388.61 L678.56,380.74 L679.17,371.67 L679.78,361.49 L680.39,350.37 L681,338.58 L681.61,326.46 L682.22,314.47 L682.83,303.07 L683.44,292.77 L684.06,284.01 L684.67,277.25 L685.28,272.82 L685.89,270.95 L686.5,271.72 L687.11,275.06 L687.72,280.77 L688.33,288.49 L688.94,297.8 L689.55,308.22 L690.17,319.25 L690.78,330.41 L691.39,341.3 L692,351.55 L692.61,360.92 L693.22,369.25 L693.83,376.46 L694.44,382.55 L695.05,387.58 L695.66,391.66 L696.28,394.91 L696.89,397.45 L697.5,399.42 L698.11,400.93 L698.72,402.07 L699.33,402.95 L699.94,403.61 L700.55,404.13 L701.16,404.52 L701.77,404.85 L702.39,405.15 L703,405.44 L703.61,405.73 L704.22,406 L704.83,406.26 L705.44,406.51 L706.05,406.73 L706.66,406.93 L707.27,407.1 L707.88,407.22 L708.5,407.3 L709.11,407.34 L709.72,407.34 L710.33,407.32 L710.94,407.28 L711.55,407.2 L712.16,407.11 L712.77,406.98 L713.38,406.84 L714,406.67 L714.61,406.49 L715.22,406.28 L715.83,406.05 L716.44,405.79 L717.05,405.49 L717.66,405.16 L718.27,404.8 L718.88,404.4 L719.49,403.99 L720.11,403.54 L720.72,403.08 L721.33,402.6 L721.94,402.09 L722.55,401.57 L723.16,401.03 L723.77,400.43 L724.38,399.76 L724.99,399.02 L725.6,398.21 L726.21,397.34 L726.83,396.4 L727.44,395.41 L728.05,394.36 L728.66,393.27 L729.27,392.14 L729.88,390.99 L730.49,389.83 L731.1,388.69 L731.71,387.6 L732.32,386.56 L732.94,385.56 L733.55,384.61 L734.16,383.73 L734.77,382.91 L735.38,382.18 L735.99,381.55 L736.6,381.08 L737.21,380.78 L737.82,380.65 L738.43,380.72 L739.05,380.98 L739.66,381.45 L740.27,382.1 L740.88,382.94 L741.49,383.95 L742.1,385.14 L742.71,386.52 L743.32,388.04 L743.93,389.69 L744.54,391.42 L745.16,393.22 L745.77,395.03 L746.38,396.84 L746.99,398.6 L747.6,400.31 L748.21,401.94 L748.82,403.5 L749.43,404.98 L750.04,406.37 L750.65,407.67 L751.27,408.87 L751.88,409.98 L752.49,410.98 L753.1,411.9 L753.71,412.71 L754.32,413.44 L754.93,414.08 L755.54,414.63 L756.15,415.11 L756.76,415.53 L757.38,415.88 L757.99,416.18 L758.6,416.43 L759.21,416.65 L759.82,416.83 L760.43,416.89 L761.04,416.94 L761.65,416.98 L762.26,417.01 L762.88,417.03 L763.49,417.05" fill="none" stroke="#666" stroke-width="0.55" transform="translate(0.3,-0.9)"/>
</g>
<text x="625.4" y="430.3" class="tl" text-anchor="middle">0</text>
<text x="649.84" y="430.3" class="tl" text-anchor="middle">20</text>
<text x="674.28" y="430.3" class="tl" text-anchor="middle">40</text>
<text x="698.72" y="430.3" class="tl" text-anchor="middle">60</text>
<text x="723.16" y="430.3" class="tl" text-anchor="middle">80</text>
<text x="747.6" y="430.3" class="tl" text-anchor="middle">100</text>
<text x="772.04" y="430.3" class="tl" text-anchor="middle">120</text>
<text class="tl" text-anchor="middle" transform="translate(616.9,417.1) rotate(-90)">0</text>
<text class="tl" text-anchor="middle" transform="translate(616.9,392.6) rotate(-90)">200</text>
<text class="tl" text-anchor="middle" transform="translate(616.9,368.1) rotate(-90)">400</text>
<text class="tl" text-anchor="middle" transform="translate(616.9,343.6) rotate(-90)">600</text>
<text class="tl" text-anchor="middle" transform="translate(616.9,319.1) rotate(-90)">800</text>
<text class="tl" text-anchor="middle" transform="translate(616.9,294.6) rotate(-90)">1000</text>
<text class="tl" text-anchor="middle" transform="translate(616.9,270.1) rotate(-90)">1200</text>
<text class="nl" text-anchor="middle" transform="translate(609.2,343.1) rotate(-90)">Number</text>
<text class="nl" x="698.72" y="437.4" text-anchor="middle">PI-A</text>
<path d="M686.74,417.8 l2.8,4.4 h-5.6z" fill="#000"/>
<path d="M740.27,417.8 l2.8,4.4 h-5.6z" fill="#000"/>
<rect x="743.2" y="265.6" width="5.2" height="4.3" fill="#ec1018"/>
<rect x="743.2" y="271.7" width="5.2" height="4.3" fill="#ec1018"/>
<rect x="743.3" y="277.9" width="5" height="4" fill="url(#hatch2)" stroke="#888" stroke-width="0.4"/>
<text class="lg" x="750.5" y="269.5">G0G1</text>
<text class="lg" x="750.5" y="275.7">G2M</text>
<text class="lg" x="750.5" y="281.9">S-Phase</text>
<text class="blk" x="642.45" y="256.25" textLength="90.96" lengthAdjust="spacingAndGlyphs" style="font-size:14.93px;font-weight:bold" stroke="currentColor" stroke-width="0.4" stroke-linejoin="round">OGG1+BLM</text><g transform="translate(0.55,0)"><text class="blk" x="642.45" y="256.25" textLength="90.96" lengthAdjust="spacingAndGlyphs" style="font-size:14.93px;font-weight:bold" stroke="currentColor" stroke-width="0.4" stroke-linejoin="round">OGG1+BLM</text></g>
<path d="M94.6,496.7V493.5 M91.5,493.5H97.7" stroke="#000" stroke-width="2.2" stroke-linecap="round"/>
<rect x="89.6" y="497.8" width="10" height="157.3" fill="url(#p1)" stroke="#000" stroke-width="2.2"/>
<path d="M110.4,492.6V489.3 M107.3,489.3H113.5" stroke="#000" stroke-width="2.2" stroke-linecap="round"/>
<rect x="105.1" y="493.7" width="10.6" height="161.4" fill="url(#p2)" stroke="#000" stroke-width="2.2"/>
<path d="M126.1,564.3V559.2 M123,559.2H129.2" stroke="#000" stroke-width="2.2" stroke-linecap="round"/>
<rect x="121.1" y="565.4" width="10" height="89.7" fill="url(#p3)" stroke="#000" stroke-width="2.2"/>
<path d="M142.45,554V549.5 M139.35,549.5H145.55" stroke="#000" stroke-width="2.2" stroke-linecap="round"/>
<rect x="137.4" y="555.1" width="10.1" height="100" fill="url(#p4)" stroke="#000" stroke-width="2.2"/>
<path d="M126.4,655.1V661.4" stroke="#000" stroke-width="2.2"/>
<path d="M184.7,604.9V598.3 M181.6,598.3H187.8" stroke="#000" stroke-width="2.2" stroke-linecap="round"/>
<rect x="179.9" y="606" width="9.6" height="49.1" fill="url(#p1)" stroke="#000" stroke-width="2.2"/>
<path d="M200.55,609.2V602.3 M197.45,602.3H203.65" stroke="#000" stroke-width="2.2" stroke-linecap="round"/>
<rect x="195.6" y="610.3" width="9.9" height="44.8" fill="url(#p2)" stroke="#000" stroke-width="2.2"/>
<path d="M217,621.8V614.9 M213.9,614.9H220.1" stroke="#000" stroke-width="2.2" stroke-linecap="round"/>
<rect x="212.1" y="622.9" width="9.8" height="32.2" fill="url(#p3)" stroke="#000" stroke-width="2.2"/>
<rect x="227.1" y="645.1" width="10.7" height="10" fill="url(#p4)" stroke="#000" stroke-width="2.2"/>
<path d="M216.5,655.1V661.4" stroke="#000" stroke-width="2.2"/>
<path d="M275,637.8V635.6 M271.9,635.6H278.1" stroke="#000" stroke-width="2.2" stroke-linecap="round"/>
<rect x="270.1" y="638.9" width="9.8" height="16.2" fill="url(#p1)" stroke="#000" stroke-width="2.2"/>
<path d="M291,634.3V631.8 M287.9,631.8H294.1" stroke="#000" stroke-width="2.2" stroke-linecap="round"/>
<rect x="286.1" y="635.4" width="9.8" height="19.7" fill="url(#p2)" stroke="#000" stroke-width="2.2"/>
<rect x="301.4" y="549.5" width="10.2" height="105.6" fill="url(#p3)" stroke="#000" stroke-width="2.2"/>
<path d="M322.55,538.3V534.8 M319.45,534.8H325.65" stroke="#000" stroke-width="2.2" stroke-linecap="round"/>
<rect x="317.2" y="539.4" width="10.7" height="115.7" fill="url(#p4)" stroke="#000" stroke-width="2.2"/>
<path d="M306.5,655.1V661.4" stroke="#000" stroke-width="2.2"/>
<path d="M81.1,472.5V655.1H354.5" fill="none" stroke="#000" stroke-width="2.3"/>
<path d="M74.6,655.1H81.1" stroke="#000" stroke-width="2.2"/>
<text class="blk" x="64.62" y="659.82" textLength="8.69" lengthAdjust="spacingAndGlyphs" style="font-size:12.54px;font-weight:bold" stroke="currentColor" stroke-width="1.1" stroke-linejoin="round">0</text>
<path d="M74.6,609.7H81.1" stroke="#000" stroke-width="2.2"/>
<text class="blk" x="55.06" y="614.42" textLength="18.22" lengthAdjust="spacingAndGlyphs" style="font-size:12.54px;font-weight:bold" stroke="currentColor" stroke-width="1.1" stroke-linejoin="round">20</text>
<path d="M74.6,564.3H81.1" stroke="#000" stroke-width="2.2"/>
<text class="blk" x="55.23" y="569.02" textLength="18.05" lengthAdjust="spacingAndGlyphs" style="font-size:12.54px;font-weight:bold" stroke="currentColor" stroke-width="1.1" stroke-linejoin="round">40</text>
<path d="M74.6,518.9H81.1" stroke="#000" stroke-width="2.2"/>
<text class="blk" x="54.89" y="523.62" textLength="18.39" lengthAdjust="spacingAndGlyphs" style="font-size:12.54px;font-weight:bold" stroke="currentColor" stroke-width="1.1" stroke-linejoin="round">60</text>
<path d="M74.6,473.5H81.1" stroke="#000" stroke-width="2.2"/>
<text class="blk" x="55.06" y="478.22" textLength="18.22" lengthAdjust="spacingAndGlyphs" style="font-size:12.54px;font-weight:bold" stroke="currentColor" stroke-width="1.1" stroke-linejoin="round">80</text>
<text class="blk" text-anchor="end" transform="translate(130,676.7) rotate(-45)" style="font-size:15.2px;font-weight:bold" stroke="currentColor" stroke-width="0.55" stroke-linejoin="round">G1</text>
<text class="blk" text-anchor="end" transform="translate(220.1,676.7) rotate(-45)" style="font-size:14px;font-weight:bold" stroke="currentColor" stroke-width="0.55" stroke-linejoin="round">S</text>
<text class="blk" text-anchor="end" transform="translate(310.1,676.7) rotate(-45)" style="font-size:15.2px;font-weight:bold" stroke="currentColor" stroke-width="0.55" stroke-linejoin="round">G2</text>
<g transform="rotate(-90)"><text class="blk" x="-643.85" y="43.65" textLength="162.87" lengthAdjust="spacingAndGlyphs" style="font-size:14.3px;font-weight:bold" stroke="currentColor" stroke-width="0.9" stroke-linejoin="round">Cell percentage (%)</text></g>
<rect x="173.05" y="475.35" width="16.1" height="11.1" fill="url(#l1)" stroke="#000" stroke-width="2.3"/>
<text class="blk" x="198.2" y="485.5" textLength="20.1" lengthAdjust="spacingAndGlyphs" style="font-size:12.04px;font-weight:bold" stroke="currentColor" stroke-width="0.35" stroke-linejoin="round">NC</text>
<rect x="173.05" y="494.95" width="16.1" height="10.7" fill="url(#l2)" stroke="#000" stroke-width="2.3"/>
<text class="blk" x="198.63" y="504.6" textLength="50.51" lengthAdjust="spacingAndGlyphs" style="font-size:12.81px;font-weight:bold" stroke="currentColor" stroke-width="0.35" stroke-linejoin="round">siOGG1</text>
<rect x="173.05" y="514.85" width="16.1" height="10.3" fill="url(#l3)" stroke="#000" stroke-width="2.3"/>
<text class="blk" x="198.2" y="525" textLength="58.42" lengthAdjust="spacingAndGlyphs" style="font-size:12.04px;font-weight:bold" stroke="currentColor" stroke-width="0.35" stroke-linejoin="round">NC+BLM</text>
<rect x="173.05" y="536.05" width="16.1" height="10.3" fill="url(#l4)" stroke="#000" stroke-width="2.3"/>
<text class="blk" x="198.62" y="545.7" textLength="89.78" lengthAdjust="spacingAndGlyphs" style="font-size:12.12px;font-weight:bold" stroke="currentColor" stroke-width="0.35" stroke-linejoin="round">siOGG1+BLM</text>
<text class="blk" x="229.26" y="641.95" textLength="8.02" lengthAdjust="spacingAndGlyphs" style="font-size:15px;font-weight:bold" stroke="currentColor" stroke-width="1.3" stroke-linejoin="round">#</text>
<text class="blk" x="301.65" y="553.87" textLength="8.68" lengthAdjust="spacingAndGlyphs" style="font-size:23.51px;font-weight:bold" stroke="currentColor" stroke-width="1.3" stroke-linejoin="round">*</text>
<path d="M501.4,510.9V509.6 M498.3,509.6H504.5" stroke="#000" stroke-width="2.2" stroke-linecap="round"/>
<rect x="496.2" y="512" width="10.4" height="142.9" fill="url(#p1)" stroke="#000" stroke-width="2.2"/>
<path d="M517.6,517.2V515.9 M514.5,515.9H520.7" stroke="#000" stroke-width="2.2" stroke-linecap="round"/>
<rect x="512.3" y="518.3" width="10.6" height="136.6" fill="url(#p2)" stroke="#000" stroke-width="2.2"/>
<path d="M533.6,555.5V551.5 M530.5,551.5H536.7" stroke="#000" stroke-width="2.2" stroke-linecap="round"/>
<rect x="528.3" y="556.6" width="10.6" height="98.3" fill="url(#p3)" stroke="#000" stroke-width="2.2"/>
<path d="M549.5,559.5V555.1 M546.4,555.1H552.6" stroke="#000" stroke-width="2.2" stroke-linecap="round"/>
<rect x="544.3" y="560.6" width="10.4" height="94.3" fill="url(#p4)" stroke="#000" stroke-width="2.2"/>
<path d="M533.2,654.9V661.2" stroke="#000" stroke-width="2.2"/>
<path d="M592.3,621.5V620.1 M589.2,620.1H595.4" stroke="#000" stroke-width="2.2" stroke-linecap="round"/>
<rect x="587.2" y="622.6" width="10.2" height="32.3" fill="url(#p1)" stroke="#000" stroke-width="2.2"/>
<path d="M608.3,616.2V614.9 M605.2,614.9H611.4" stroke="#000" stroke-width="2.2" stroke-linecap="round"/>
<rect x="603.1" y="617.3" width="10.4" height="37.6" fill="url(#p2)" stroke="#000" stroke-width="2.2"/>
<path d="M624.3,627.8V621 M621.2,621H627.4" stroke="#000" stroke-width="2.2" stroke-linecap="round"/>
<rect x="619.4" y="628.9" width="9.8" height="26" fill="url(#p3)" stroke="#000" stroke-width="2.2"/>
<path d="M640.15,593.3V586.6 M637.05,586.6H643.25" stroke="#000" stroke-width="2.2" stroke-linecap="round"/>
<rect x="634.7" y="594.4" width="10.9" height="60.5" fill="url(#p4)" stroke="#000" stroke-width="2.2"/>
<path d="M624.3,654.9V661.2" stroke="#000" stroke-width="2.2"/>
<path d="M683.25,647.8V646.6 M680.15,646.6H686.35" stroke="#000" stroke-width="2.2" stroke-linecap="round"/>
<rect x="678.1" y="648.9" width="10.3" height="6" fill="url(#p1)" stroke="#000" stroke-width="2.2"/>
<path d="M699.25,645.4V644 M696.15,644H702.35" stroke="#000" stroke-width="2.2" stroke-linecap="round"/>
<rect x="694.1" y="646.5" width="10.3" height="8.4" fill="url(#p2)" stroke="#000" stroke-width="2.2"/>
<path d="M714.8,597.7V593.4 M711.7,593.4H717.9" stroke="#000" stroke-width="2.2" stroke-linecap="round"/>
<rect x="709.7" y="598.8" width="10.2" height="56.1" fill="url(#p3)" stroke="#000" stroke-width="2.2"/>
<path d="M730.7,628.1V625.7 M727.6,625.7H733.8" stroke="#000" stroke-width="2.2" stroke-linecap="round"/>
<rect x="725.5" y="629.2" width="10.4" height="25.7" fill="url(#p4)" stroke="#000" stroke-width="2.2"/>
<path d="M715,654.9V661.2" stroke="#000" stroke-width="2.2"/>
<path d="M487.8,472.65V654.9H763" fill="none" stroke="#000" stroke-width="2.3"/>
<path d="M481.3,654.9H487.8" stroke="#000" stroke-width="2.2"/>
<text class="blk" x="471.93" y="659.62" textLength="8.57" lengthAdjust="spacingAndGlyphs" style="font-size:12.54px;font-weight:bold" stroke="currentColor" stroke-width="1.1" stroke-linejoin="round">0</text>
<path d="M481.3,618.65H487.8" stroke="#000" stroke-width="2.2"/>
<text class="blk" x="461.54" y="623.37" textLength="18.96" lengthAdjust="spacingAndGlyphs" style="font-size:12.54px;font-weight:bold" stroke="currentColor" stroke-width="1.1" stroke-linejoin="round">20</text>
<path d="M481.3,582.4H487.8" stroke="#000" stroke-width="2.2"/>
<text class="blk" x="461.71" y="587.12" textLength="18.78" lengthAdjust="spacingAndGlyphs" style="font-size:12.54px;font-weight:bold" stroke="currentColor" stroke-width="1.1" stroke-linejoin="round">40</text>
<path d="M481.3,546.15H487.8" stroke="#000" stroke-width="2.2"/>
<text class="blk" x="461.36" y="550.87" textLength="19.14" lengthAdjust="spacingAndGlyphs" style="font-size:12.54px;font-weight:bold" stroke="currentColor" stroke-width="1.1" stroke-linejoin="round">60</text>
<path d="M481.3,509.9H487.8" stroke="#000" stroke-width="2.2"/>
<text class="blk" x="461.54" y="514.62" textLength="18.96" lengthAdjust="spacingAndGlyphs" style="font-size:12.54px;font-weight:bold" stroke="currentColor" stroke-width="1.1" stroke-linejoin="round">80</text>
<path d="M481.3,473.65H487.8" stroke="#000" stroke-width="2.2"/>
<text class="blk" x="451.63" y="478.37" textLength="28.27" lengthAdjust="spacingAndGlyphs" style="font-size:12.54px;font-weight:bold" stroke="currentColor" stroke-width="1.1" stroke-linejoin="round">100</text>
<text class="blk" text-anchor="end" transform="translate(536.8,676.5) rotate(-45)" style="font-size:15.2px;font-weight:bold" stroke="currentColor" stroke-width="0.55" stroke-linejoin="round">G1</text>
<text class="blk" text-anchor="end" transform="translate(627.9,676.5) rotate(-45)" style="font-size:14px;font-weight:bold" stroke="currentColor" stroke-width="0.55" stroke-linejoin="round">S</text>
<text class="blk" text-anchor="end" transform="translate(718.6,676.5) rotate(-45)" style="font-size:15.2px;font-weight:bold" stroke="currentColor" stroke-width="0.55" stroke-linejoin="round">G2</text>
<g transform="rotate(-90)"><text class="blk" x="-644.36" y="440.95" textLength="164.79" lengthAdjust="spacingAndGlyphs" style="font-size:14.3px;font-weight:bold" stroke="currentColor" stroke-width="0.9" stroke-linejoin="round">Cell percentage (%)</text></g>
<rect x="633.35" y="475.45" width="16.1" height="11.3" fill="url(#l1)" stroke="#000" stroke-width="2.3"/>
<text class="blk" x="659.24" y="485.8" textLength="19.09" lengthAdjust="spacingAndGlyphs" style="font-size:12.18px;font-weight:bold" stroke="currentColor" stroke-width="0.35" stroke-linejoin="round">VC</text>
<rect x="633.35" y="495.45" width="16.1" height="10.8" fill="url(#l2)" stroke="#000" stroke-width="2.3"/>
<text class="blk" x="658.84" y="505.5" textLength="38.99" lengthAdjust="spacingAndGlyphs" style="font-size:12.46px;font-weight:bold" stroke="currentColor" stroke-width="0.35" stroke-linejoin="round">OGG1</text>
<rect x="633.35" y="515.05" width="16.1" height="10.8" fill="url(#l3)" stroke="#000" stroke-width="2.3"/>
<text class="blk" x="659.24" y="525.5" textLength="57.82" lengthAdjust="spacingAndGlyphs" style="font-size:12.46px;font-weight:bold" stroke="currentColor" stroke-width="0.35" stroke-linejoin="round">VC+BLM</text>
<rect x="633.35" y="536.55" width="16.1" height="10.8" fill="url(#l4)" stroke="#000" stroke-width="2.3"/>
<text class="blk" x="658.81" y="546.7" textLength="79.05" lengthAdjust="spacingAndGlyphs" style="font-size:12.46px;font-weight:bold" stroke="currentColor" stroke-width="0.35" stroke-linejoin="round">OGG1+BLM</text>
<text class="blk" x="636.75" y="582.95" textLength="8.45" lengthAdjust="spacingAndGlyphs" style="font-size:13.68px;font-weight:bold" stroke="currentColor" stroke-width="1.3" stroke-linejoin="round">#</text>
<text class="blk" x="710.95" y="596.91" textLength="8.98" lengthAdjust="spacingAndGlyphs" style="font-size:20.81px;font-weight:bold" stroke="currentColor" stroke-width="1.3" stroke-linejoin="round">*</text>
<path d="M142.45,556.2V654.1" stroke="#444" stroke-width="0.9"/>
<path d="M232.45,646.2V654.1" stroke="#444" stroke-width="0.9"/>
<path d="M322.55,540.5V654.1" stroke="#444" stroke-width="0.9"/>
<path d="M549.5,561.7V653.9" stroke="#444" stroke-width="0.9"/>
<path d="M640.15,595.5V653.9" stroke="#444" stroke-width="0.9"/>
<path d="M730.7,630.3V653.9" stroke="#444" stroke-width="0.9"/>
<text class="blk" x="8.86" y="17.1" textLength="15.43" lengthAdjust="spacingAndGlyphs" style="font-size:18.99px;font-weight:bold" stroke="currentColor" stroke-width="1.4" stroke-linejoin="round">A</text>
<text class="blk" x="403.81" y="17.4" textLength="14.33" lengthAdjust="spacingAndGlyphs" style="font-size:19.58px;font-weight:bold" stroke="currentColor" stroke-width="1.4" stroke-linejoin="round">C</text>
<text class="blk" x="9.24" y="465.1" textLength="15.04" lengthAdjust="spacingAndGlyphs" style="font-size:19.71px;font-weight:bold" stroke="currentColor" stroke-width="1.4" stroke-linejoin="round">B</text>
<text class="blk" x="396.28" y="468.1" textLength="14.68" lengthAdjust="spacingAndGlyphs" style="font-size:19.71px;font-weight:bold" stroke="currentColor" stroke-width="1.4" stroke-linejoin="round">D</text>
</svg>
</body></html>
